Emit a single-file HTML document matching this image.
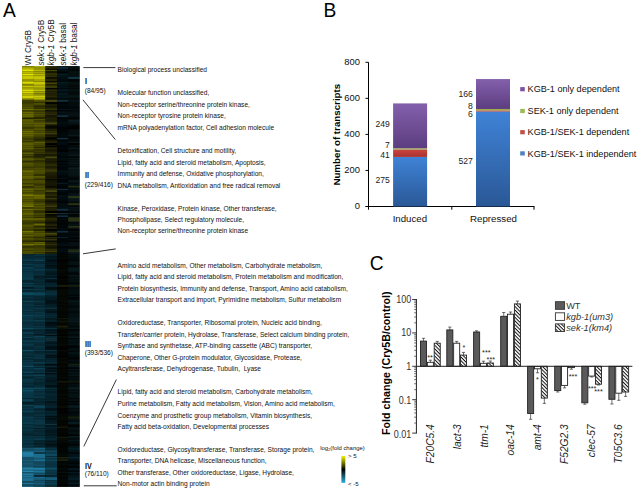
<!DOCTYPE html>
<html><head><meta charset="utf-8"><style>
html,body{margin:0;padding:0;background:#fff;width:639px;height:491px;overflow:hidden}
svg{display:block;font-family:"Liberation Sans", sans-serif}
</style></head><body>
<svg width="639" height="491" viewBox="0 0 639 491">
<defs>
<pattern id="hatch" patternUnits="userSpaceOnUse" width="2.55" height="2.55" patternTransform="rotate(45)">
<rect width="2.55" height="2.55" fill="#fff"/><rect x="0" y="0" width="2.55" height="1.0" fill="#111"/>
</pattern>
<linearGradient id="gPur" x1="0" y1="0" x2="0" y2="1"><stop offset="0" stop-color="#8460ac"/><stop offset="1" stop-color="#5c3d80"/></linearGradient>
<linearGradient id="gGrn" x1="0" y1="0" x2="0" y2="1"><stop offset="0" stop-color="#a8b850"/><stop offset="1" stop-color="#8a9a40"/></linearGradient>
<linearGradient id="gRed" x1="0" y1="0" x2="0" y2="1"><stop offset="0" stop-color="#cc4440"/><stop offset="1" stop-color="#a83330"/></linearGradient>
<linearGradient id="gBlu" x1="0" y1="0" x2="0" y2="1"><stop offset="0" stop-color="#3f82d6"/><stop offset="1" stop-color="#2a5896"/></linearGradient>
<linearGradient id="gBlu2" x1="0" y1="0" x2="0" y2="1"><stop offset="0" stop-color="#3f82d6"/><stop offset="1" stop-color="#2a5896"/></linearGradient>
<linearGradient id="cbar" x1="0" y1="0" x2="0" y2="1"><stop offset="0" stop-color="#f2f200"/><stop offset="0.5" stop-color="#000"/><stop offset="1" stop-color="#30b0e0"/></linearGradient>
</defs>

<text transform="translate(2.9,16.9) scale(0.95,1)" font-size="20.2" fill="#000">A</text>
<text transform="translate(323.4,16.9) scale(0.95,1)" font-size="20.2" fill="#000">B</text>
<text transform="translate(369.8,269.9) scale(0.95,1)" font-size="20.2" fill="#000">C</text>
<g>
<rect x="22.1" y="66.2" width="57.449999999999996" height="420.6" fill="#050a0a"/>
<rect x="22.10" y="66.20" width="11.80" height="1.15" fill="rgb(150, 150, 0)"/>
<rect x="33.85" y="66.20" width="11.50" height="1.15" fill="rgb(201, 201, 6)"/>
<rect x="45.30" y="66.20" width="11.75" height="1.15" fill="rgb(44, 44, 3)"/>
<rect x="57.00" y="66.20" width="11.20" height="1.15" fill="rgb(3, 21, 27)"/>
<rect x="68.15" y="66.20" width="11.45" height="1.15" fill="rgb(7, 19, 19)"/>
<rect x="22.10" y="67.30" width="11.80" height="1.55" fill="rgb(199, 199, 0)"/>
<rect x="33.85" y="67.30" width="11.50" height="1.55" fill="rgb(172, 172, 5)"/>
<rect x="45.30" y="67.30" width="11.75" height="1.55" fill="rgb(40, 40, 3)"/>
<rect x="57.00" y="67.30" width="11.20" height="1.55" fill="rgb(18, 50, 64)"/>
<rect x="68.15" y="67.30" width="11.45" height="1.55" fill="rgb(5, 16, 16)"/>
<rect x="22.10" y="68.80" width="11.80" height="1.15" fill="rgb(202, 202, 0)"/>
<rect x="33.85" y="68.80" width="11.50" height="1.15" fill="rgb(154, 154, 4)"/>
<rect x="45.30" y="68.80" width="11.75" height="1.15" fill="rgb(8, 8, 0)"/>
<rect x="57.00" y="68.80" width="11.20" height="1.15" fill="rgb(2, 13, 16)"/>
<rect x="68.15" y="68.80" width="11.45" height="1.15" fill="rgb(4, 11, 11)"/>
<rect x="22.10" y="69.90" width="11.80" height="1.55" fill="rgb(228, 228, 0)"/>
<rect x="33.85" y="69.90" width="11.50" height="1.55" fill="rgb(184, 184, 5)"/>
<rect x="45.30" y="69.90" width="11.75" height="1.55" fill="rgb(70, 70, 5)"/>
<rect x="57.00" y="69.90" width="11.20" height="1.55" fill="rgb(3, 21, 26)"/>
<rect x="68.15" y="69.90" width="11.45" height="1.55" fill="rgb(2, 8, 8)"/>
<rect x="22.10" y="71.40" width="11.80" height="1.55" fill="rgb(196, 196, 0)"/>
<rect x="33.85" y="71.40" width="11.50" height="1.55" fill="rgb(173, 173, 5)"/>
<rect x="45.30" y="71.40" width="11.75" height="1.55" fill="rgb(18, 18, 1)"/>
<rect x="57.00" y="71.40" width="11.20" height="1.55" fill="rgb(0, 5, 6)"/>
<rect x="68.15" y="71.40" width="11.45" height="1.55" fill="rgb(7, 20, 20)"/>
<rect x="22.10" y="72.90" width="11.80" height="0.75" fill="rgb(189, 189, 0)"/>
<rect x="33.85" y="72.90" width="11.50" height="0.75" fill="rgb(180, 180, 5)"/>
<rect x="45.30" y="72.90" width="11.75" height="0.75" fill="rgb(70, 70, 5)"/>
<rect x="57.00" y="72.90" width="11.20" height="0.75" fill="rgb(1, 6, 7)"/>
<rect x="68.15" y="72.90" width="11.45" height="0.75" fill="rgb(6, 17, 17)"/>
<rect x="22.10" y="73.60" width="11.80" height="1.85" fill="rgb(228, 228, 0)"/>
<rect x="33.85" y="73.60" width="11.50" height="1.85" fill="rgb(184, 184, 5)"/>
<rect x="45.30" y="73.60" width="11.75" height="1.85" fill="rgb(46, 46, 3)"/>
<rect x="57.00" y="73.60" width="11.20" height="1.85" fill="rgb(4, 28, 34)"/>
<rect x="68.15" y="73.60" width="11.45" height="1.85" fill="rgb(5, 16, 16)"/>
<rect x="22.10" y="75.40" width="11.80" height="1.55" fill="rgb(210, 210, 0)"/>
<rect x="33.85" y="75.40" width="11.50" height="1.55" fill="rgb(198, 198, 6)"/>
<rect x="45.30" y="75.40" width="11.75" height="1.55" fill="rgb(53, 53, 4)"/>
<rect x="57.00" y="75.40" width="11.20" height="1.55" fill="rgb(4, 24, 29)"/>
<rect x="68.15" y="75.40" width="11.45" height="1.55" fill="rgb(6, 17, 17)"/>
<rect x="22.10" y="76.90" width="11.80" height="2.15" fill="rgb(200, 200, 0)"/>
<rect x="33.85" y="76.90" width="11.50" height="2.15" fill="rgb(197, 197, 6)"/>
<rect x="45.30" y="76.90" width="11.75" height="2.15" fill="rgb(16, 16, 1)"/>
<rect x="57.00" y="76.90" width="11.20" height="2.15" fill="rgb(2, 14, 18)"/>
<rect x="68.15" y="76.90" width="11.45" height="2.15" fill="rgb(18, 50, 64)"/>
<rect x="22.10" y="79.00" width="11.80" height="2.15" fill="rgb(150, 150, 0)"/>
<rect x="33.85" y="79.00" width="11.50" height="2.15" fill="rgb(167, 167, 5)"/>
<rect x="45.30" y="79.00" width="11.75" height="2.15" fill="rgb(37, 37, 2)"/>
<rect x="57.00" y="79.00" width="11.20" height="2.15" fill="rgb(1, 11, 13)"/>
<rect x="68.15" y="79.00" width="11.45" height="2.15" fill="rgb(2, 5, 5)"/>
<rect x="22.10" y="81.10" width="11.80" height="0.75" fill="rgb(192, 192, 0)"/>
<rect x="33.85" y="81.10" width="11.50" height="0.75" fill="rgb(157, 157, 5)"/>
<rect x="45.30" y="81.10" width="11.75" height="0.75" fill="rgb(1, 1, 0)"/>
<rect x="57.00" y="81.10" width="11.20" height="0.75" fill="rgb(0, 1, 2)"/>
<rect x="68.15" y="81.10" width="11.45" height="0.75" fill="rgb(2, 7, 7)"/>
<rect x="22.10" y="81.80" width="11.80" height="1.35" fill="rgb(219, 219, 0)"/>
<rect x="33.85" y="81.80" width="11.50" height="1.35" fill="rgb(201, 201, 6)"/>
<rect x="45.30" y="81.80" width="11.75" height="1.35" fill="rgb(45, 45, 3)"/>
<rect x="57.00" y="81.80" width="11.20" height="1.35" fill="rgb(5, 31, 38)"/>
<rect x="68.15" y="81.80" width="11.45" height="1.35" fill="rgb(6, 17, 17)"/>
<rect x="22.10" y="83.10" width="11.80" height="1.15" fill="rgb(212, 212, 0)"/>
<rect x="33.85" y="83.10" width="11.50" height="1.15" fill="rgb(215, 215, 6)"/>
<rect x="45.30" y="83.10" width="11.75" height="1.15" fill="rgb(75, 75, 5)"/>
<rect x="57.00" y="83.10" width="11.20" height="1.15" fill="rgb(3, 21, 26)"/>
<rect x="68.15" y="83.10" width="11.45" height="1.15" fill="rgb(7, 21, 21)"/>
<rect x="22.10" y="84.20" width="11.80" height="1.35" fill="rgb(150, 150, 0)"/>
<rect x="33.85" y="84.20" width="11.50" height="1.35" fill="rgb(208, 208, 6)"/>
<rect x="45.30" y="84.20" width="11.75" height="1.35" fill="rgb(34, 34, 2)"/>
<rect x="57.00" y="84.20" width="11.20" height="1.35" fill="rgb(4, 25, 31)"/>
<rect x="68.15" y="84.20" width="11.45" height="1.35" fill="rgb(5, 16, 16)"/>
<rect x="22.10" y="85.50" width="11.80" height="1.85" fill="rgb(198, 198, 0)"/>
<rect x="33.85" y="85.50" width="11.50" height="1.85" fill="rgb(189, 189, 6)"/>
<rect x="45.30" y="85.50" width="11.75" height="1.85" fill="rgb(60, 60, 4)"/>
<rect x="57.00" y="85.50" width="11.20" height="1.85" fill="rgb(2, 14, 18)"/>
<rect x="68.15" y="85.50" width="11.45" height="1.85" fill="rgb(4, 11, 11)"/>
<rect x="22.10" y="87.30" width="11.80" height="0.95" fill="rgb(188, 188, 0)"/>
<rect x="33.85" y="87.30" width="11.50" height="0.95" fill="rgb(197, 197, 6)"/>
<rect x="45.30" y="87.30" width="11.75" height="0.95" fill="rgb(70, 70, 15)"/>
<rect x="57.00" y="87.30" width="11.20" height="0.95" fill="rgb(4, 24, 30)"/>
<rect x="68.15" y="87.30" width="11.45" height="0.95" fill="rgb(6, 17, 17)"/>
<rect x="22.10" y="88.20" width="11.80" height="1.15" fill="rgb(193, 193, 0)"/>
<rect x="33.85" y="88.20" width="11.50" height="1.15" fill="rgb(176, 176, 5)"/>
<rect x="45.30" y="88.20" width="11.75" height="1.15" fill="rgb(1, 1, 0)"/>
<rect x="57.00" y="88.20" width="11.20" height="1.15" fill="rgb(1, 8, 10)"/>
<rect x="68.15" y="88.20" width="11.45" height="1.15" fill="rgb(3, 8, 8)"/>
<rect x="22.10" y="89.30" width="11.80" height="2.15" fill="rgb(226, 226, 0)"/>
<rect x="33.85" y="89.30" width="11.50" height="2.15" fill="rgb(194, 194, 6)"/>
<rect x="45.30" y="89.30" width="11.75" height="2.15" fill="rgb(41, 41, 3)"/>
<rect x="57.00" y="89.30" width="11.20" height="2.15" fill="rgb(4, 26, 32)"/>
<rect x="68.15" y="89.30" width="11.45" height="2.15" fill="rgb(6, 19, 19)"/>
<rect x="22.10" y="91.40" width="11.80" height="1.85" fill="rgb(216, 216, 0)"/>
<rect x="33.85" y="91.40" width="11.50" height="1.85" fill="rgb(165, 165, 5)"/>
<rect x="45.30" y="91.40" width="11.75" height="1.85" fill="rgb(36, 36, 2)"/>
<rect x="57.00" y="91.40" width="11.20" height="1.85" fill="rgb(2, 14, 17)"/>
<rect x="68.15" y="91.40" width="11.45" height="1.85" fill="rgb(4, 12, 12)"/>
<rect x="22.10" y="93.20" width="11.80" height="2.15" fill="rgb(182, 182, 0)"/>
<rect x="33.85" y="93.20" width="11.50" height="2.15" fill="rgb(144, 144, 4)"/>
<rect x="45.30" y="93.20" width="11.75" height="2.15" fill="rgb(33, 33, 2)"/>
<rect x="57.00" y="93.20" width="11.20" height="2.15" fill="rgb(4, 24, 30)"/>
<rect x="68.15" y="93.20" width="11.45" height="2.15" fill="rgb(4, 12, 12)"/>
<rect x="22.10" y="95.30" width="11.80" height="1.85" fill="rgb(208, 208, 0)"/>
<rect x="33.85" y="95.30" width="11.50" height="1.85" fill="rgb(203, 203, 6)"/>
<rect x="45.30" y="95.30" width="11.75" height="1.85" fill="rgb(40, 40, 3)"/>
<rect x="57.00" y="95.30" width="11.20" height="1.85" fill="rgb(3, 21, 27)"/>
<rect x="68.15" y="95.30" width="11.45" height="1.85" fill="rgb(8, 24, 24)"/>
<rect x="22.10" y="97.10" width="11.80" height="0.95" fill="rgb(228, 228, 0)"/>
<rect x="33.85" y="97.10" width="11.50" height="0.95" fill="rgb(190, 190, 6)"/>
<rect x="45.30" y="97.10" width="11.75" height="0.95" fill="rgb(28, 28, 2)"/>
<rect x="57.00" y="97.10" width="11.20" height="0.95" fill="rgb(4, 26, 32)"/>
<rect x="68.15" y="97.10" width="11.45" height="0.95" fill="rgb(6, 17, 17)"/>
<rect x="22.10" y="98.00" width="11.80" height="1.85" fill="rgb(150, 150, 0)"/>
<rect x="33.85" y="98.00" width="11.50" height="1.85" fill="rgb(184, 184, 5)"/>
<rect x="45.30" y="98.00" width="11.75" height="1.85" fill="rgb(16, 16, 1)"/>
<rect x="57.00" y="98.00" width="11.20" height="1.85" fill="rgb(1, 9, 11)"/>
<rect x="68.15" y="98.00" width="11.45" height="1.85" fill="rgb(3, 10, 10)"/>
<rect x="22.10" y="99.80" width="11.80" height="2.15" fill="rgb(61, 61, 0)"/>
<rect x="33.85" y="99.80" width="11.50" height="2.15" fill="rgb(85, 85, 0)"/>
<rect x="45.30" y="99.80" width="11.75" height="2.15" fill="rgb(70, 70, 15)"/>
<rect x="57.00" y="99.80" width="11.20" height="2.15" fill="rgb(15, 45, 58)"/>
<rect x="68.15" y="99.80" width="11.45" height="2.15" fill="rgb(8, 20, 23)"/>
<rect x="22.10" y="101.90" width="11.80" height="0.75" fill="rgb(79, 79, 0)"/>
<rect x="33.85" y="101.90" width="11.50" height="0.75" fill="rgb(39, 39, 0)"/>
<rect x="45.30" y="101.90" width="11.75" height="0.75" fill="rgb(17, 17, 2)"/>
<rect x="57.00" y="101.90" width="11.20" height="0.75" fill="rgb(0, 1, 1)"/>
<rect x="68.15" y="101.90" width="11.45" height="0.75" fill="rgb(4, 11, 12)"/>
<rect x="22.10" y="102.60" width="11.80" height="1.85" fill="rgb(61, 61, 0)"/>
<rect x="33.85" y="102.60" width="11.50" height="1.85" fill="rgb(79, 79, 0)"/>
<rect x="45.30" y="102.60" width="11.75" height="1.85" fill="rgb(1, 1, 0)"/>
<rect x="57.00" y="102.60" width="11.20" height="1.85" fill="rgb(1, 4, 6)"/>
<rect x="68.15" y="102.60" width="11.45" height="1.85" fill="rgb(4, 12, 13)"/>
<rect x="22.10" y="104.40" width="11.80" height="1.15" fill="rgb(97, 97, 0)"/>
<rect x="33.85" y="104.40" width="11.50" height="1.15" fill="rgb(99, 99, 0)"/>
<rect x="45.30" y="104.40" width="11.75" height="1.15" fill="rgb(43, 43, 7)"/>
<rect x="57.00" y="104.40" width="11.20" height="1.15" fill="rgb(2, 12, 16)"/>
<rect x="68.15" y="104.40" width="11.45" height="1.15" fill="rgb(6, 15, 18)"/>
<rect x="22.10" y="105.50" width="11.80" height="0.95" fill="rgb(93, 93, 0)"/>
<rect x="33.85" y="105.50" width="11.50" height="0.95" fill="rgb(47, 47, 0)"/>
<rect x="45.30" y="105.50" width="11.75" height="0.95" fill="rgb(33, 33, 5)"/>
<rect x="57.00" y="105.50" width="11.20" height="0.95" fill="rgb(2, 10, 14)"/>
<rect x="68.15" y="105.50" width="11.45" height="0.95" fill="rgb(5, 12, 14)"/>
<rect x="22.10" y="106.40" width="11.80" height="1.85" fill="rgb(81, 81, 0)"/>
<rect x="33.85" y="106.40" width="11.50" height="1.85" fill="rgb(54, 54, 0)"/>
<rect x="45.30" y="106.40" width="11.75" height="1.85" fill="rgb(26, 26, 4)"/>
<rect x="57.00" y="106.40" width="11.20" height="1.85" fill="rgb(1, 5, 7)"/>
<rect x="68.15" y="106.40" width="11.45" height="1.85" fill="rgb(3, 8, 10)"/>
<rect x="22.10" y="108.20" width="11.80" height="0.75" fill="rgb(87, 87, 0)"/>
<rect x="33.85" y="108.20" width="11.50" height="0.75" fill="rgb(51, 51, 0)"/>
<rect x="45.30" y="108.20" width="11.75" height="0.75" fill="rgb(51, 51, 8)"/>
<rect x="57.00" y="108.20" width="11.20" height="0.75" fill="rgb(1, 8, 11)"/>
<rect x="68.15" y="108.20" width="11.45" height="0.75" fill="rgb(3, 8, 9)"/>
<rect x="22.10" y="108.90" width="11.80" height="1.15" fill="rgb(109, 109, 0)"/>
<rect x="33.85" y="108.90" width="11.50" height="1.15" fill="rgb(89, 89, 0)"/>
<rect x="45.30" y="108.90" width="11.75" height="1.15" fill="rgb(51, 51, 8)"/>
<rect x="57.00" y="108.90" width="11.20" height="1.15" fill="rgb(4, 19, 25)"/>
<rect x="68.15" y="108.90" width="11.45" height="1.15" fill="rgb(6, 16, 18)"/>
<rect x="22.10" y="110.00" width="11.80" height="1.55" fill="rgb(62, 62, 0)"/>
<rect x="33.85" y="110.00" width="11.50" height="1.55" fill="rgb(60, 60, 0)"/>
<rect x="45.30" y="110.00" width="11.75" height="1.55" fill="rgb(19, 19, 3)"/>
<rect x="57.00" y="110.00" width="11.20" height="1.55" fill="rgb(0, 3, 5)"/>
<rect x="68.15" y="110.00" width="11.45" height="1.55" fill="rgb(3, 9, 11)"/>
<rect x="22.10" y="111.50" width="11.80" height="2.15" fill="rgb(103, 103, 0)"/>
<rect x="33.85" y="111.50" width="11.50" height="2.15" fill="rgb(73, 73, 0)"/>
<rect x="45.30" y="111.50" width="11.75" height="2.15" fill="rgb(38, 38, 6)"/>
<rect x="57.00" y="111.50" width="11.20" height="2.15" fill="rgb(4, 20, 27)"/>
<rect x="68.15" y="111.50" width="11.45" height="2.15" fill="rgb(6, 15, 18)"/>
<rect x="22.10" y="113.60" width="11.80" height="1.55" fill="rgb(106, 106, 0)"/>
<rect x="33.85" y="113.60" width="11.50" height="1.55" fill="rgb(81, 81, 0)"/>
<rect x="45.30" y="113.60" width="11.75" height="1.55" fill="rgb(43, 43, 7)"/>
<rect x="57.00" y="113.60" width="11.20" height="1.55" fill="rgb(3, 13, 18)"/>
<rect x="68.15" y="113.60" width="11.45" height="1.55" fill="rgb(8, 20, 22)"/>
<rect x="22.10" y="115.10" width="11.80" height="2.15" fill="rgb(103, 103, 0)"/>
<rect x="33.85" y="115.10" width="11.50" height="2.15" fill="rgb(69, 69, 0)"/>
<rect x="45.30" y="115.10" width="11.75" height="2.15" fill="rgb(24, 24, 4)"/>
<rect x="57.00" y="115.10" width="11.20" height="2.15" fill="rgb(15, 45, 58)"/>
<rect x="68.15" y="115.10" width="11.45" height="2.15" fill="rgb(6, 16, 18)"/>
<rect x="22.10" y="117.20" width="11.80" height="0.95" fill="rgb(77, 77, 0)"/>
<rect x="33.85" y="117.20" width="11.50" height="0.95" fill="rgb(42, 42, 0)"/>
<rect x="45.30" y="117.20" width="11.75" height="0.95" fill="rgb(29, 29, 4)"/>
<rect x="57.00" y="117.20" width="11.20" height="0.95" fill="rgb(0, 4, 5)"/>
<rect x="68.15" y="117.20" width="11.45" height="0.95" fill="rgb(2, 5, 6)"/>
<rect x="22.10" y="118.10" width="11.80" height="1.15" fill="rgb(38, 38, 0)"/>
<rect x="33.85" y="118.10" width="11.50" height="1.15" fill="rgb(44, 44, 0)"/>
<rect x="45.30" y="118.10" width="11.75" height="1.15" fill="rgb(39, 39, 6)"/>
<rect x="57.00" y="118.10" width="11.20" height="1.15" fill="rgb(0, 3, 4)"/>
<rect x="68.15" y="118.10" width="11.45" height="1.15" fill="rgb(2, 5, 6)"/>
<rect x="22.10" y="119.20" width="11.80" height="0.95" fill="rgb(102, 102, 0)"/>
<rect x="33.85" y="119.20" width="11.50" height="0.95" fill="rgb(99, 99, 0)"/>
<rect x="45.30" y="119.20" width="11.75" height="0.95" fill="rgb(33, 33, 5)"/>
<rect x="57.00" y="119.20" width="11.20" height="0.95" fill="rgb(2, 10, 14)"/>
<rect x="68.15" y="119.20" width="11.45" height="0.95" fill="rgb(6, 16, 18)"/>
<rect x="22.10" y="120.10" width="11.80" height="1.55" fill="rgb(97, 97, 0)"/>
<rect x="33.85" y="120.10" width="11.50" height="1.55" fill="rgb(63, 63, 0)"/>
<rect x="45.30" y="120.10" width="11.75" height="1.55" fill="rgb(32, 32, 5)"/>
<rect x="57.00" y="120.10" width="11.20" height="1.55" fill="rgb(1, 8, 11)"/>
<rect x="68.15" y="120.10" width="11.45" height="1.55" fill="rgb(12, 30, 34)"/>
<rect x="22.10" y="121.60" width="11.80" height="0.95" fill="rgb(112, 112, 0)"/>
<rect x="33.85" y="121.60" width="11.50" height="0.95" fill="rgb(96, 96, 0)"/>
<rect x="45.30" y="121.60" width="11.75" height="0.95" fill="rgb(55, 55, 9)"/>
<rect x="57.00" y="121.60" width="11.20" height="0.95" fill="rgb(3, 16, 22)"/>
<rect x="68.15" y="121.60" width="11.45" height="0.95" fill="rgb(10, 26, 30)"/>
<rect x="22.10" y="122.50" width="11.80" height="2.15" fill="rgb(94, 94, 0)"/>
<rect x="33.85" y="122.50" width="11.50" height="2.15" fill="rgb(93, 93, 0)"/>
<rect x="45.30" y="122.50" width="11.75" height="2.15" fill="rgb(70, 70, 15)"/>
<rect x="57.00" y="122.50" width="11.20" height="2.15" fill="rgb(3, 14, 18)"/>
<rect x="68.15" y="122.50" width="11.45" height="2.15" fill="rgb(7, 19, 21)"/>
<rect x="22.10" y="124.60" width="11.80" height="1.55" fill="rgb(83, 83, 0)"/>
<rect x="33.85" y="124.60" width="11.50" height="1.55" fill="rgb(96, 96, 0)"/>
<rect x="45.30" y="124.60" width="11.75" height="1.55" fill="rgb(20, 20, 3)"/>
<rect x="57.00" y="124.60" width="11.20" height="1.55" fill="rgb(2, 10, 13)"/>
<rect x="68.15" y="124.60" width="11.45" height="1.55" fill="rgb(2, 7, 7)"/>
<rect x="22.10" y="126.10" width="11.80" height="1.55" fill="rgb(80, 80, 0)"/>
<rect x="33.85" y="126.10" width="11.50" height="1.55" fill="rgb(86, 86, 0)"/>
<rect x="45.30" y="126.10" width="11.75" height="1.55" fill="rgb(6, 6, 1)"/>
<rect x="57.00" y="126.10" width="11.20" height="1.55" fill="rgb(1, 7, 10)"/>
<rect x="68.15" y="126.10" width="11.45" height="1.55" fill="rgb(1, 3, 3)"/>
<rect x="22.10" y="127.60" width="11.80" height="1.55" fill="rgb(58, 58, 0)"/>
<rect x="33.85" y="127.60" width="11.50" height="1.55" fill="rgb(76, 76, 0)"/>
<rect x="45.30" y="127.60" width="11.75" height="1.55" fill="rgb(16, 16, 2)"/>
<rect x="57.00" y="127.60" width="11.20" height="1.55" fill="rgb(0, 2, 3)"/>
<rect x="68.15" y="127.60" width="11.45" height="1.55" fill="rgb(0, 0, 0)"/>
<rect x="22.10" y="129.10" width="11.80" height="0.75" fill="rgb(102, 102, 0)"/>
<rect x="33.85" y="129.10" width="11.50" height="0.75" fill="rgb(101, 101, 0)"/>
<rect x="45.30" y="129.10" width="11.75" height="0.75" fill="rgb(49, 49, 8)"/>
<rect x="57.00" y="129.10" width="11.20" height="0.75" fill="rgb(1, 7, 9)"/>
<rect x="68.15" y="129.10" width="11.45" height="0.75" fill="rgb(4, 11, 13)"/>
<rect x="22.10" y="129.80" width="11.80" height="0.75" fill="rgb(83, 83, 0)"/>
<rect x="33.85" y="129.80" width="11.50" height="0.75" fill="rgb(97, 97, 0)"/>
<rect x="45.30" y="129.80" width="11.75" height="0.75" fill="rgb(16, 16, 2)"/>
<rect x="57.00" y="129.80" width="11.20" height="0.75" fill="rgb(0, 2, 2)"/>
<rect x="68.15" y="129.80" width="11.45" height="0.75" fill="rgb(4, 11, 13)"/>
<rect x="22.10" y="130.50" width="11.80" height="2.15" fill="rgb(106, 106, 0)"/>
<rect x="33.85" y="130.50" width="11.50" height="2.15" fill="rgb(77, 77, 0)"/>
<rect x="45.30" y="130.50" width="11.75" height="2.15" fill="rgb(47, 47, 7)"/>
<rect x="57.00" y="130.50" width="11.20" height="2.15" fill="rgb(1, 5, 6)"/>
<rect x="68.15" y="130.50" width="11.45" height="2.15" fill="rgb(5, 14, 16)"/>
<rect x="22.10" y="132.60" width="11.80" height="2.15" fill="rgb(105, 105, 0)"/>
<rect x="33.85" y="132.60" width="11.50" height="2.15" fill="rgb(93, 93, 0)"/>
<rect x="45.30" y="132.60" width="11.75" height="2.15" fill="rgb(57, 57, 9)"/>
<rect x="57.00" y="132.60" width="11.20" height="2.15" fill="rgb(2, 9, 12)"/>
<rect x="68.15" y="132.60" width="11.45" height="2.15" fill="rgb(5, 13, 15)"/>
<rect x="22.10" y="134.70" width="11.80" height="1.35" fill="rgb(97, 97, 0)"/>
<rect x="33.85" y="134.70" width="11.50" height="1.35" fill="rgb(69, 69, 0)"/>
<rect x="45.30" y="134.70" width="11.75" height="1.35" fill="rgb(20, 20, 3)"/>
<rect x="57.00" y="134.70" width="11.20" height="1.35" fill="rgb(2, 9, 13)"/>
<rect x="68.15" y="134.70" width="11.45" height="1.35" fill="rgb(10, 25, 28)"/>
<rect x="22.10" y="136.00" width="11.80" height="0.75" fill="rgb(98, 98, 0)"/>
<rect x="33.85" y="136.00" width="11.50" height="0.75" fill="rgb(83, 83, 0)"/>
<rect x="45.30" y="136.00" width="11.75" height="0.75" fill="rgb(46, 46, 7)"/>
<rect x="57.00" y="136.00" width="11.20" height="0.75" fill="rgb(2, 12, 16)"/>
<rect x="68.15" y="136.00" width="11.45" height="0.75" fill="rgb(9, 22, 26)"/>
<rect x="22.10" y="136.70" width="11.80" height="1.15" fill="rgb(88, 88, 0)"/>
<rect x="33.85" y="136.70" width="11.50" height="1.15" fill="rgb(58, 58, 0)"/>
<rect x="45.30" y="136.70" width="11.75" height="1.15" fill="rgb(12, 12, 2)"/>
<rect x="57.00" y="136.70" width="11.20" height="1.15" fill="rgb(0, 4, 5)"/>
<rect x="68.15" y="136.70" width="11.45" height="1.15" fill="rgb(1, 2, 3)"/>
<rect x="22.10" y="137.80" width="11.80" height="1.85" fill="rgb(62, 62, 0)"/>
<rect x="33.85" y="137.80" width="11.50" height="1.85" fill="rgb(45, 45, 0)"/>
<rect x="45.30" y="137.80" width="11.75" height="1.85" fill="rgb(2, 2, 0)"/>
<rect x="57.00" y="137.80" width="11.20" height="1.85" fill="rgb(15, 45, 58)"/>
<rect x="68.15" y="137.80" width="11.45" height="1.85" fill="rgb(2, 5, 6)"/>
<rect x="22.10" y="139.60" width="11.80" height="1.35" fill="rgb(84, 84, 0)"/>
<rect x="33.85" y="139.60" width="11.50" height="1.35" fill="rgb(44, 44, 0)"/>
<rect x="45.30" y="139.60" width="11.75" height="1.35" fill="rgb(23, 23, 3)"/>
<rect x="57.00" y="139.60" width="11.20" height="1.35" fill="rgb(0, 3, 5)"/>
<rect x="68.15" y="139.60" width="11.45" height="1.35" fill="rgb(5, 13, 15)"/>
<rect x="22.10" y="140.90" width="11.80" height="0.95" fill="rgb(52, 52, 0)"/>
<rect x="33.85" y="140.90" width="11.50" height="0.95" fill="rgb(62, 62, 0)"/>
<rect x="45.30" y="140.90" width="11.75" height="0.95" fill="rgb(36, 36, 6)"/>
<rect x="57.00" y="140.90" width="11.20" height="0.95" fill="rgb(2, 12, 16)"/>
<rect x="68.15" y="140.90" width="11.45" height="0.95" fill="rgb(5, 12, 14)"/>
<rect x="22.10" y="141.80" width="11.80" height="1.15" fill="rgb(82, 82, 0)"/>
<rect x="33.85" y="141.80" width="11.50" height="1.15" fill="rgb(98, 98, 0)"/>
<rect x="45.30" y="141.80" width="11.75" height="1.15" fill="rgb(40, 40, 6)"/>
<rect x="57.00" y="141.80" width="11.20" height="1.15" fill="rgb(3, 16, 21)"/>
<rect x="68.15" y="141.80" width="11.45" height="1.15" fill="rgb(12, 30, 34)"/>
<rect x="22.10" y="142.90" width="11.80" height="2.15" fill="rgb(92, 92, 0)"/>
<rect x="33.85" y="142.90" width="11.50" height="2.15" fill="rgb(72, 72, 0)"/>
<rect x="45.30" y="142.90" width="11.75" height="2.15" fill="rgb(1, 1, 0)"/>
<rect x="57.00" y="142.90" width="11.20" height="2.15" fill="rgb(2, 11, 15)"/>
<rect x="68.15" y="142.90" width="11.45" height="2.15" fill="rgb(0, 0, 0)"/>
<rect x="22.10" y="145.00" width="11.80" height="0.75" fill="rgb(89, 89, 0)"/>
<rect x="33.85" y="145.00" width="11.50" height="0.75" fill="rgb(76, 76, 0)"/>
<rect x="45.30" y="145.00" width="11.75" height="0.75" fill="rgb(34, 34, 5)"/>
<rect x="57.00" y="145.00" width="11.20" height="0.75" fill="rgb(0, 3, 4)"/>
<rect x="68.15" y="145.00" width="11.45" height="0.75" fill="rgb(8, 20, 23)"/>
<rect x="22.10" y="145.70" width="11.80" height="1.35" fill="rgb(90, 90, 0)"/>
<rect x="33.85" y="145.70" width="11.50" height="1.35" fill="rgb(63, 63, 0)"/>
<rect x="45.30" y="145.70" width="11.75" height="1.35" fill="rgb(1, 1, 0)"/>
<rect x="57.00" y="145.70" width="11.20" height="1.35" fill="rgb(1, 6, 8)"/>
<rect x="68.15" y="145.70" width="11.45" height="1.35" fill="rgb(3, 8, 9)"/>
<rect x="22.10" y="147.00" width="11.80" height="0.95" fill="rgb(79, 79, 0)"/>
<rect x="33.85" y="147.00" width="11.50" height="0.95" fill="rgb(41, 41, 0)"/>
<rect x="45.30" y="147.00" width="11.75" height="0.95" fill="rgb(27, 27, 4)"/>
<rect x="57.00" y="147.00" width="11.20" height="0.95" fill="rgb(1, 5, 6)"/>
<rect x="68.15" y="147.00" width="11.45" height="0.95" fill="rgb(6, 15, 17)"/>
<rect x="22.10" y="147.90" width="11.80" height="1.55" fill="rgb(93, 93, 0)"/>
<rect x="33.85" y="147.90" width="11.50" height="1.55" fill="rgb(70, 70, 0)"/>
<rect x="45.30" y="147.90" width="11.75" height="1.55" fill="rgb(35, 35, 5)"/>
<rect x="57.00" y="147.90" width="11.20" height="1.55" fill="rgb(2, 9, 12)"/>
<rect x="68.15" y="147.90" width="11.45" height="1.55" fill="rgb(9, 23, 26)"/>
<rect x="22.10" y="149.40" width="11.80" height="1.35" fill="rgb(88, 88, 0)"/>
<rect x="33.85" y="149.40" width="11.50" height="1.35" fill="rgb(61, 61, 0)"/>
<rect x="45.30" y="149.40" width="11.75" height="1.35" fill="rgb(28, 28, 4)"/>
<rect x="57.00" y="149.40" width="11.20" height="1.35" fill="rgb(0, 0, 1)"/>
<rect x="68.15" y="149.40" width="11.45" height="1.35" fill="rgb(3, 9, 10)"/>
<rect x="22.10" y="150.70" width="11.80" height="1.55" fill="rgb(51, 51, 0)"/>
<rect x="33.85" y="150.70" width="11.50" height="1.55" fill="rgb(59, 59, 0)"/>
<rect x="45.30" y="150.70" width="11.75" height="1.55" fill="rgb(27, 27, 4)"/>
<rect x="57.00" y="150.70" width="11.20" height="1.55" fill="rgb(0, 2, 2)"/>
<rect x="68.15" y="150.70" width="11.45" height="1.55" fill="rgb(5, 12, 14)"/>
<rect x="22.10" y="152.20" width="11.80" height="2.15" fill="rgb(89, 89, 0)"/>
<rect x="33.85" y="152.20" width="11.50" height="2.15" fill="rgb(55, 55, 0)"/>
<rect x="45.30" y="152.20" width="11.75" height="2.15" fill="rgb(43, 43, 7)"/>
<rect x="57.00" y="152.20" width="11.20" height="2.15" fill="rgb(3, 14, 19)"/>
<rect x="68.15" y="152.20" width="11.45" height="2.15" fill="rgb(6, 15, 18)"/>
<rect x="22.10" y="154.30" width="11.80" height="2.15" fill="rgb(71, 71, 0)"/>
<rect x="33.85" y="154.30" width="11.50" height="2.15" fill="rgb(34, 34, 0)"/>
<rect x="45.30" y="154.30" width="11.75" height="2.15" fill="rgb(26, 26, 4)"/>
<rect x="57.00" y="154.30" width="11.20" height="2.15" fill="rgb(2, 11, 15)"/>
<rect x="68.15" y="154.30" width="11.45" height="2.15" fill="rgb(9, 23, 26)"/>
<rect x="22.10" y="156.40" width="11.80" height="1.85" fill="rgb(56, 56, 0)"/>
<rect x="33.85" y="156.40" width="11.50" height="1.85" fill="rgb(42, 42, 0)"/>
<rect x="45.30" y="156.40" width="11.75" height="1.85" fill="rgb(70, 70, 15)"/>
<rect x="57.00" y="156.40" width="11.20" height="1.85" fill="rgb(1, 6, 9)"/>
<rect x="68.15" y="156.40" width="11.45" height="1.85" fill="rgb(2, 6, 6)"/>
<rect x="22.10" y="158.20" width="11.80" height="1.15" fill="rgb(95, 95, 0)"/>
<rect x="33.85" y="158.20" width="11.50" height="1.15" fill="rgb(71, 71, 0)"/>
<rect x="45.30" y="158.20" width="11.75" height="1.15" fill="rgb(40, 40, 6)"/>
<rect x="57.00" y="158.20" width="11.20" height="1.15" fill="rgb(3, 15, 20)"/>
<rect x="68.15" y="158.20" width="11.45" height="1.15" fill="rgb(9, 24, 27)"/>
<rect x="22.10" y="159.30" width="11.80" height="1.15" fill="rgb(106, 106, 0)"/>
<rect x="33.85" y="159.30" width="11.50" height="1.15" fill="rgb(87, 87, 0)"/>
<rect x="45.30" y="159.30" width="11.75" height="1.15" fill="rgb(32, 32, 5)"/>
<rect x="57.00" y="159.30" width="11.20" height="1.15" fill="rgb(3, 14, 19)"/>
<rect x="68.15" y="159.30" width="11.45" height="1.15" fill="rgb(5, 13, 15)"/>
<rect x="22.10" y="160.40" width="11.80" height="0.95" fill="rgb(82, 82, 0)"/>
<rect x="33.85" y="160.40" width="11.50" height="0.95" fill="rgb(50, 50, 0)"/>
<rect x="45.30" y="160.40" width="11.75" height="0.95" fill="rgb(37, 37, 6)"/>
<rect x="57.00" y="160.40" width="11.20" height="0.95" fill="rgb(2, 10, 14)"/>
<rect x="68.15" y="160.40" width="11.45" height="0.95" fill="rgb(10, 25, 29)"/>
<rect x="22.10" y="161.30" width="11.80" height="0.95" fill="rgb(47, 47, 0)"/>
<rect x="33.85" y="161.30" width="11.50" height="0.95" fill="rgb(59, 59, 0)"/>
<rect x="45.30" y="161.30" width="11.75" height="0.95" fill="rgb(22, 22, 3)"/>
<rect x="57.00" y="161.30" width="11.20" height="0.95" fill="rgb(0, 1, 1)"/>
<rect x="68.15" y="161.30" width="11.45" height="0.95" fill="rgb(5, 14, 16)"/>
<rect x="22.10" y="162.20" width="11.80" height="1.85" fill="rgb(83, 83, 0)"/>
<rect x="33.85" y="162.20" width="11.50" height="1.85" fill="rgb(64, 64, 0)"/>
<rect x="45.30" y="162.20" width="11.75" height="1.85" fill="rgb(32, 32, 5)"/>
<rect x="57.00" y="162.20" width="11.20" height="1.85" fill="rgb(2, 10, 14)"/>
<rect x="68.15" y="162.20" width="11.45" height="1.85" fill="rgb(8, 22, 25)"/>
<rect x="22.10" y="164.00" width="11.80" height="0.75" fill="rgb(92, 92, 0)"/>
<rect x="33.85" y="164.00" width="11.50" height="0.75" fill="rgb(88, 88, 0)"/>
<rect x="45.30" y="164.00" width="11.75" height="0.75" fill="rgb(47, 47, 7)"/>
<rect x="57.00" y="164.00" width="11.20" height="0.75" fill="rgb(1, 7, 10)"/>
<rect x="68.15" y="164.00" width="11.45" height="0.75" fill="rgb(2, 7, 8)"/>
<rect x="22.10" y="164.70" width="11.80" height="0.95" fill="rgb(102, 102, 0)"/>
<rect x="33.85" y="164.70" width="11.50" height="0.95" fill="rgb(66, 66, 0)"/>
<rect x="45.30" y="164.70" width="11.75" height="0.95" fill="rgb(51, 51, 8)"/>
<rect x="57.00" y="164.70" width="11.20" height="0.95" fill="rgb(1, 7, 9)"/>
<rect x="68.15" y="164.70" width="11.45" height="0.95" fill="rgb(9, 23, 27)"/>
<rect x="22.10" y="165.60" width="11.80" height="0.75" fill="rgb(89, 89, 0)"/>
<rect x="33.85" y="165.60" width="11.50" height="0.75" fill="rgb(94, 94, 0)"/>
<rect x="45.30" y="165.60" width="11.75" height="0.75" fill="rgb(63, 63, 10)"/>
<rect x="57.00" y="165.60" width="11.20" height="0.75" fill="rgb(3, 16, 21)"/>
<rect x="68.15" y="165.60" width="11.45" height="0.75" fill="rgb(8, 20, 23)"/>
<rect x="22.10" y="166.30" width="11.80" height="1.15" fill="rgb(83, 83, 0)"/>
<rect x="33.85" y="166.30" width="11.50" height="1.15" fill="rgb(72, 72, 0)"/>
<rect x="45.30" y="166.30" width="11.75" height="1.15" fill="rgb(28, 28, 4)"/>
<rect x="57.00" y="166.30" width="11.20" height="1.15" fill="rgb(2, 11, 15)"/>
<rect x="68.15" y="166.30" width="11.45" height="1.15" fill="rgb(3, 7, 8)"/>
<rect x="22.10" y="167.40" width="11.80" height="2.15" fill="rgb(71, 71, 0)"/>
<rect x="33.85" y="167.40" width="11.50" height="2.15" fill="rgb(76, 76, 0)"/>
<rect x="45.30" y="167.40" width="11.75" height="2.15" fill="rgb(38, 38, 6)"/>
<rect x="57.00" y="167.40" width="11.20" height="2.15" fill="rgb(1, 5, 7)"/>
<rect x="68.15" y="167.40" width="11.45" height="2.15" fill="rgb(11, 28, 32)"/>
<rect x="22.10" y="169.50" width="11.80" height="1.35" fill="rgb(99, 99, 0)"/>
<rect x="33.85" y="169.50" width="11.50" height="1.35" fill="rgb(93, 93, 0)"/>
<rect x="45.30" y="169.50" width="11.75" height="1.35" fill="rgb(70, 70, 15)"/>
<rect x="57.00" y="169.50" width="11.20" height="1.35" fill="rgb(2, 12, 17)"/>
<rect x="68.15" y="169.50" width="11.45" height="1.35" fill="rgb(8, 20, 22)"/>
<rect x="22.10" y="170.80" width="11.80" height="1.85" fill="rgb(106, 106, 0)"/>
<rect x="33.85" y="170.80" width="11.50" height="1.85" fill="rgb(77, 77, 0)"/>
<rect x="45.30" y="170.80" width="11.75" height="1.85" fill="rgb(49, 49, 8)"/>
<rect x="57.00" y="170.80" width="11.20" height="1.85" fill="rgb(4, 18, 24)"/>
<rect x="68.15" y="170.80" width="11.45" height="1.85" fill="rgb(9, 23, 26)"/>
<rect x="22.10" y="172.60" width="11.80" height="1.15" fill="rgb(103, 103, 0)"/>
<rect x="33.85" y="172.60" width="11.50" height="1.15" fill="rgb(109, 109, 0)"/>
<rect x="45.30" y="172.60" width="11.75" height="1.15" fill="rgb(36, 36, 6)"/>
<rect x="57.00" y="172.60" width="11.20" height="1.15" fill="rgb(3, 16, 21)"/>
<rect x="68.15" y="172.60" width="11.45" height="1.15" fill="rgb(9, 23, 26)"/>
<rect x="22.10" y="173.70" width="11.80" height="2.15" fill="rgb(86, 86, 0)"/>
<rect x="33.85" y="173.70" width="11.50" height="2.15" fill="rgb(49, 49, 0)"/>
<rect x="45.30" y="173.70" width="11.75" height="2.15" fill="rgb(30, 30, 5)"/>
<rect x="57.00" y="173.70" width="11.20" height="2.15" fill="rgb(2, 10, 13)"/>
<rect x="68.15" y="173.70" width="11.45" height="2.15" fill="rgb(8, 22, 25)"/>
<rect x="22.10" y="175.80" width="11.80" height="2.15" fill="rgb(98, 98, 0)"/>
<rect x="33.85" y="175.80" width="11.50" height="2.15" fill="rgb(87, 87, 0)"/>
<rect x="45.30" y="175.80" width="11.75" height="2.15" fill="rgb(23, 23, 3)"/>
<rect x="57.00" y="175.80" width="11.20" height="2.15" fill="rgb(1, 6, 8)"/>
<rect x="68.15" y="175.80" width="11.45" height="2.15" fill="rgb(5, 12, 14)"/>
<rect x="22.10" y="177.90" width="11.80" height="1.35" fill="rgb(89, 89, 0)"/>
<rect x="33.85" y="177.90" width="11.50" height="1.35" fill="rgb(62, 62, 0)"/>
<rect x="45.30" y="177.90" width="11.75" height="1.35" fill="rgb(28, 28, 4)"/>
<rect x="57.00" y="177.90" width="11.20" height="1.35" fill="rgb(3, 17, 23)"/>
<rect x="68.15" y="177.90" width="11.45" height="1.35" fill="rgb(1, 4, 4)"/>
<rect x="22.10" y="179.20" width="11.80" height="0.75" fill="rgb(78, 78, 0)"/>
<rect x="33.85" y="179.20" width="11.50" height="0.75" fill="rgb(51, 51, 0)"/>
<rect x="45.30" y="179.20" width="11.75" height="0.75" fill="rgb(5, 5, 0)"/>
<rect x="57.00" y="179.20" width="11.20" height="0.75" fill="rgb(0, 0, 0)"/>
<rect x="68.15" y="179.20" width="11.45" height="0.75" fill="rgb(2, 6, 7)"/>
<rect x="22.10" y="179.90" width="11.80" height="2.15" fill="rgb(77, 77, 0)"/>
<rect x="33.85" y="179.90" width="11.50" height="2.15" fill="rgb(75, 75, 0)"/>
<rect x="45.30" y="179.90" width="11.75" height="2.15" fill="rgb(19, 19, 3)"/>
<rect x="57.00" y="179.90" width="11.20" height="2.15" fill="rgb(0, 4, 5)"/>
<rect x="68.15" y="179.90" width="11.45" height="2.15" fill="rgb(8, 20, 23)"/>
<rect x="22.10" y="182.00" width="11.80" height="0.95" fill="rgb(97, 97, 0)"/>
<rect x="33.85" y="182.00" width="11.50" height="0.95" fill="rgb(80, 80, 0)"/>
<rect x="45.30" y="182.00" width="11.75" height="0.95" fill="rgb(26, 26, 4)"/>
<rect x="57.00" y="182.00" width="11.20" height="0.95" fill="rgb(2, 9, 12)"/>
<rect x="68.15" y="182.00" width="11.45" height="0.95" fill="rgb(7, 19, 22)"/>
<rect x="22.10" y="182.90" width="11.80" height="0.75" fill="rgb(33, 33, 0)"/>
<rect x="33.85" y="182.90" width="11.50" height="0.75" fill="rgb(65, 65, 0)"/>
<rect x="45.30" y="182.90" width="11.75" height="0.75" fill="rgb(22, 22, 3)"/>
<rect x="57.00" y="182.90" width="11.20" height="0.75" fill="rgb(15, 45, 58)"/>
<rect x="68.15" y="182.90" width="11.45" height="0.75" fill="rgb(0, 0, 0)"/>
<rect x="22.10" y="183.60" width="11.80" height="0.75" fill="rgb(105, 105, 0)"/>
<rect x="33.85" y="183.60" width="11.50" height="0.75" fill="rgb(91, 91, 0)"/>
<rect x="45.30" y="183.60" width="11.75" height="0.75" fill="rgb(34, 34, 5)"/>
<rect x="57.00" y="183.60" width="11.20" height="0.75" fill="rgb(2, 10, 13)"/>
<rect x="68.15" y="183.60" width="11.45" height="0.75" fill="rgb(8, 20, 23)"/>
<rect x="22.10" y="184.30" width="11.80" height="1.85" fill="rgb(88, 88, 0)"/>
<rect x="33.85" y="184.30" width="11.50" height="1.85" fill="rgb(59, 59, 0)"/>
<rect x="45.30" y="184.30" width="11.75" height="1.85" fill="rgb(24, 24, 4)"/>
<rect x="57.00" y="184.30" width="11.20" height="1.85" fill="rgb(1, 8, 11)"/>
<rect x="68.15" y="184.30" width="11.45" height="1.85" fill="rgb(7, 19, 22)"/>
<rect x="22.10" y="186.10" width="11.80" height="1.55" fill="rgb(53, 53, 0)"/>
<rect x="33.85" y="186.10" width="11.50" height="1.55" fill="rgb(80, 80, 0)"/>
<rect x="45.30" y="186.10" width="11.75" height="1.55" fill="rgb(7, 7, 1)"/>
<rect x="57.00" y="186.10" width="11.20" height="1.55" fill="rgb(1, 4, 6)"/>
<rect x="68.15" y="186.10" width="11.45" height="1.55" fill="rgb(40, 50, 20)"/>
<rect x="22.10" y="187.60" width="11.80" height="1.35" fill="rgb(80, 80, 0)"/>
<rect x="33.85" y="187.60" width="11.50" height="1.35" fill="rgb(80, 80, 0)"/>
<rect x="45.30" y="187.60" width="11.75" height="1.35" fill="rgb(34, 34, 5)"/>
<rect x="57.00" y="187.60" width="11.20" height="1.35" fill="rgb(1, 7, 9)"/>
<rect x="68.15" y="187.60" width="11.45" height="1.35" fill="rgb(4, 11, 12)"/>
<rect x="22.10" y="188.90" width="11.80" height="1.35" fill="rgb(99, 99, 0)"/>
<rect x="33.85" y="188.90" width="11.50" height="1.35" fill="rgb(84, 84, 0)"/>
<rect x="45.30" y="188.90" width="11.75" height="1.35" fill="rgb(45, 45, 7)"/>
<rect x="57.00" y="188.90" width="11.20" height="1.35" fill="rgb(15, 45, 58)"/>
<rect x="68.15" y="188.90" width="11.45" height="1.35" fill="rgb(7, 17, 19)"/>
<rect x="22.10" y="190.20" width="11.80" height="2.15" fill="rgb(88, 88, 0)"/>
<rect x="33.85" y="190.20" width="11.50" height="2.15" fill="rgb(65, 65, 0)"/>
<rect x="45.30" y="190.20" width="11.75" height="2.15" fill="rgb(70, 70, 15)"/>
<rect x="57.00" y="190.20" width="11.20" height="2.15" fill="rgb(2, 10, 14)"/>
<rect x="68.15" y="190.20" width="11.45" height="2.15" fill="rgb(3, 9, 10)"/>
<rect x="22.10" y="192.30" width="11.80" height="1.15" fill="rgb(82, 82, 0)"/>
<rect x="33.85" y="192.30" width="11.50" height="1.15" fill="rgb(84, 84, 0)"/>
<rect x="45.30" y="192.30" width="11.75" height="1.15" fill="rgb(26, 26, 4)"/>
<rect x="57.00" y="192.30" width="11.20" height="1.15" fill="rgb(1, 8, 11)"/>
<rect x="68.15" y="192.30" width="11.45" height="1.15" fill="rgb(4, 11, 12)"/>
<rect x="22.10" y="193.40" width="11.80" height="1.55" fill="rgb(101, 101, 0)"/>
<rect x="33.85" y="193.40" width="11.50" height="1.55" fill="rgb(81, 81, 0)"/>
<rect x="45.30" y="193.40" width="11.75" height="1.55" fill="rgb(40, 40, 6)"/>
<rect x="57.00" y="193.40" width="11.20" height="1.55" fill="rgb(1, 5, 7)"/>
<rect x="68.15" y="193.40" width="11.45" height="1.55" fill="rgb(9, 23, 26)"/>
<rect x="22.10" y="194.90" width="11.80" height="1.15" fill="rgb(126, 126, 0)"/>
<rect x="33.85" y="194.90" width="11.50" height="1.15" fill="rgb(107, 107, 0)"/>
<rect x="45.30" y="194.90" width="11.75" height="1.15" fill="rgb(42, 42, 7)"/>
<rect x="57.00" y="194.90" width="11.20" height="1.15" fill="rgb(3, 16, 22)"/>
<rect x="68.15" y="194.90" width="11.45" height="1.15" fill="rgb(7, 19, 22)"/>
<rect x="22.10" y="196.00" width="11.80" height="2.15" fill="rgb(85, 85, 0)"/>
<rect x="33.85" y="196.00" width="11.50" height="2.15" fill="rgb(97, 97, 0)"/>
<rect x="45.30" y="196.00" width="11.75" height="2.15" fill="rgb(26, 26, 4)"/>
<rect x="57.00" y="196.00" width="11.20" height="2.15" fill="rgb(2, 13, 17)"/>
<rect x="68.15" y="196.00" width="11.45" height="2.15" fill="rgb(40, 50, 20)"/>
<rect x="22.10" y="198.10" width="11.80" height="1.55" fill="rgb(102, 102, 0)"/>
<rect x="33.85" y="198.10" width="11.50" height="1.55" fill="rgb(101, 101, 0)"/>
<rect x="45.30" y="198.10" width="11.75" height="1.55" fill="rgb(60, 60, 10)"/>
<rect x="57.00" y="198.10" width="11.20" height="1.55" fill="rgb(2, 13, 17)"/>
<rect x="68.15" y="198.10" width="11.45" height="1.55" fill="rgb(11, 29, 32)"/>
<rect x="22.10" y="199.60" width="11.80" height="1.85" fill="rgb(82, 82, 0)"/>
<rect x="33.85" y="199.60" width="11.50" height="1.85" fill="rgb(59, 59, 0)"/>
<rect x="45.30" y="199.60" width="11.75" height="1.85" fill="rgb(23, 23, 3)"/>
<rect x="57.00" y="199.60" width="11.20" height="1.85" fill="rgb(1, 8, 11)"/>
<rect x="68.15" y="199.60" width="11.45" height="1.85" fill="rgb(8, 22, 25)"/>
<rect x="22.10" y="201.40" width="11.80" height="1.85" fill="rgb(89, 89, 0)"/>
<rect x="33.85" y="201.40" width="11.50" height="1.85" fill="rgb(63, 63, 0)"/>
<rect x="45.30" y="201.40" width="11.75" height="1.85" fill="rgb(23, 23, 3)"/>
<rect x="57.00" y="201.40" width="11.20" height="1.85" fill="rgb(0, 3, 4)"/>
<rect x="68.15" y="201.40" width="11.45" height="1.85" fill="rgb(5, 12, 14)"/>
<rect x="22.10" y="203.20" width="11.80" height="2.15" fill="rgb(105, 105, 0)"/>
<rect x="33.85" y="203.20" width="11.50" height="2.15" fill="rgb(83, 83, 0)"/>
<rect x="45.30" y="203.20" width="11.75" height="2.15" fill="rgb(38, 38, 6)"/>
<rect x="57.00" y="203.20" width="11.20" height="2.15" fill="rgb(3, 13, 18)"/>
<rect x="68.15" y="203.20" width="11.45" height="2.15" fill="rgb(40, 50, 20)"/>
<rect x="22.10" y="205.30" width="11.80" height="1.85" fill="rgb(124, 124, 0)"/>
<rect x="33.85" y="205.30" width="11.50" height="1.85" fill="rgb(80, 80, 0)"/>
<rect x="45.30" y="205.30" width="11.75" height="1.85" fill="rgb(61, 61, 10)"/>
<rect x="57.00" y="205.30" width="11.20" height="1.85" fill="rgb(2, 13, 17)"/>
<rect x="68.15" y="205.30" width="11.45" height="1.85" fill="rgb(3, 9, 10)"/>
<rect x="22.10" y="207.10" width="11.80" height="0.75" fill="rgb(71, 71, 0)"/>
<rect x="33.85" y="207.10" width="11.50" height="0.75" fill="rgb(92, 92, 0)"/>
<rect x="45.30" y="207.10" width="11.75" height="0.75" fill="rgb(26, 26, 4)"/>
<rect x="57.00" y="207.10" width="11.20" height="0.75" fill="rgb(4, 18, 25)"/>
<rect x="68.15" y="207.10" width="11.45" height="0.75" fill="rgb(9, 23, 26)"/>
<rect x="22.10" y="207.80" width="11.80" height="0.95" fill="rgb(59, 59, 0)"/>
<rect x="33.85" y="207.80" width="11.50" height="0.95" fill="rgb(70, 70, 0)"/>
<rect x="45.30" y="207.80" width="11.75" height="0.95" fill="rgb(46, 46, 7)"/>
<rect x="57.00" y="207.80" width="11.20" height="0.95" fill="rgb(1, 7, 9)"/>
<rect x="68.15" y="207.80" width="11.45" height="0.95" fill="rgb(6, 17, 19)"/>
<rect x="22.10" y="208.70" width="11.80" height="1.35" fill="rgb(106, 106, 0)"/>
<rect x="33.85" y="208.70" width="11.50" height="1.35" fill="rgb(89, 89, 0)"/>
<rect x="45.30" y="208.70" width="11.75" height="1.35" fill="rgb(32, 32, 5)"/>
<rect x="57.00" y="208.70" width="11.20" height="1.35" fill="rgb(15, 45, 58)"/>
<rect x="68.15" y="208.70" width="11.45" height="1.35" fill="rgb(7, 18, 20)"/>
<rect x="22.10" y="210.00" width="11.80" height="0.95" fill="rgb(72, 72, 0)"/>
<rect x="33.85" y="210.00" width="11.50" height="0.95" fill="rgb(59, 59, 0)"/>
<rect x="45.30" y="210.00" width="11.75" height="0.95" fill="rgb(35, 35, 5)"/>
<rect x="57.00" y="210.00" width="11.20" height="0.95" fill="rgb(15, 45, 58)"/>
<rect x="68.15" y="210.00" width="11.45" height="0.95" fill="rgb(9, 22, 25)"/>
<rect x="22.10" y="210.90" width="11.80" height="2.15" fill="rgb(78, 78, 0)"/>
<rect x="33.85" y="210.90" width="11.50" height="2.15" fill="rgb(46, 46, 0)"/>
<rect x="45.30" y="210.90" width="11.75" height="2.15" fill="rgb(1, 1, 0)"/>
<rect x="57.00" y="210.90" width="11.20" height="2.15" fill="rgb(0, 0, 0)"/>
<rect x="68.15" y="210.90" width="11.45" height="2.15" fill="rgb(2, 7, 8)"/>
<rect x="22.10" y="213.00" width="11.80" height="1.35" fill="rgb(98, 98, 0)"/>
<rect x="33.85" y="213.00" width="11.50" height="1.35" fill="rgb(70, 70, 0)"/>
<rect x="45.30" y="213.00" width="11.75" height="1.35" fill="rgb(57, 57, 9)"/>
<rect x="57.00" y="213.00" width="11.20" height="1.35" fill="rgb(15, 45, 58)"/>
<rect x="68.15" y="213.00" width="11.45" height="1.35" fill="rgb(11, 29, 33)"/>
<rect x="22.10" y="214.30" width="11.80" height="1.15" fill="rgb(109, 109, 0)"/>
<rect x="33.85" y="214.30" width="11.50" height="1.15" fill="rgb(84, 84, 0)"/>
<rect x="45.30" y="214.30" width="11.75" height="1.15" fill="rgb(1, 1, 0)"/>
<rect x="57.00" y="214.30" width="11.20" height="1.15" fill="rgb(1, 5, 7)"/>
<rect x="68.15" y="214.30" width="11.45" height="1.15" fill="rgb(0, 0, 0)"/>
<rect x="22.10" y="215.40" width="11.80" height="1.85" fill="rgb(81, 81, 0)"/>
<rect x="33.85" y="215.40" width="11.50" height="1.85" fill="rgb(66, 66, 0)"/>
<rect x="45.30" y="215.40" width="11.75" height="1.85" fill="rgb(16, 16, 2)"/>
<rect x="57.00" y="215.40" width="11.20" height="1.85" fill="rgb(15, 45, 58)"/>
<rect x="68.15" y="215.40" width="11.45" height="1.85" fill="rgb(3, 9, 10)"/>
<rect x="22.10" y="217.20" width="11.80" height="0.75" fill="rgb(70, 70, 0)"/>
<rect x="33.85" y="217.20" width="11.50" height="0.75" fill="rgb(47, 47, 0)"/>
<rect x="45.30" y="217.20" width="11.75" height="0.75" fill="rgb(24, 24, 4)"/>
<rect x="57.00" y="217.20" width="11.20" height="0.75" fill="rgb(0, 1, 1)"/>
<rect x="68.15" y="217.20" width="11.45" height="0.75" fill="rgb(40, 50, 20)"/>
<rect x="22.10" y="217.90" width="11.80" height="2.15" fill="rgb(94, 94, 0)"/>
<rect x="33.85" y="217.90" width="11.50" height="2.15" fill="rgb(89, 89, 0)"/>
<rect x="45.30" y="217.90" width="11.75" height="2.15" fill="rgb(39, 39, 6)"/>
<rect x="57.00" y="217.90" width="11.20" height="2.15" fill="rgb(2, 9, 13)"/>
<rect x="68.15" y="217.90" width="11.45" height="2.15" fill="rgb(40, 50, 20)"/>
<rect x="22.10" y="220.00" width="11.80" height="1.85" fill="rgb(69, 69, 0)"/>
<rect x="33.85" y="220.00" width="11.50" height="1.85" fill="rgb(65, 65, 0)"/>
<rect x="45.30" y="220.00" width="11.75" height="1.85" fill="rgb(29, 29, 4)"/>
<rect x="57.00" y="220.00" width="11.20" height="1.85" fill="rgb(1, 7, 9)"/>
<rect x="68.15" y="220.00" width="11.45" height="1.85" fill="rgb(40, 50, 20)"/>
<rect x="22.10" y="221.80" width="11.80" height="0.75" fill="rgb(72, 72, 0)"/>
<rect x="33.85" y="221.80" width="11.50" height="0.75" fill="rgb(61, 61, 0)"/>
<rect x="45.30" y="221.80" width="11.75" height="0.75" fill="rgb(25, 25, 4)"/>
<rect x="57.00" y="221.80" width="11.20" height="0.75" fill="rgb(2, 10, 14)"/>
<rect x="68.15" y="221.80" width="11.45" height="0.75" fill="rgb(4, 11, 12)"/>
<rect x="22.10" y="222.50" width="11.80" height="0.95" fill="rgb(69, 69, 0)"/>
<rect x="33.85" y="222.50" width="11.50" height="0.95" fill="rgb(46, 46, 0)"/>
<rect x="45.30" y="222.50" width="11.75" height="0.95" fill="rgb(7, 7, 1)"/>
<rect x="57.00" y="222.50" width="11.20" height="0.95" fill="rgb(0, 3, 5)"/>
<rect x="68.15" y="222.50" width="11.45" height="0.95" fill="rgb(3, 8, 9)"/>
<rect x="22.10" y="223.40" width="11.80" height="1.85" fill="rgb(68, 68, 0)"/>
<rect x="33.85" y="223.40" width="11.50" height="1.85" fill="rgb(104, 104, 0)"/>
<rect x="45.30" y="223.40" width="11.75" height="1.85" fill="rgb(33, 33, 5)"/>
<rect x="57.00" y="223.40" width="11.20" height="1.85" fill="rgb(0, 4, 5)"/>
<rect x="68.15" y="223.40" width="11.45" height="1.85" fill="rgb(7, 18, 21)"/>
<rect x="22.10" y="225.20" width="11.80" height="0.75" fill="rgb(104, 104, 0)"/>
<rect x="33.85" y="225.20" width="11.50" height="0.75" fill="rgb(93, 93, 0)"/>
<rect x="45.30" y="225.20" width="11.75" height="0.75" fill="rgb(46, 46, 7)"/>
<rect x="57.00" y="225.20" width="11.20" height="0.75" fill="rgb(2, 11, 15)"/>
<rect x="68.15" y="225.20" width="11.45" height="0.75" fill="rgb(5, 12, 14)"/>
<rect x="22.10" y="225.90" width="11.80" height="1.85" fill="rgb(78, 78, 0)"/>
<rect x="33.85" y="225.90" width="11.50" height="1.85" fill="rgb(42, 42, 0)"/>
<rect x="45.30" y="225.90" width="11.75" height="1.85" fill="rgb(14, 14, 2)"/>
<rect x="57.00" y="225.90" width="11.20" height="1.85" fill="rgb(1, 7, 9)"/>
<rect x="68.15" y="225.90" width="11.45" height="1.85" fill="rgb(40, 50, 20)"/>
<rect x="22.10" y="227.70" width="11.80" height="1.15" fill="rgb(87, 87, 0)"/>
<rect x="33.85" y="227.70" width="11.50" height="1.15" fill="rgb(92, 92, 0)"/>
<rect x="45.30" y="227.70" width="11.75" height="1.15" fill="rgb(51, 51, 8)"/>
<rect x="57.00" y="227.70" width="11.20" height="1.15" fill="rgb(3, 14, 19)"/>
<rect x="68.15" y="227.70" width="11.45" height="1.15" fill="rgb(11, 27, 31)"/>
<rect x="22.10" y="228.80" width="11.80" height="2.15" fill="rgb(59, 59, 0)"/>
<rect x="33.85" y="228.80" width="11.50" height="2.15" fill="rgb(39, 39, 0)"/>
<rect x="45.30" y="228.80" width="11.75" height="2.15" fill="rgb(1, 1, 0)"/>
<rect x="57.00" y="228.80" width="11.20" height="2.15" fill="rgb(2, 9, 12)"/>
<rect x="68.15" y="228.80" width="11.45" height="2.15" fill="rgb(0, 2, 2)"/>
<rect x="22.10" y="230.90" width="11.80" height="1.85" fill="rgb(116, 116, 0)"/>
<rect x="33.85" y="230.90" width="11.50" height="1.85" fill="rgb(78, 78, 0)"/>
<rect x="45.30" y="230.90" width="11.75" height="1.85" fill="rgb(20, 20, 3)"/>
<rect x="57.00" y="230.90" width="11.20" height="1.85" fill="rgb(15, 45, 58)"/>
<rect x="68.15" y="230.90" width="11.45" height="1.85" fill="rgb(5, 14, 16)"/>
<rect x="22.10" y="232.70" width="11.80" height="1.55" fill="rgb(89, 89, 0)"/>
<rect x="33.85" y="232.70" width="11.50" height="1.55" fill="rgb(83, 83, 0)"/>
<rect x="45.30" y="232.70" width="11.75" height="1.55" fill="rgb(70, 70, 15)"/>
<rect x="57.00" y="232.70" width="11.20" height="1.55" fill="rgb(2, 9, 12)"/>
<rect x="68.15" y="232.70" width="11.45" height="1.55" fill="rgb(4, 10, 12)"/>
<rect x="22.10" y="234.20" width="11.80" height="0.75" fill="rgb(78, 78, 0)"/>
<rect x="33.85" y="234.20" width="11.50" height="0.75" fill="rgb(95, 95, 0)"/>
<rect x="45.30" y="234.20" width="11.75" height="0.75" fill="rgb(67, 67, 11)"/>
<rect x="57.00" y="234.20" width="11.20" height="0.75" fill="rgb(1, 8, 10)"/>
<rect x="68.15" y="234.20" width="11.45" height="0.75" fill="rgb(3, 9, 10)"/>
<rect x="22.10" y="234.90" width="11.80" height="1.35" fill="rgb(97, 97, 0)"/>
<rect x="33.85" y="234.90" width="11.50" height="1.35" fill="rgb(80, 80, 0)"/>
<rect x="45.30" y="234.90" width="11.75" height="1.35" fill="rgb(36, 36, 6)"/>
<rect x="57.00" y="234.90" width="11.20" height="1.35" fill="rgb(2, 12, 16)"/>
<rect x="68.15" y="234.90" width="11.45" height="1.35" fill="rgb(3, 9, 10)"/>
<rect x="22.10" y="236.20" width="11.80" height="1.15" fill="rgb(81, 81, 0)"/>
<rect x="33.85" y="236.20" width="11.50" height="1.15" fill="rgb(71, 71, 0)"/>
<rect x="45.30" y="236.20" width="11.75" height="1.15" fill="rgb(8, 8, 1)"/>
<rect x="57.00" y="236.20" width="11.20" height="1.15" fill="rgb(1, 6, 8)"/>
<rect x="68.15" y="236.20" width="11.45" height="1.15" fill="rgb(6, 16, 18)"/>
<rect x="22.10" y="237.30" width="11.80" height="0.75" fill="rgb(71, 71, 0)"/>
<rect x="33.85" y="237.30" width="11.50" height="0.75" fill="rgb(53, 53, 0)"/>
<rect x="45.30" y="237.30" width="11.75" height="0.75" fill="rgb(56, 56, 9)"/>
<rect x="57.00" y="237.30" width="11.20" height="0.75" fill="rgb(15, 45, 58)"/>
<rect x="68.15" y="237.30" width="11.45" height="0.75" fill="rgb(2, 7, 8)"/>
<rect x="22.10" y="238.00" width="11.80" height="1.35" fill="rgb(80, 80, 0)"/>
<rect x="33.85" y="238.00" width="11.50" height="1.35" fill="rgb(62, 62, 0)"/>
<rect x="45.30" y="238.00" width="11.75" height="1.35" fill="rgb(26, 26, 4)"/>
<rect x="57.00" y="238.00" width="11.20" height="1.35" fill="rgb(1, 6, 8)"/>
<rect x="68.15" y="238.00" width="11.45" height="1.35" fill="rgb(0, 1, 2)"/>
<rect x="22.10" y="239.30" width="11.80" height="1.35" fill="rgb(93, 93, 0)"/>
<rect x="33.85" y="239.30" width="11.50" height="1.35" fill="rgb(82, 82, 0)"/>
<rect x="45.30" y="239.30" width="11.75" height="1.35" fill="rgb(70, 70, 15)"/>
<rect x="57.00" y="239.30" width="11.20" height="1.35" fill="rgb(1, 6, 8)"/>
<rect x="68.15" y="239.30" width="11.45" height="1.35" fill="rgb(7, 18, 20)"/>
<rect x="22.10" y="240.60" width="11.80" height="1.35" fill="rgb(45, 45, 0)"/>
<rect x="33.85" y="240.60" width="11.50" height="1.35" fill="rgb(28, 28, 0)"/>
<rect x="45.30" y="240.60" width="11.75" height="1.35" fill="rgb(9, 9, 1)"/>
<rect x="57.00" y="240.60" width="11.20" height="1.35" fill="rgb(1, 6, 8)"/>
<rect x="68.15" y="240.60" width="11.45" height="1.35" fill="rgb(0, 0, 0)"/>
<rect x="22.10" y="241.90" width="11.80" height="1.85" fill="rgb(71, 71, 0)"/>
<rect x="33.85" y="241.90" width="11.50" height="1.85" fill="rgb(92, 92, 0)"/>
<rect x="45.30" y="241.90" width="11.75" height="1.85" fill="rgb(30, 30, 5)"/>
<rect x="57.00" y="241.90" width="11.20" height="1.85" fill="rgb(1, 8, 11)"/>
<rect x="68.15" y="241.90" width="11.45" height="1.85" fill="rgb(7, 17, 20)"/>
<rect x="22.10" y="243.70" width="11.80" height="1.85" fill="rgb(119, 119, 0)"/>
<rect x="33.85" y="243.70" width="11.50" height="1.85" fill="rgb(102, 102, 0)"/>
<rect x="45.30" y="243.70" width="11.75" height="1.85" fill="rgb(47, 47, 7)"/>
<rect x="57.00" y="243.70" width="11.20" height="1.85" fill="rgb(3, 17, 23)"/>
<rect x="68.15" y="243.70" width="11.45" height="1.85" fill="rgb(7, 18, 21)"/>
<rect x="22.10" y="245.50" width="11.80" height="0.95" fill="rgb(88, 88, 0)"/>
<rect x="33.85" y="245.50" width="11.50" height="0.95" fill="rgb(58, 58, 0)"/>
<rect x="45.30" y="245.50" width="11.75" height="0.95" fill="rgb(24, 24, 4)"/>
<rect x="57.00" y="245.50" width="11.20" height="0.95" fill="rgb(3, 14, 19)"/>
<rect x="68.15" y="245.50" width="11.45" height="0.95" fill="rgb(7, 18, 21)"/>
<rect x="22.10" y="246.40" width="11.80" height="1.35" fill="rgb(57, 57, 0)"/>
<rect x="33.85" y="246.40" width="11.50" height="1.35" fill="rgb(70, 70, 0)"/>
<rect x="45.30" y="246.40" width="11.75" height="1.35" fill="rgb(33, 33, 5)"/>
<rect x="57.00" y="246.40" width="11.20" height="1.35" fill="rgb(1, 5, 6)"/>
<rect x="68.15" y="246.40" width="11.45" height="1.35" fill="rgb(3, 9, 10)"/>
<rect x="22.10" y="247.70" width="11.80" height="0.95" fill="rgb(77, 77, 0)"/>
<rect x="33.85" y="247.70" width="11.50" height="0.95" fill="rgb(63, 63, 0)"/>
<rect x="45.30" y="247.70" width="11.75" height="0.95" fill="rgb(1, 1, 0)"/>
<rect x="57.00" y="247.70" width="11.20" height="0.95" fill="rgb(1, 5, 6)"/>
<rect x="68.15" y="247.70" width="11.45" height="0.95" fill="rgb(0, 0, 0)"/>
<rect x="22.10" y="248.60" width="11.80" height="1.15" fill="rgb(101, 101, 0)"/>
<rect x="33.85" y="248.60" width="11.50" height="1.15" fill="rgb(92, 92, 0)"/>
<rect x="45.30" y="248.60" width="11.75" height="1.15" fill="rgb(64, 64, 10)"/>
<rect x="57.00" y="248.60" width="11.20" height="1.15" fill="rgb(3, 17, 23)"/>
<rect x="68.15" y="248.60" width="11.45" height="1.15" fill="rgb(10, 26, 29)"/>
<rect x="22.10" y="249.70" width="11.80" height="0.95" fill="rgb(69, 69, 0)"/>
<rect x="33.85" y="249.70" width="11.50" height="0.95" fill="rgb(68, 68, 0)"/>
<rect x="45.30" y="249.70" width="11.75" height="0.95" fill="rgb(37, 37, 6)"/>
<rect x="57.00" y="249.70" width="11.20" height="0.95" fill="rgb(2, 12, 16)"/>
<rect x="68.15" y="249.70" width="11.45" height="0.95" fill="rgb(40, 50, 20)"/>
<rect x="22.10" y="250.60" width="11.80" height="1.35" fill="rgb(81, 81, 0)"/>
<rect x="33.85" y="250.60" width="11.50" height="1.35" fill="rgb(86, 86, 0)"/>
<rect x="45.30" y="250.60" width="11.75" height="1.35" fill="rgb(69, 69, 11)"/>
<rect x="57.00" y="250.60" width="11.20" height="1.35" fill="rgb(3, 13, 18)"/>
<rect x="68.15" y="250.60" width="11.45" height="1.35" fill="rgb(40, 50, 20)"/>
<rect x="22.10" y="251.90" width="11.80" height="0.95" fill="rgb(87, 87, 0)"/>
<rect x="33.85" y="251.90" width="11.50" height="0.95" fill="rgb(59, 59, 0)"/>
<rect x="45.30" y="251.90" width="11.75" height="0.95" fill="rgb(29, 29, 4)"/>
<rect x="57.00" y="251.90" width="11.20" height="0.95" fill="rgb(2, 12, 16)"/>
<rect x="68.15" y="251.90" width="11.45" height="0.95" fill="rgb(11, 28, 32)"/>
<rect x="22.10" y="252.80" width="11.80" height="1.45" fill="rgb(74, 74, 0)"/>
<rect x="33.85" y="252.80" width="11.50" height="1.45" fill="rgb(68, 68, 0)"/>
<rect x="45.30" y="252.80" width="11.75" height="1.45" fill="rgb(30, 30, 5)"/>
<rect x="57.00" y="252.80" width="11.20" height="1.45" fill="rgb(1, 6, 9)"/>
<rect x="68.15" y="252.80" width="11.45" height="1.45" fill="rgb(8, 21, 24)"/>
<rect x="22.10" y="254.20" width="11.80" height="1.35" fill="rgb(7, 42, 55)"/>
<rect x="33.85" y="254.20" width="11.50" height="1.35" fill="rgb(9, 49, 62)"/>
<rect x="45.30" y="254.20" width="11.75" height="1.35" fill="rgb(6, 38, 49)"/>
<rect x="57.00" y="254.20" width="11.20" height="1.35" fill="rgb(3, 4, 1)"/>
<rect x="68.15" y="254.20" width="11.45" height="1.35" fill="rgb(3, 9, 11)"/>
<rect x="22.10" y="255.50" width="11.80" height="0.95" fill="rgb(9, 55, 71)"/>
<rect x="33.85" y="255.50" width="11.50" height="0.95" fill="rgb(13, 70, 90)"/>
<rect x="45.30" y="255.50" width="11.75" height="0.95" fill="rgb(5, 36, 47)"/>
<rect x="57.00" y="255.50" width="11.20" height="0.95" fill="rgb(7, 10, 4)"/>
<rect x="68.15" y="255.50" width="11.45" height="0.95" fill="rgb(6, 22, 25)"/>
<rect x="22.10" y="256.40" width="11.80" height="0.95" fill="rgb(9, 52, 67)"/>
<rect x="33.85" y="256.40" width="11.50" height="0.95" fill="rgb(7, 39, 49)"/>
<rect x="45.30" y="256.40" width="11.75" height="0.95" fill="rgb(3, 23, 29)"/>
<rect x="57.00" y="256.40" width="11.20" height="0.95" fill="rgb(1, 2, 0)"/>
<rect x="68.15" y="256.40" width="11.45" height="0.95" fill="rgb(4, 13, 14)"/>
<rect x="22.10" y="257.30" width="11.80" height="1.35" fill="rgb(8, 46, 60)"/>
<rect x="33.85" y="257.30" width="11.50" height="1.35" fill="rgb(10, 55, 71)"/>
<rect x="45.30" y="257.30" width="11.75" height="1.35" fill="rgb(4, 30, 39)"/>
<rect x="57.00" y="257.30" width="11.20" height="1.35" fill="rgb(7, 11, 4)"/>
<rect x="68.15" y="257.30" width="11.45" height="1.35" fill="rgb(3, 11, 12)"/>
<rect x="22.10" y="258.60" width="11.80" height="1.15" fill="rgb(11, 63, 81)"/>
<rect x="33.85" y="258.60" width="11.50" height="1.15" fill="rgb(11, 58, 74)"/>
<rect x="45.30" y="258.60" width="11.75" height="1.15" fill="rgb(4, 30, 39)"/>
<rect x="57.00" y="258.60" width="11.20" height="1.15" fill="rgb(4, 5, 2)"/>
<rect x="68.15" y="258.60" width="11.45" height="1.15" fill="rgb(3, 9, 10)"/>
<rect x="22.10" y="259.70" width="11.80" height="1.85" fill="rgb(9, 55, 71)"/>
<rect x="33.85" y="259.70" width="11.50" height="1.85" fill="rgb(12, 64, 82)"/>
<rect x="45.30" y="259.70" width="11.75" height="1.85" fill="rgb(2, 12, 16)"/>
<rect x="57.00" y="259.70" width="11.20" height="1.85" fill="rgb(0, 1, 0)"/>
<rect x="68.15" y="259.70" width="11.45" height="1.85" fill="rgb(2, 7, 8)"/>
<rect x="22.10" y="261.50" width="11.80" height="2.15" fill="rgb(7, 44, 57)"/>
<rect x="33.85" y="261.50" width="11.50" height="2.15" fill="rgb(8, 41, 52)"/>
<rect x="45.30" y="261.50" width="11.75" height="2.15" fill="rgb(3, 23, 30)"/>
<rect x="57.00" y="261.50" width="11.20" height="2.15" fill="rgb(2, 3, 1)"/>
<rect x="68.15" y="261.50" width="11.45" height="2.15" fill="rgb(6, 19, 22)"/>
<rect x="22.10" y="263.60" width="11.80" height="1.35" fill="rgb(11, 65, 84)"/>
<rect x="33.85" y="263.60" width="11.50" height="1.35" fill="rgb(10, 52, 67)"/>
<rect x="45.30" y="263.60" width="11.75" height="1.35" fill="rgb(4, 29, 38)"/>
<rect x="57.00" y="263.60" width="11.20" height="1.35" fill="rgb(7, 10, 4)"/>
<rect x="68.15" y="263.60" width="11.45" height="1.35" fill="rgb(6, 19, 22)"/>
<rect x="22.10" y="264.90" width="11.80" height="1.35" fill="rgb(7, 44, 57)"/>
<rect x="33.85" y="264.90" width="11.50" height="1.35" fill="rgb(10, 52, 67)"/>
<rect x="45.30" y="264.90" width="11.75" height="1.35" fill="rgb(2, 13, 16)"/>
<rect x="57.00" y="264.90" width="11.20" height="1.35" fill="rgb(3, 4, 1)"/>
<rect x="68.15" y="264.90" width="11.45" height="1.35" fill="rgb(2, 8, 10)"/>
<rect x="22.10" y="266.20" width="11.80" height="0.75" fill="rgb(8, 46, 59)"/>
<rect x="33.85" y="266.20" width="11.50" height="0.75" fill="rgb(12, 62, 79)"/>
<rect x="45.30" y="266.20" width="11.75" height="0.75" fill="rgb(3, 20, 26)"/>
<rect x="57.00" y="266.20" width="11.20" height="0.75" fill="rgb(6, 8, 3)"/>
<rect x="68.15" y="266.20" width="11.45" height="0.75" fill="rgb(0, 1, 1)"/>
<rect x="22.10" y="266.90" width="11.80" height="2.15" fill="rgb(10, 60, 77)"/>
<rect x="33.85" y="266.90" width="11.50" height="2.15" fill="rgb(8, 43, 55)"/>
<rect x="45.30" y="266.90" width="11.75" height="2.15" fill="rgb(3, 21, 27)"/>
<rect x="57.00" y="266.90" width="11.20" height="2.15" fill="rgb(3, 4, 1)"/>
<rect x="68.15" y="266.90" width="11.45" height="2.15" fill="rgb(6, 20, 23)"/>
<rect x="22.10" y="269.00" width="11.80" height="0.95" fill="rgb(8, 49, 63)"/>
<rect x="33.85" y="269.00" width="11.50" height="0.95" fill="rgb(12, 62, 79)"/>
<rect x="45.30" y="269.00" width="11.75" height="0.95" fill="rgb(7, 47, 61)"/>
<rect x="57.00" y="269.00" width="11.20" height="0.95" fill="rgb(7, 10, 4)"/>
<rect x="68.15" y="269.00" width="11.45" height="0.95" fill="rgb(8, 28, 32)"/>
<rect x="22.10" y="269.90" width="11.80" height="1.85" fill="rgb(10, 56, 72)"/>
<rect x="33.85" y="269.90" width="11.50" height="1.85" fill="rgb(10, 52, 67)"/>
<rect x="45.30" y="269.90" width="11.75" height="1.85" fill="rgb(5, 32, 41)"/>
<rect x="57.00" y="269.90" width="11.20" height="1.85" fill="rgb(6, 9, 4)"/>
<rect x="68.15" y="269.90" width="11.45" height="1.85" fill="rgb(7, 23, 26)"/>
<rect x="22.10" y="271.70" width="11.80" height="0.75" fill="rgb(8, 49, 63)"/>
<rect x="33.85" y="271.70" width="11.50" height="0.75" fill="rgb(9, 46, 59)"/>
<rect x="45.30" y="271.70" width="11.75" height="0.75" fill="rgb(4, 30, 39)"/>
<rect x="57.00" y="271.70" width="11.20" height="0.75" fill="rgb(5, 8, 3)"/>
<rect x="68.15" y="271.70" width="11.45" height="0.75" fill="rgb(4, 15, 16)"/>
<rect x="22.10" y="272.40" width="11.80" height="1.35" fill="rgb(12, 69, 89)"/>
<rect x="33.85" y="272.40" width="11.50" height="1.35" fill="rgb(10, 54, 69)"/>
<rect x="45.30" y="272.40" width="11.75" height="1.35" fill="rgb(4, 30, 39)"/>
<rect x="57.00" y="272.40" width="11.20" height="1.35" fill="rgb(5, 7, 3)"/>
<rect x="68.15" y="272.40" width="11.45" height="1.35" fill="rgb(3, 12, 13)"/>
<rect x="22.10" y="273.70" width="11.80" height="1.35" fill="rgb(9, 52, 67)"/>
<rect x="33.85" y="273.70" width="11.50" height="1.35" fill="rgb(9, 47, 60)"/>
<rect x="45.30" y="273.70" width="11.75" height="1.35" fill="rgb(3, 22, 28)"/>
<rect x="57.00" y="273.70" width="11.20" height="1.35" fill="rgb(4, 6, 2)"/>
<rect x="68.15" y="273.70" width="11.45" height="1.35" fill="rgb(2, 6, 7)"/>
<rect x="22.10" y="275.00" width="11.80" height="1.15" fill="rgb(9, 53, 68)"/>
<rect x="33.85" y="275.00" width="11.50" height="1.15" fill="rgb(7, 38, 48)"/>
<rect x="45.30" y="275.00" width="11.75" height="1.15" fill="rgb(5, 33, 43)"/>
<rect x="57.00" y="275.00" width="11.20" height="1.15" fill="rgb(5, 7, 3)"/>
<rect x="68.15" y="275.00" width="11.45" height="1.15" fill="rgb(7, 23, 26)"/>
<rect x="22.10" y="276.10" width="11.80" height="1.85" fill="rgb(10, 58, 74)"/>
<rect x="33.85" y="276.10" width="11.50" height="1.85" fill="rgb(6, 32, 41)"/>
<rect x="45.30" y="276.10" width="11.75" height="1.85" fill="rgb(3, 23, 30)"/>
<rect x="57.00" y="276.10" width="11.20" height="1.85" fill="rgb(1, 2, 1)"/>
<rect x="68.15" y="276.10" width="11.45" height="1.85" fill="rgb(4, 15, 16)"/>
<rect x="22.10" y="277.90" width="11.80" height="1.15" fill="rgb(10, 59, 75)"/>
<rect x="33.85" y="277.90" width="11.50" height="1.15" fill="rgb(6, 34, 44)"/>
<rect x="45.30" y="277.90" width="11.75" height="1.15" fill="rgb(7, 47, 61)"/>
<rect x="57.00" y="277.90" width="11.20" height="1.15" fill="rgb(3, 4, 1)"/>
<rect x="68.15" y="277.90" width="11.45" height="1.15" fill="rgb(5, 16, 18)"/>
<rect x="22.10" y="279.00" width="11.80" height="0.95" fill="rgb(10, 60, 77)"/>
<rect x="33.85" y="279.00" width="11.50" height="0.95" fill="rgb(7, 38, 49)"/>
<rect x="45.30" y="279.00" width="11.75" height="0.95" fill="rgb(3, 22, 28)"/>
<rect x="57.00" y="279.00" width="11.20" height="0.95" fill="rgb(7, 10, 4)"/>
<rect x="68.15" y="279.00" width="11.45" height="0.95" fill="rgb(5, 16, 19)"/>
<rect x="22.10" y="279.90" width="11.80" height="0.75" fill="rgb(9, 55, 71)"/>
<rect x="33.85" y="279.90" width="11.50" height="0.75" fill="rgb(12, 63, 80)"/>
<rect x="45.30" y="279.90" width="11.75" height="0.75" fill="rgb(5, 33, 42)"/>
<rect x="57.00" y="279.90" width="11.20" height="0.75" fill="rgb(4, 6, 2)"/>
<rect x="68.15" y="279.90" width="11.45" height="0.75" fill="rgb(3, 11, 13)"/>
<rect x="22.10" y="280.60" width="11.80" height="1.35" fill="rgb(7, 42, 54)"/>
<rect x="33.85" y="280.60" width="11.50" height="1.35" fill="rgb(8, 40, 52)"/>
<rect x="45.30" y="280.60" width="11.75" height="1.35" fill="rgb(2, 13, 16)"/>
<rect x="57.00" y="280.60" width="11.20" height="1.35" fill="rgb(4, 5, 2)"/>
<rect x="68.15" y="280.60" width="11.45" height="1.35" fill="rgb(6, 20, 22)"/>
<rect x="22.10" y="281.90" width="11.80" height="0.75" fill="rgb(6, 35, 45)"/>
<rect x="33.85" y="281.90" width="11.50" height="0.75" fill="rgb(8, 41, 52)"/>
<rect x="45.30" y="281.90" width="11.75" height="0.75" fill="rgb(4, 26, 33)"/>
<rect x="57.00" y="281.90" width="11.20" height="0.75" fill="rgb(7, 10, 4)"/>
<rect x="68.15" y="281.90" width="11.45" height="0.75" fill="rgb(3, 12, 13)"/>
<rect x="22.10" y="282.60" width="11.80" height="1.85" fill="rgb(11, 62, 80)"/>
<rect x="33.85" y="282.60" width="11.50" height="1.85" fill="rgb(8, 44, 56)"/>
<rect x="45.30" y="282.60" width="11.75" height="1.85" fill="rgb(5, 34, 44)"/>
<rect x="57.00" y="282.60" width="11.20" height="1.85" fill="rgb(2, 2, 1)"/>
<rect x="68.15" y="282.60" width="11.45" height="1.85" fill="rgb(1, 4, 4)"/>
<rect x="22.10" y="284.40" width="11.80" height="0.75" fill="rgb(8, 48, 62)"/>
<rect x="33.85" y="284.40" width="11.50" height="0.75" fill="rgb(8, 44, 56)"/>
<rect x="45.30" y="284.40" width="11.75" height="0.75" fill="rgb(6, 42, 54)"/>
<rect x="57.00" y="284.40" width="11.20" height="0.75" fill="rgb(8, 12, 5)"/>
<rect x="68.15" y="284.40" width="11.45" height="0.75" fill="rgb(7, 23, 26)"/>
<rect x="22.10" y="285.10" width="11.80" height="1.85" fill="rgb(11, 61, 79)"/>
<rect x="33.85" y="285.10" width="11.50" height="1.85" fill="rgb(10, 54, 69)"/>
<rect x="45.30" y="285.10" width="11.75" height="1.85" fill="rgb(6, 40, 52)"/>
<rect x="57.00" y="285.10" width="11.20" height="1.85" fill="rgb(28, 28, 8)"/>
<rect x="68.15" y="285.10" width="11.45" height="1.85" fill="rgb(22, 30, 12)"/>
<rect x="22.10" y="286.90" width="11.80" height="1.85" fill="rgb(4, 26, 34)"/>
<rect x="33.85" y="286.90" width="11.50" height="1.85" fill="rgb(8, 45, 58)"/>
<rect x="45.30" y="286.90" width="11.75" height="1.85" fill="rgb(2, 16, 21)"/>
<rect x="57.00" y="286.90" width="11.20" height="1.85" fill="rgb(1, 1, 0)"/>
<rect x="68.15" y="286.90" width="11.45" height="1.85" fill="rgb(3, 10, 11)"/>
<rect x="22.10" y="288.70" width="11.80" height="1.85" fill="rgb(10, 59, 76)"/>
<rect x="33.85" y="288.70" width="11.50" height="1.85" fill="rgb(10, 53, 68)"/>
<rect x="45.30" y="288.70" width="11.75" height="1.85" fill="rgb(2, 18, 23)"/>
<rect x="57.00" y="288.70" width="11.20" height="1.85" fill="rgb(5, 7, 3)"/>
<rect x="68.15" y="288.70" width="11.45" height="1.85" fill="rgb(4, 13, 15)"/>
<rect x="22.10" y="290.50" width="11.80" height="1.35" fill="rgb(6, 35, 45)"/>
<rect x="33.85" y="290.50" width="11.50" height="1.35" fill="rgb(9, 47, 59)"/>
<rect x="45.30" y="290.50" width="11.75" height="1.35" fill="rgb(20, 50, 60)"/>
<rect x="57.00" y="290.50" width="11.20" height="1.35" fill="rgb(7, 10, 4)"/>
<rect x="68.15" y="290.50" width="11.45" height="1.35" fill="rgb(5, 16, 18)"/>
<rect x="22.10" y="291.80" width="11.80" height="1.35" fill="rgb(11, 64, 82)"/>
<rect x="33.85" y="291.80" width="11.50" height="1.35" fill="rgb(10, 55, 70)"/>
<rect x="45.30" y="291.80" width="11.75" height="1.35" fill="rgb(6, 41, 54)"/>
<rect x="57.00" y="291.80" width="11.20" height="1.35" fill="rgb(5, 8, 3)"/>
<rect x="68.15" y="291.80" width="11.45" height="1.35" fill="rgb(4, 15, 17)"/>
<rect x="22.10" y="293.10" width="11.80" height="1.85" fill="rgb(14, 82, 105)"/>
<rect x="33.85" y="293.10" width="11.50" height="1.85" fill="rgb(14, 74, 94)"/>
<rect x="45.30" y="293.10" width="11.75" height="1.85" fill="rgb(8, 53, 69)"/>
<rect x="57.00" y="293.10" width="11.20" height="1.85" fill="rgb(7, 10, 4)"/>
<rect x="68.15" y="293.10" width="11.45" height="1.85" fill="rgb(4, 15, 17)"/>
<rect x="22.10" y="294.90" width="11.80" height="1.15" fill="rgb(8, 47, 61)"/>
<rect x="33.85" y="294.90" width="11.50" height="1.15" fill="rgb(10, 51, 66)"/>
<rect x="45.30" y="294.90" width="11.75" height="1.15" fill="rgb(5, 35, 46)"/>
<rect x="57.00" y="294.90" width="11.20" height="1.15" fill="rgb(4, 6, 2)"/>
<rect x="68.15" y="294.90" width="11.45" height="1.15" fill="rgb(1, 5, 6)"/>
<rect x="22.10" y="296.00" width="11.80" height="0.75" fill="rgb(9, 50, 64)"/>
<rect x="33.85" y="296.00" width="11.50" height="0.75" fill="rgb(10, 51, 66)"/>
<rect x="45.30" y="296.00" width="11.75" height="0.75" fill="rgb(7, 43, 56)"/>
<rect x="57.00" y="296.00" width="11.20" height="0.75" fill="rgb(3, 5, 2)"/>
<rect x="68.15" y="296.00" width="11.45" height="0.75" fill="rgb(8, 25, 29)"/>
<rect x="22.10" y="296.70" width="11.80" height="2.15" fill="rgb(9, 50, 65)"/>
<rect x="33.85" y="296.70" width="11.50" height="2.15" fill="rgb(7, 39, 50)"/>
<rect x="45.30" y="296.70" width="11.75" height="2.15" fill="rgb(4, 27, 35)"/>
<rect x="57.00" y="296.70" width="11.20" height="2.15" fill="rgb(5, 8, 3)"/>
<rect x="68.15" y="296.70" width="11.45" height="2.15" fill="rgb(1, 3, 4)"/>
<rect x="22.10" y="298.80" width="11.80" height="0.95" fill="rgb(8, 45, 58)"/>
<rect x="33.85" y="298.80" width="11.50" height="0.95" fill="rgb(9, 49, 63)"/>
<rect x="45.30" y="298.80" width="11.75" height="0.95" fill="rgb(5, 32, 42)"/>
<rect x="57.00" y="298.80" width="11.20" height="0.95" fill="rgb(7, 10, 4)"/>
<rect x="68.15" y="298.80" width="11.45" height="0.95" fill="rgb(3, 10, 11)"/>
<rect x="22.10" y="299.70" width="11.80" height="0.75" fill="rgb(8, 46, 60)"/>
<rect x="33.85" y="299.70" width="11.50" height="0.75" fill="rgb(6, 33, 42)"/>
<rect x="45.30" y="299.70" width="11.75" height="0.75" fill="rgb(5, 34, 43)"/>
<rect x="57.00" y="299.70" width="11.20" height="0.75" fill="rgb(5, 7, 3)"/>
<rect x="68.15" y="299.70" width="11.45" height="0.75" fill="rgb(3, 10, 11)"/>
<rect x="22.10" y="300.40" width="11.80" height="1.85" fill="rgb(11, 63, 81)"/>
<rect x="33.85" y="300.40" width="11.50" height="1.85" fill="rgb(10, 52, 66)"/>
<rect x="45.30" y="300.40" width="11.75" height="1.85" fill="rgb(2, 16, 21)"/>
<rect x="57.00" y="300.40" width="11.20" height="1.85" fill="rgb(8, 11, 5)"/>
<rect x="68.15" y="300.40" width="11.45" height="1.85" fill="rgb(7, 23, 25)"/>
<rect x="22.10" y="302.20" width="11.80" height="1.55" fill="rgb(9, 50, 64)"/>
<rect x="33.85" y="302.20" width="11.50" height="1.55" fill="rgb(9, 49, 63)"/>
<rect x="45.30" y="302.20" width="11.75" height="1.55" fill="rgb(3, 19, 25)"/>
<rect x="57.00" y="302.20" width="11.20" height="1.55" fill="rgb(4, 5, 2)"/>
<rect x="68.15" y="302.20" width="11.45" height="1.55" fill="rgb(5, 16, 18)"/>
<rect x="22.10" y="303.70" width="11.80" height="1.15" fill="rgb(10, 58, 75)"/>
<rect x="33.85" y="303.70" width="11.50" height="1.15" fill="rgb(7, 37, 48)"/>
<rect x="45.30" y="303.70" width="11.75" height="1.15" fill="rgb(5, 31, 40)"/>
<rect x="57.00" y="303.70" width="11.20" height="1.15" fill="rgb(10, 14, 6)"/>
<rect x="68.15" y="303.70" width="11.45" height="1.15" fill="rgb(5, 18, 20)"/>
<rect x="22.10" y="304.80" width="11.80" height="1.85" fill="rgb(9, 54, 69)"/>
<rect x="33.85" y="304.80" width="11.50" height="1.85" fill="rgb(9, 47, 60)"/>
<rect x="45.30" y="304.80" width="11.75" height="1.85" fill="rgb(4, 30, 39)"/>
<rect x="57.00" y="304.80" width="11.20" height="1.85" fill="rgb(3, 5, 2)"/>
<rect x="68.15" y="304.80" width="11.45" height="1.85" fill="rgb(3, 12, 13)"/>
<rect x="22.10" y="306.60" width="11.80" height="1.55" fill="rgb(8, 49, 63)"/>
<rect x="33.85" y="306.60" width="11.50" height="1.55" fill="rgb(8, 42, 53)"/>
<rect x="45.30" y="306.60" width="11.75" height="1.55" fill="rgb(6, 37, 48)"/>
<rect x="57.00" y="306.60" width="11.20" height="1.55" fill="rgb(6, 8, 3)"/>
<rect x="68.15" y="306.60" width="11.45" height="1.55" fill="rgb(1, 6, 6)"/>
<rect x="22.10" y="308.10" width="11.80" height="1.15" fill="rgb(9, 52, 68)"/>
<rect x="33.85" y="308.10" width="11.50" height="1.15" fill="rgb(12, 62, 79)"/>
<rect x="45.30" y="308.10" width="11.75" height="1.15" fill="rgb(20, 50, 60)"/>
<rect x="57.00" y="308.10" width="11.20" height="1.15" fill="rgb(7, 10, 4)"/>
<rect x="68.15" y="308.10" width="11.45" height="1.15" fill="rgb(6, 19, 22)"/>
<rect x="22.10" y="309.20" width="11.80" height="2.15" fill="rgb(10, 56, 72)"/>
<rect x="33.85" y="309.20" width="11.50" height="2.15" fill="rgb(9, 46, 58)"/>
<rect x="45.30" y="309.20" width="11.75" height="2.15" fill="rgb(4, 27, 36)"/>
<rect x="57.00" y="309.20" width="11.20" height="2.15" fill="rgb(6, 9, 4)"/>
<rect x="68.15" y="309.20" width="11.45" height="2.15" fill="rgb(5, 16, 18)"/>
<rect x="22.10" y="311.30" width="11.80" height="1.85" fill="rgb(9, 51, 66)"/>
<rect x="33.85" y="311.30" width="11.50" height="1.85" fill="rgb(10, 51, 65)"/>
<rect x="45.30" y="311.30" width="11.75" height="1.85" fill="rgb(3, 20, 25)"/>
<rect x="57.00" y="311.30" width="11.20" height="1.85" fill="rgb(3, 5, 2)"/>
<rect x="68.15" y="311.30" width="11.45" height="1.85" fill="rgb(2, 9, 10)"/>
<rect x="22.10" y="313.10" width="11.80" height="0.75" fill="rgb(10, 56, 72)"/>
<rect x="33.85" y="313.10" width="11.50" height="0.75" fill="rgb(12, 63, 80)"/>
<rect x="45.30" y="313.10" width="11.75" height="0.75" fill="rgb(6, 40, 51)"/>
<rect x="57.00" y="313.10" width="11.20" height="0.75" fill="rgb(6, 9, 4)"/>
<rect x="68.15" y="313.10" width="11.45" height="0.75" fill="rgb(4, 15, 17)"/>
<rect x="22.10" y="313.80" width="11.80" height="0.95" fill="rgb(10, 56, 72)"/>
<rect x="33.85" y="313.80" width="11.50" height="0.95" fill="rgb(10, 55, 70)"/>
<rect x="45.30" y="313.80" width="11.75" height="0.95" fill="rgb(7, 44, 57)"/>
<rect x="57.00" y="313.80" width="11.20" height="0.95" fill="rgb(2, 3, 1)"/>
<rect x="68.15" y="313.80" width="11.45" height="0.95" fill="rgb(5, 19, 21)"/>
<rect x="22.10" y="314.70" width="11.80" height="1.35" fill="rgb(12, 67, 86)"/>
<rect x="33.85" y="314.70" width="11.50" height="1.35" fill="rgb(11, 58, 75)"/>
<rect x="45.30" y="314.70" width="11.75" height="1.35" fill="rgb(6, 41, 54)"/>
<rect x="57.00" y="314.70" width="11.20" height="1.35" fill="rgb(6, 8, 3)"/>
<rect x="68.15" y="314.70" width="11.45" height="1.35" fill="rgb(5, 18, 21)"/>
<rect x="22.10" y="316.00" width="11.80" height="0.75" fill="rgb(13, 75, 96)"/>
<rect x="33.85" y="316.00" width="11.50" height="0.75" fill="rgb(13, 67, 85)"/>
<rect x="45.30" y="316.00" width="11.75" height="0.75" fill="rgb(7, 43, 56)"/>
<rect x="57.00" y="316.00" width="11.20" height="0.75" fill="rgb(6, 9, 3)"/>
<rect x="68.15" y="316.00" width="11.45" height="0.75" fill="rgb(3, 9, 11)"/>
<rect x="22.10" y="316.70" width="11.80" height="1.35" fill="rgb(9, 51, 65)"/>
<rect x="33.85" y="316.70" width="11.50" height="1.35" fill="rgb(9, 48, 61)"/>
<rect x="45.30" y="316.70" width="11.75" height="1.35" fill="rgb(6, 38, 49)"/>
<rect x="57.00" y="316.70" width="11.20" height="1.35" fill="rgb(3, 4, 2)"/>
<rect x="68.15" y="316.70" width="11.45" height="1.35" fill="rgb(6, 20, 23)"/>
<rect x="22.10" y="318.00" width="11.80" height="0.75" fill="rgb(11, 66, 85)"/>
<rect x="33.85" y="318.00" width="11.50" height="0.75" fill="rgb(11, 60, 77)"/>
<rect x="45.30" y="318.00" width="11.75" height="0.75" fill="rgb(4, 28, 36)"/>
<rect x="57.00" y="318.00" width="11.20" height="0.75" fill="rgb(28, 28, 8)"/>
<rect x="68.15" y="318.00" width="11.45" height="0.75" fill="rgb(6, 20, 23)"/>
<rect x="22.10" y="318.70" width="11.80" height="1.15" fill="rgb(10, 58, 75)"/>
<rect x="33.85" y="318.70" width="11.50" height="1.15" fill="rgb(8, 41, 53)"/>
<rect x="45.30" y="318.70" width="11.75" height="1.15" fill="rgb(4, 29, 37)"/>
<rect x="57.00" y="318.70" width="11.20" height="1.15" fill="rgb(8, 12, 5)"/>
<rect x="68.15" y="318.70" width="11.45" height="1.15" fill="rgb(8, 26, 29)"/>
<rect x="22.10" y="319.80" width="11.80" height="1.85" fill="rgb(10, 58, 74)"/>
<rect x="33.85" y="319.80" width="11.50" height="1.85" fill="rgb(11, 60, 76)"/>
<rect x="45.30" y="319.80" width="11.75" height="1.85" fill="rgb(5, 34, 44)"/>
<rect x="57.00" y="319.80" width="11.20" height="1.85" fill="rgb(8, 12, 5)"/>
<rect x="68.15" y="319.80" width="11.45" height="1.85" fill="rgb(6, 20, 22)"/>
<rect x="22.10" y="321.60" width="11.80" height="0.95" fill="rgb(11, 63, 82)"/>
<rect x="33.85" y="321.60" width="11.50" height="0.95" fill="rgb(11, 57, 73)"/>
<rect x="45.30" y="321.60" width="11.75" height="0.95" fill="rgb(5, 33, 43)"/>
<rect x="57.00" y="321.60" width="11.20" height="0.95" fill="rgb(28, 28, 8)"/>
<rect x="68.15" y="321.60" width="11.45" height="0.95" fill="rgb(11, 36, 40)"/>
<rect x="22.10" y="322.50" width="11.80" height="1.15" fill="rgb(8, 48, 62)"/>
<rect x="33.85" y="322.50" width="11.50" height="1.15" fill="rgb(9, 49, 62)"/>
<rect x="45.30" y="322.50" width="11.75" height="1.15" fill="rgb(0, 3, 4)"/>
<rect x="57.00" y="322.50" width="11.20" height="1.15" fill="rgb(3, 4, 1)"/>
<rect x="68.15" y="322.50" width="11.45" height="1.15" fill="rgb(3, 12, 13)"/>
<rect x="22.10" y="323.60" width="11.80" height="0.95" fill="rgb(11, 62, 80)"/>
<rect x="33.85" y="323.60" width="11.50" height="0.95" fill="rgb(10, 55, 70)"/>
<rect x="45.30" y="323.60" width="11.75" height="0.95" fill="rgb(3, 20, 25)"/>
<rect x="57.00" y="323.60" width="11.20" height="0.95" fill="rgb(6, 8, 3)"/>
<rect x="68.15" y="323.60" width="11.45" height="0.95" fill="rgb(6, 19, 21)"/>
<rect x="22.10" y="324.50" width="11.80" height="1.15" fill="rgb(10, 61, 78)"/>
<rect x="33.85" y="324.50" width="11.50" height="1.15" fill="rgb(9, 46, 59)"/>
<rect x="45.30" y="324.50" width="11.75" height="1.15" fill="rgb(3, 21, 28)"/>
<rect x="57.00" y="324.50" width="11.20" height="1.15" fill="rgb(5, 7, 3)"/>
<rect x="68.15" y="324.50" width="11.45" height="1.15" fill="rgb(5, 18, 20)"/>
<rect x="22.10" y="325.60" width="11.80" height="2.15" fill="rgb(9, 52, 68)"/>
<rect x="33.85" y="325.60" width="11.50" height="2.15" fill="rgb(10, 53, 68)"/>
<rect x="45.30" y="325.60" width="11.75" height="2.15" fill="rgb(3, 23, 30)"/>
<rect x="57.00" y="325.60" width="11.20" height="2.15" fill="rgb(28, 28, 8)"/>
<rect x="68.15" y="325.60" width="11.45" height="2.15" fill="rgb(3, 10, 11)"/>
<rect x="22.10" y="327.70" width="11.80" height="1.35" fill="rgb(12, 70, 91)"/>
<rect x="33.85" y="327.70" width="11.50" height="1.35" fill="rgb(11, 57, 72)"/>
<rect x="45.30" y="327.70" width="11.75" height="1.35" fill="rgb(7, 48, 62)"/>
<rect x="57.00" y="327.70" width="11.20" height="1.35" fill="rgb(9, 13, 5)"/>
<rect x="68.15" y="327.70" width="11.45" height="1.35" fill="rgb(7, 23, 25)"/>
<rect x="22.10" y="329.00" width="11.80" height="1.15" fill="rgb(8, 48, 62)"/>
<rect x="33.85" y="329.00" width="11.50" height="1.15" fill="rgb(7, 40, 51)"/>
<rect x="45.30" y="329.00" width="11.75" height="1.15" fill="rgb(3, 23, 30)"/>
<rect x="57.00" y="329.00" width="11.20" height="1.15" fill="rgb(5, 7, 3)"/>
<rect x="68.15" y="329.00" width="11.45" height="1.15" fill="rgb(0, 0, 0)"/>
<rect x="22.10" y="330.10" width="11.80" height="1.35" fill="rgb(6, 36, 47)"/>
<rect x="33.85" y="330.10" width="11.50" height="1.35" fill="rgb(7, 38, 48)"/>
<rect x="45.30" y="330.10" width="11.75" height="1.35" fill="rgb(3, 22, 29)"/>
<rect x="57.00" y="330.10" width="11.20" height="1.35" fill="rgb(1, 2, 1)"/>
<rect x="68.15" y="330.10" width="11.45" height="1.35" fill="rgb(2, 7, 8)"/>
<rect x="22.10" y="331.40" width="11.80" height="0.95" fill="rgb(10, 59, 75)"/>
<rect x="33.85" y="331.40" width="11.50" height="0.95" fill="rgb(11, 56, 72)"/>
<rect x="45.30" y="331.40" width="11.75" height="0.95" fill="rgb(6, 39, 50)"/>
<rect x="57.00" y="331.40" width="11.20" height="0.95" fill="rgb(6, 8, 3)"/>
<rect x="68.15" y="331.40" width="11.45" height="0.95" fill="rgb(5, 17, 20)"/>
<rect x="22.10" y="332.30" width="11.80" height="0.95" fill="rgb(12, 70, 90)"/>
<rect x="33.85" y="332.30" width="11.50" height="0.95" fill="rgb(8, 44, 56)"/>
<rect x="45.30" y="332.30" width="11.75" height="0.95" fill="rgb(3, 22, 29)"/>
<rect x="57.00" y="332.30" width="11.20" height="0.95" fill="rgb(3, 4, 1)"/>
<rect x="68.15" y="332.30" width="11.45" height="0.95" fill="rgb(5, 17, 19)"/>
<rect x="22.10" y="333.20" width="11.80" height="1.15" fill="rgb(12, 67, 86)"/>
<rect x="33.85" y="333.20" width="11.50" height="1.15" fill="rgb(9, 49, 63)"/>
<rect x="45.30" y="333.20" width="11.75" height="1.15" fill="rgb(5, 36, 46)"/>
<rect x="57.00" y="333.20" width="11.20" height="1.15" fill="rgb(5, 7, 3)"/>
<rect x="68.15" y="333.20" width="11.45" height="1.15" fill="rgb(6, 21, 24)"/>
<rect x="22.10" y="334.30" width="11.80" height="0.95" fill="rgb(8, 44, 57)"/>
<rect x="33.85" y="334.30" width="11.50" height="0.95" fill="rgb(6, 31, 40)"/>
<rect x="45.30" y="334.30" width="11.75" height="0.95" fill="rgb(20, 50, 60)"/>
<rect x="57.00" y="334.30" width="11.20" height="0.95" fill="rgb(2, 3, 1)"/>
<rect x="68.15" y="334.30" width="11.45" height="0.95" fill="rgb(1, 6, 6)"/>
<rect x="22.10" y="335.20" width="11.80" height="0.75" fill="rgb(10, 56, 72)"/>
<rect x="33.85" y="335.20" width="11.50" height="0.75" fill="rgb(7, 40, 51)"/>
<rect x="45.30" y="335.20" width="11.75" height="0.75" fill="rgb(1, 10, 14)"/>
<rect x="57.00" y="335.20" width="11.20" height="0.75" fill="rgb(1, 1, 0)"/>
<rect x="68.15" y="335.20" width="11.45" height="0.75" fill="rgb(4, 12, 14)"/>
<rect x="22.10" y="335.90" width="11.80" height="1.15" fill="rgb(8, 46, 59)"/>
<rect x="33.85" y="335.90" width="11.50" height="1.15" fill="rgb(12, 65, 82)"/>
<rect x="45.30" y="335.90" width="11.75" height="1.15" fill="rgb(6, 39, 50)"/>
<rect x="57.00" y="335.90" width="11.20" height="1.15" fill="rgb(7, 10, 4)"/>
<rect x="68.15" y="335.90" width="11.45" height="1.15" fill="rgb(5, 17, 19)"/>
<rect x="22.10" y="337.00" width="11.80" height="1.15" fill="rgb(11, 62, 80)"/>
<rect x="33.85" y="337.00" width="11.50" height="1.15" fill="rgb(10, 51, 65)"/>
<rect x="45.30" y="337.00" width="11.75" height="1.15" fill="rgb(6, 39, 50)"/>
<rect x="57.00" y="337.00" width="11.20" height="1.15" fill="rgb(6, 8, 3)"/>
<rect x="68.15" y="337.00" width="11.45" height="1.15" fill="rgb(7, 25, 28)"/>
<rect x="22.10" y="338.10" width="11.80" height="1.35" fill="rgb(6, 37, 48)"/>
<rect x="33.85" y="338.10" width="11.50" height="1.35" fill="rgb(11, 56, 71)"/>
<rect x="45.30" y="338.10" width="11.75" height="1.35" fill="rgb(20, 50, 60)"/>
<rect x="57.00" y="338.10" width="11.20" height="1.35" fill="rgb(2, 3, 1)"/>
<rect x="68.15" y="338.10" width="11.45" height="1.35" fill="rgb(1, 6, 7)"/>
<rect x="22.10" y="339.40" width="11.80" height="1.55" fill="rgb(9, 54, 70)"/>
<rect x="33.85" y="339.40" width="11.50" height="1.55" fill="rgb(10, 54, 70)"/>
<rect x="45.30" y="339.40" width="11.75" height="1.55" fill="rgb(20, 50, 60)"/>
<rect x="57.00" y="339.40" width="11.20" height="1.55" fill="rgb(5, 7, 3)"/>
<rect x="68.15" y="339.40" width="11.45" height="1.55" fill="rgb(5, 18, 20)"/>
<rect x="22.10" y="340.90" width="11.80" height="0.95" fill="rgb(12, 69, 89)"/>
<rect x="33.85" y="340.90" width="11.50" height="0.95" fill="rgb(13, 66, 84)"/>
<rect x="45.30" y="340.90" width="11.75" height="0.95" fill="rgb(5, 34, 44)"/>
<rect x="57.00" y="340.90" width="11.20" height="0.95" fill="rgb(4, 5, 2)"/>
<rect x="68.15" y="340.90" width="11.45" height="0.95" fill="rgb(6, 22, 25)"/>
<rect x="22.10" y="341.80" width="11.80" height="0.95" fill="rgb(9, 54, 69)"/>
<rect x="33.85" y="341.80" width="11.50" height="0.95" fill="rgb(10, 55, 70)"/>
<rect x="45.30" y="341.80" width="11.75" height="0.95" fill="rgb(6, 38, 49)"/>
<rect x="57.00" y="341.80" width="11.20" height="0.95" fill="rgb(7, 10, 4)"/>
<rect x="68.15" y="341.80" width="11.45" height="0.95" fill="rgb(5, 18, 21)"/>
<rect x="22.10" y="342.70" width="11.80" height="0.95" fill="rgb(8, 49, 63)"/>
<rect x="33.85" y="342.70" width="11.50" height="0.95" fill="rgb(9, 46, 59)"/>
<rect x="45.30" y="342.70" width="11.75" height="0.95" fill="rgb(3, 19, 24)"/>
<rect x="57.00" y="342.70" width="11.20" height="0.95" fill="rgb(2, 3, 1)"/>
<rect x="68.15" y="342.70" width="11.45" height="0.95" fill="rgb(2, 9, 10)"/>
<rect x="22.10" y="343.60" width="11.80" height="0.95" fill="rgb(12, 68, 87)"/>
<rect x="33.85" y="343.60" width="11.50" height="0.95" fill="rgb(12, 61, 78)"/>
<rect x="45.30" y="343.60" width="11.75" height="0.95" fill="rgb(5, 32, 41)"/>
<rect x="57.00" y="343.60" width="11.20" height="0.95" fill="rgb(8, 11, 4)"/>
<rect x="68.15" y="343.60" width="11.45" height="0.95" fill="rgb(9, 31, 35)"/>
<rect x="22.10" y="344.50" width="11.80" height="1.15" fill="rgb(13, 75, 96)"/>
<rect x="33.85" y="344.50" width="11.50" height="1.15" fill="rgb(8, 43, 54)"/>
<rect x="45.30" y="344.50" width="11.75" height="1.15" fill="rgb(6, 41, 53)"/>
<rect x="57.00" y="344.50" width="11.20" height="1.15" fill="rgb(7, 10, 4)"/>
<rect x="68.15" y="344.50" width="11.45" height="1.15" fill="rgb(5, 18, 20)"/>
<rect x="22.10" y="345.60" width="11.80" height="1.35" fill="rgb(9, 52, 67)"/>
<rect x="33.85" y="345.60" width="11.50" height="1.35" fill="rgb(10, 54, 69)"/>
<rect x="45.30" y="345.60" width="11.75" height="1.35" fill="rgb(3, 23, 30)"/>
<rect x="57.00" y="345.60" width="11.20" height="1.35" fill="rgb(3, 5, 2)"/>
<rect x="68.15" y="345.60" width="11.45" height="1.35" fill="rgb(1, 4, 5)"/>
<rect x="22.10" y="346.90" width="11.80" height="0.95" fill="rgb(7, 42, 54)"/>
<rect x="33.85" y="346.90" width="11.50" height="0.95" fill="rgb(10, 56, 71)"/>
<rect x="45.30" y="346.90" width="11.75" height="0.95" fill="rgb(2, 13, 17)"/>
<rect x="57.00" y="346.90" width="11.20" height="0.95" fill="rgb(3, 5, 2)"/>
<rect x="68.15" y="346.90" width="11.45" height="0.95" fill="rgb(0, 2, 2)"/>
<rect x="22.10" y="347.80" width="11.80" height="2.15" fill="rgb(7, 41, 53)"/>
<rect x="33.85" y="347.80" width="11.50" height="2.15" fill="rgb(8, 42, 54)"/>
<rect x="45.30" y="347.80" width="11.75" height="2.15" fill="rgb(2, 16, 20)"/>
<rect x="57.00" y="347.80" width="11.20" height="2.15" fill="rgb(1, 1, 0)"/>
<rect x="68.15" y="347.80" width="11.45" height="2.15" fill="rgb(4, 15, 17)"/>
<rect x="22.10" y="349.90" width="11.80" height="1.55" fill="rgb(13, 75, 97)"/>
<rect x="33.85" y="349.90" width="11.50" height="1.55" fill="rgb(10, 55, 71)"/>
<rect x="45.30" y="349.90" width="11.75" height="1.55" fill="rgb(8, 50, 64)"/>
<rect x="57.00" y="349.90" width="11.20" height="1.55" fill="rgb(8, 11, 5)"/>
<rect x="68.15" y="349.90" width="11.45" height="1.55" fill="rgb(4, 13, 15)"/>
<rect x="22.10" y="351.40" width="11.80" height="1.15" fill="rgb(10, 56, 72)"/>
<rect x="33.85" y="351.40" width="11.50" height="1.15" fill="rgb(7, 39, 50)"/>
<rect x="45.30" y="351.40" width="11.75" height="1.15" fill="rgb(4, 29, 38)"/>
<rect x="57.00" y="351.40" width="11.20" height="1.15" fill="rgb(4, 6, 2)"/>
<rect x="68.15" y="351.40" width="11.45" height="1.15" fill="rgb(1, 5, 5)"/>
<rect x="22.10" y="352.50" width="11.80" height="1.15" fill="rgb(8, 49, 64)"/>
<rect x="33.85" y="352.50" width="11.50" height="1.15" fill="rgb(9, 48, 62)"/>
<rect x="45.30" y="352.50" width="11.75" height="1.15" fill="rgb(6, 37, 48)"/>
<rect x="57.00" y="352.50" width="11.20" height="1.15" fill="rgb(2, 4, 1)"/>
<rect x="68.15" y="352.50" width="11.45" height="1.15" fill="rgb(10, 32, 36)"/>
<rect x="22.10" y="353.60" width="11.80" height="1.15" fill="rgb(11, 65, 84)"/>
<rect x="33.85" y="353.60" width="11.50" height="1.15" fill="rgb(10, 53, 68)"/>
<rect x="45.30" y="353.60" width="11.75" height="1.15" fill="rgb(20, 50, 60)"/>
<rect x="57.00" y="353.60" width="11.20" height="1.15" fill="rgb(3, 4, 1)"/>
<rect x="68.15" y="353.60" width="11.45" height="1.15" fill="rgb(4, 14, 16)"/>
<rect x="22.10" y="354.70" width="11.80" height="1.55" fill="rgb(8, 45, 58)"/>
<rect x="33.85" y="354.70" width="11.50" height="1.55" fill="rgb(10, 52, 66)"/>
<rect x="45.30" y="354.70" width="11.75" height="1.55" fill="rgb(2, 13, 17)"/>
<rect x="57.00" y="354.70" width="11.20" height="1.55" fill="rgb(3, 4, 1)"/>
<rect x="68.15" y="354.70" width="11.45" height="1.55" fill="rgb(3, 12, 14)"/>
<rect x="22.10" y="356.20" width="11.80" height="0.75" fill="rgb(7, 43, 56)"/>
<rect x="33.85" y="356.20" width="11.50" height="0.75" fill="rgb(10, 54, 68)"/>
<rect x="45.30" y="356.20" width="11.75" height="0.75" fill="rgb(5, 32, 41)"/>
<rect x="57.00" y="356.20" width="11.20" height="0.75" fill="rgb(1, 2, 1)"/>
<rect x="68.15" y="356.20" width="11.45" height="0.75" fill="rgb(3, 10, 11)"/>
<rect x="22.10" y="356.90" width="11.80" height="1.35" fill="rgb(9, 55, 71)"/>
<rect x="33.85" y="356.90" width="11.50" height="1.35" fill="rgb(10, 51, 65)"/>
<rect x="45.30" y="356.90" width="11.75" height="1.35" fill="rgb(2, 15, 19)"/>
<rect x="57.00" y="356.90" width="11.20" height="1.35" fill="rgb(2, 4, 1)"/>
<rect x="68.15" y="356.90" width="11.45" height="1.35" fill="rgb(2, 6, 7)"/>
<rect x="22.10" y="358.20" width="11.80" height="0.75" fill="rgb(9, 50, 65)"/>
<rect x="33.85" y="358.20" width="11.50" height="0.75" fill="rgb(13, 67, 86)"/>
<rect x="45.30" y="358.20" width="11.75" height="0.75" fill="rgb(7, 46, 59)"/>
<rect x="57.00" y="358.20" width="11.20" height="0.75" fill="rgb(8, 11, 5)"/>
<rect x="68.15" y="358.20" width="11.45" height="0.75" fill="rgb(0, 1, 1)"/>
<rect x="22.10" y="358.90" width="11.80" height="0.95" fill="rgb(7, 42, 54)"/>
<rect x="33.85" y="358.90" width="11.50" height="0.95" fill="rgb(8, 44, 56)"/>
<rect x="45.30" y="358.90" width="11.75" height="0.95" fill="rgb(5, 36, 47)"/>
<rect x="57.00" y="358.90" width="11.20" height="0.95" fill="rgb(4, 6, 2)"/>
<rect x="68.15" y="358.90" width="11.45" height="0.95" fill="rgb(3, 10, 11)"/>
<rect x="22.10" y="359.80" width="11.80" height="1.85" fill="rgb(9, 53, 68)"/>
<rect x="33.85" y="359.80" width="11.50" height="1.85" fill="rgb(7, 37, 47)"/>
<rect x="45.30" y="359.80" width="11.75" height="1.85" fill="rgb(6, 37, 48)"/>
<rect x="57.00" y="359.80" width="11.20" height="1.85" fill="rgb(4, 6, 2)"/>
<rect x="68.15" y="359.80" width="11.45" height="1.85" fill="rgb(4, 14, 16)"/>
<rect x="22.10" y="361.60" width="11.80" height="1.55" fill="rgb(10, 57, 74)"/>
<rect x="33.85" y="361.60" width="11.50" height="1.55" fill="rgb(11, 58, 74)"/>
<rect x="45.30" y="361.60" width="11.75" height="1.55" fill="rgb(7, 45, 59)"/>
<rect x="57.00" y="361.60" width="11.20" height="1.55" fill="rgb(8, 11, 4)"/>
<rect x="68.15" y="361.60" width="11.45" height="1.55" fill="rgb(2, 7, 8)"/>
<rect x="22.10" y="363.10" width="11.80" height="0.95" fill="rgb(9, 55, 71)"/>
<rect x="33.85" y="363.10" width="11.50" height="0.95" fill="rgb(10, 55, 71)"/>
<rect x="45.30" y="363.10" width="11.75" height="0.95" fill="rgb(6, 40, 52)"/>
<rect x="57.00" y="363.10" width="11.20" height="0.95" fill="rgb(5, 7, 3)"/>
<rect x="68.15" y="363.10" width="11.45" height="0.95" fill="rgb(5, 16, 18)"/>
<rect x="22.10" y="364.00" width="11.80" height="1.55" fill="rgb(9, 52, 67)"/>
<rect x="33.85" y="364.00" width="11.50" height="1.55" fill="rgb(6, 33, 43)"/>
<rect x="45.30" y="364.00" width="11.75" height="1.55" fill="rgb(1, 9, 12)"/>
<rect x="57.00" y="364.00" width="11.20" height="1.55" fill="rgb(3, 4, 2)"/>
<rect x="68.15" y="364.00" width="11.45" height="1.55" fill="rgb(22, 30, 12)"/>
<rect x="22.10" y="365.50" width="11.80" height="1.85" fill="rgb(13, 76, 98)"/>
<rect x="33.85" y="365.50" width="11.50" height="1.85" fill="rgb(10, 55, 70)"/>
<rect x="45.30" y="365.50" width="11.75" height="1.85" fill="rgb(6, 38, 49)"/>
<rect x="57.00" y="365.50" width="11.20" height="1.85" fill="rgb(7, 9, 4)"/>
<rect x="68.15" y="365.50" width="11.45" height="1.85" fill="rgb(8, 25, 29)"/>
<rect x="22.10" y="367.30" width="11.80" height="0.75" fill="rgb(9, 52, 67)"/>
<rect x="33.85" y="367.30" width="11.50" height="0.75" fill="rgb(8, 43, 54)"/>
<rect x="45.30" y="367.30" width="11.75" height="0.75" fill="rgb(4, 25, 32)"/>
<rect x="57.00" y="367.30" width="11.20" height="0.75" fill="rgb(4, 5, 2)"/>
<rect x="68.15" y="367.30" width="11.45" height="0.75" fill="rgb(1, 5, 6)"/>
<rect x="22.10" y="368.00" width="11.80" height="1.15" fill="rgb(9, 54, 70)"/>
<rect x="33.85" y="368.00" width="11.50" height="1.15" fill="rgb(12, 64, 81)"/>
<rect x="45.30" y="368.00" width="11.75" height="1.15" fill="rgb(1, 10, 14)"/>
<rect x="57.00" y="368.00" width="11.20" height="1.15" fill="rgb(2, 3, 1)"/>
<rect x="68.15" y="368.00" width="11.45" height="1.15" fill="rgb(1, 4, 4)"/>
<rect x="22.10" y="369.10" width="11.80" height="1.35" fill="rgb(9, 54, 69)"/>
<rect x="33.85" y="369.10" width="11.50" height="1.35" fill="rgb(11, 57, 73)"/>
<rect x="45.30" y="369.10" width="11.75" height="1.35" fill="rgb(4, 30, 38)"/>
<rect x="57.00" y="369.10" width="11.20" height="1.35" fill="rgb(5, 7, 3)"/>
<rect x="68.15" y="369.10" width="11.45" height="1.35" fill="rgb(7, 23, 25)"/>
<rect x="22.10" y="370.40" width="11.80" height="1.55" fill="rgb(10, 57, 74)"/>
<rect x="33.85" y="370.40" width="11.50" height="1.55" fill="rgb(10, 52, 66)"/>
<rect x="45.30" y="370.40" width="11.75" height="1.55" fill="rgb(3, 21, 27)"/>
<rect x="57.00" y="370.40" width="11.20" height="1.55" fill="rgb(6, 8, 3)"/>
<rect x="68.15" y="370.40" width="11.45" height="1.55" fill="rgb(3, 11, 13)"/>
<rect x="22.10" y="371.90" width="11.80" height="1.35" fill="rgb(11, 63, 82)"/>
<rect x="33.85" y="371.90" width="11.50" height="1.35" fill="rgb(10, 52, 67)"/>
<rect x="45.30" y="371.90" width="11.75" height="1.35" fill="rgb(5, 35, 45)"/>
<rect x="57.00" y="371.90" width="11.20" height="1.35" fill="rgb(4, 6, 2)"/>
<rect x="68.15" y="371.90" width="11.45" height="1.35" fill="rgb(6, 20, 23)"/>
<rect x="22.10" y="373.20" width="11.80" height="1.15" fill="rgb(7, 41, 53)"/>
<rect x="33.85" y="373.20" width="11.50" height="1.15" fill="rgb(6, 32, 40)"/>
<rect x="45.30" y="373.20" width="11.75" height="1.15" fill="rgb(2, 16, 21)"/>
<rect x="57.00" y="373.20" width="11.20" height="1.15" fill="rgb(2, 3, 1)"/>
<rect x="68.15" y="373.20" width="11.45" height="1.15" fill="rgb(4, 14, 15)"/>
<rect x="22.10" y="374.30" width="11.80" height="1.85" fill="rgb(10, 58, 75)"/>
<rect x="33.85" y="374.30" width="11.50" height="1.85" fill="rgb(12, 64, 81)"/>
<rect x="45.30" y="374.30" width="11.75" height="1.85" fill="rgb(5, 32, 41)"/>
<rect x="57.00" y="374.30" width="11.20" height="1.85" fill="rgb(4, 6, 2)"/>
<rect x="68.15" y="374.30" width="11.45" height="1.85" fill="rgb(6, 20, 22)"/>
<rect x="22.10" y="376.10" width="11.80" height="1.35" fill="rgb(8, 47, 60)"/>
<rect x="33.85" y="376.10" width="11.50" height="1.35" fill="rgb(9, 46, 58)"/>
<rect x="45.30" y="376.10" width="11.75" height="1.35" fill="rgb(6, 37, 48)"/>
<rect x="57.00" y="376.10" width="11.20" height="1.35" fill="rgb(4, 6, 2)"/>
<rect x="68.15" y="376.10" width="11.45" height="1.35" fill="rgb(3, 9, 10)"/>
<rect x="22.10" y="377.40" width="11.80" height="1.15" fill="rgb(7, 41, 53)"/>
<rect x="33.85" y="377.40" width="11.50" height="1.15" fill="rgb(12, 62, 80)"/>
<rect x="45.30" y="377.40" width="11.75" height="1.15" fill="rgb(5, 32, 41)"/>
<rect x="57.00" y="377.40" width="11.20" height="1.15" fill="rgb(7, 11, 4)"/>
<rect x="68.15" y="377.40" width="11.45" height="1.15" fill="rgb(5, 16, 18)"/>
<rect x="22.10" y="378.50" width="11.80" height="0.95" fill="rgb(11, 62, 80)"/>
<rect x="33.85" y="378.50" width="11.50" height="0.95" fill="rgb(10, 55, 70)"/>
<rect x="45.30" y="378.50" width="11.75" height="0.95" fill="rgb(5, 33, 43)"/>
<rect x="57.00" y="378.50" width="11.20" height="0.95" fill="rgb(2, 3, 1)"/>
<rect x="68.15" y="378.50" width="11.45" height="0.95" fill="rgb(4, 12, 14)"/>
<rect x="22.10" y="379.40" width="11.80" height="0.95" fill="rgb(12, 67, 87)"/>
<rect x="33.85" y="379.40" width="11.50" height="0.95" fill="rgb(8, 42, 53)"/>
<rect x="45.30" y="379.40" width="11.75" height="0.95" fill="rgb(5, 32, 42)"/>
<rect x="57.00" y="379.40" width="11.20" height="0.95" fill="rgb(1, 2, 0)"/>
<rect x="68.15" y="379.40" width="11.45" height="0.95" fill="rgb(4, 15, 17)"/>
<rect x="22.10" y="380.30" width="11.80" height="1.15" fill="rgb(11, 65, 84)"/>
<rect x="33.85" y="380.30" width="11.50" height="1.15" fill="rgb(11, 57, 73)"/>
<rect x="45.30" y="380.30" width="11.75" height="1.15" fill="rgb(3, 21, 27)"/>
<rect x="57.00" y="380.30" width="11.20" height="1.15" fill="rgb(8, 12, 5)"/>
<rect x="68.15" y="380.30" width="11.45" height="1.15" fill="rgb(6, 19, 22)"/>
<rect x="22.10" y="381.40" width="11.80" height="1.35" fill="rgb(10, 59, 77)"/>
<rect x="33.85" y="381.40" width="11.50" height="1.35" fill="rgb(9, 47, 60)"/>
<rect x="45.30" y="381.40" width="11.75" height="1.35" fill="rgb(4, 29, 37)"/>
<rect x="57.00" y="381.40" width="11.20" height="1.35" fill="rgb(28, 28, 8)"/>
<rect x="68.15" y="381.40" width="11.45" height="1.35" fill="rgb(22, 30, 12)"/>
<rect x="22.10" y="382.70" width="11.80" height="0.95" fill="rgb(9, 52, 67)"/>
<rect x="33.85" y="382.70" width="11.50" height="0.95" fill="rgb(9, 49, 62)"/>
<rect x="45.30" y="382.70" width="11.75" height="0.95" fill="rgb(5, 32, 42)"/>
<rect x="57.00" y="382.70" width="11.20" height="0.95" fill="rgb(0, 0, 0)"/>
<rect x="68.15" y="382.70" width="11.45" height="0.95" fill="rgb(0, 0, 0)"/>
<rect x="22.10" y="383.60" width="11.80" height="1.35" fill="rgb(8, 48, 62)"/>
<rect x="33.85" y="383.60" width="11.50" height="1.35" fill="rgb(7, 38, 49)"/>
<rect x="45.30" y="383.60" width="11.75" height="1.35" fill="rgb(5, 35, 45)"/>
<rect x="57.00" y="383.60" width="11.20" height="1.35" fill="rgb(8, 11, 5)"/>
<rect x="68.15" y="383.60" width="11.45" height="1.35" fill="rgb(4, 15, 17)"/>
<rect x="22.10" y="384.90" width="11.80" height="0.75" fill="rgb(9, 54, 69)"/>
<rect x="33.85" y="384.90" width="11.50" height="0.75" fill="rgb(9, 49, 62)"/>
<rect x="45.30" y="384.90" width="11.75" height="0.75" fill="rgb(2, 14, 19)"/>
<rect x="57.00" y="384.90" width="11.20" height="0.75" fill="rgb(8, 11, 4)"/>
<rect x="68.15" y="384.90" width="11.45" height="0.75" fill="rgb(6, 21, 24)"/>
<rect x="22.10" y="385.60" width="11.80" height="0.75" fill="rgb(9, 53, 69)"/>
<rect x="33.85" y="385.60" width="11.50" height="0.75" fill="rgb(10, 53, 68)"/>
<rect x="45.30" y="385.60" width="11.75" height="0.75" fill="rgb(3, 21, 27)"/>
<rect x="57.00" y="385.60" width="11.20" height="0.75" fill="rgb(1, 1, 0)"/>
<rect x="68.15" y="385.60" width="11.45" height="0.75" fill="rgb(2, 8, 9)"/>
<rect x="22.10" y="386.30" width="11.80" height="1.15" fill="rgb(7, 40, 51)"/>
<rect x="33.85" y="386.30" width="11.50" height="1.15" fill="rgb(10, 52, 67)"/>
<rect x="45.30" y="386.30" width="11.75" height="1.15" fill="rgb(2, 16, 21)"/>
<rect x="57.00" y="386.30" width="11.20" height="1.15" fill="rgb(7, 9, 4)"/>
<rect x="68.15" y="386.30" width="11.45" height="1.15" fill="rgb(5, 16, 18)"/>
<rect x="22.10" y="387.40" width="11.80" height="2.15" fill="rgb(13, 72, 93)"/>
<rect x="33.85" y="387.40" width="11.50" height="2.15" fill="rgb(13, 70, 89)"/>
<rect x="45.30" y="387.40" width="11.75" height="2.15" fill="rgb(6, 42, 54)"/>
<rect x="57.00" y="387.40" width="11.20" height="2.15" fill="rgb(6, 9, 3)"/>
<rect x="68.15" y="387.40" width="11.45" height="2.15" fill="rgb(9, 29, 33)"/>
<rect x="22.10" y="389.50" width="11.80" height="1.55" fill="rgb(13, 75, 97)"/>
<rect x="33.85" y="389.50" width="11.50" height="1.55" fill="rgb(10, 53, 68)"/>
<rect x="45.30" y="389.50" width="11.75" height="1.55" fill="rgb(5, 36, 47)"/>
<rect x="57.00" y="389.50" width="11.20" height="1.55" fill="rgb(4, 5, 2)"/>
<rect x="68.15" y="389.50" width="11.45" height="1.55" fill="rgb(3, 12, 14)"/>
<rect x="22.10" y="391.00" width="11.80" height="1.35" fill="rgb(11, 62, 80)"/>
<rect x="33.85" y="391.00" width="11.50" height="1.35" fill="rgb(8, 42, 54)"/>
<rect x="45.30" y="391.00" width="11.75" height="1.35" fill="rgb(4, 30, 39)"/>
<rect x="57.00" y="391.00" width="11.20" height="1.35" fill="rgb(4, 5, 2)"/>
<rect x="68.15" y="391.00" width="11.45" height="1.35" fill="rgb(6, 20, 23)"/>
<rect x="22.10" y="392.30" width="11.80" height="1.55" fill="rgb(12, 67, 87)"/>
<rect x="33.85" y="392.30" width="11.50" height="1.55" fill="rgb(11, 57, 73)"/>
<rect x="45.30" y="392.30" width="11.75" height="1.55" fill="rgb(6, 37, 48)"/>
<rect x="57.00" y="392.30" width="11.20" height="1.55" fill="rgb(4, 6, 2)"/>
<rect x="68.15" y="392.30" width="11.45" height="1.55" fill="rgb(4, 13, 14)"/>
<rect x="22.10" y="393.80" width="11.80" height="1.35" fill="rgb(9, 53, 69)"/>
<rect x="33.85" y="393.80" width="11.50" height="1.35" fill="rgb(9, 50, 64)"/>
<rect x="45.30" y="393.80" width="11.75" height="1.35" fill="rgb(6, 40, 52)"/>
<rect x="57.00" y="393.80" width="11.20" height="1.35" fill="rgb(6, 9, 4)"/>
<rect x="68.15" y="393.80" width="11.45" height="1.35" fill="rgb(5, 19, 21)"/>
<rect x="22.10" y="395.10" width="11.80" height="1.35" fill="rgb(10, 58, 75)"/>
<rect x="33.85" y="395.10" width="11.50" height="1.35" fill="rgb(8, 44, 56)"/>
<rect x="45.30" y="395.10" width="11.75" height="1.35" fill="rgb(6, 38, 49)"/>
<rect x="57.00" y="395.10" width="11.20" height="1.35" fill="rgb(5, 7, 3)"/>
<rect x="68.15" y="395.10" width="11.45" height="1.35" fill="rgb(5, 18, 20)"/>
<rect x="22.10" y="396.40" width="11.80" height="1.35" fill="rgb(12, 70, 90)"/>
<rect x="33.85" y="396.40" width="11.50" height="1.35" fill="rgb(13, 69, 89)"/>
<rect x="45.30" y="396.40" width="11.75" height="1.35" fill="rgb(6, 38, 49)"/>
<rect x="57.00" y="396.40" width="11.20" height="1.35" fill="rgb(4, 6, 2)"/>
<rect x="68.15" y="396.40" width="11.45" height="1.35" fill="rgb(7, 23, 25)"/>
<rect x="22.10" y="397.70" width="11.80" height="0.75" fill="rgb(10, 57, 73)"/>
<rect x="33.85" y="397.70" width="11.50" height="0.75" fill="rgb(9, 46, 59)"/>
<rect x="45.30" y="397.70" width="11.75" height="0.75" fill="rgb(6, 40, 52)"/>
<rect x="57.00" y="397.70" width="11.20" height="0.75" fill="rgb(3, 5, 2)"/>
<rect x="68.15" y="397.70" width="11.45" height="0.75" fill="rgb(1, 5, 6)"/>
<rect x="22.10" y="398.40" width="11.80" height="0.75" fill="rgb(7, 42, 54)"/>
<rect x="33.85" y="398.40" width="11.50" height="0.75" fill="rgb(10, 51, 65)"/>
<rect x="45.30" y="398.40" width="11.75" height="0.75" fill="rgb(6, 38, 49)"/>
<rect x="57.00" y="398.40" width="11.20" height="0.75" fill="rgb(8, 11, 4)"/>
<rect x="68.15" y="398.40" width="11.45" height="0.75" fill="rgb(1, 5, 6)"/>
<rect x="22.10" y="399.10" width="11.80" height="2.15" fill="rgb(11, 63, 81)"/>
<rect x="33.85" y="399.10" width="11.50" height="2.15" fill="rgb(7, 39, 50)"/>
<rect x="45.30" y="399.10" width="11.75" height="2.15" fill="rgb(5, 36, 46)"/>
<rect x="57.00" y="399.10" width="11.20" height="2.15" fill="rgb(4, 6, 2)"/>
<rect x="68.15" y="399.10" width="11.45" height="2.15" fill="rgb(5, 16, 19)"/>
<rect x="22.10" y="401.20" width="11.80" height="1.15" fill="rgb(10, 58, 75)"/>
<rect x="33.85" y="401.20" width="11.50" height="1.15" fill="rgb(7, 40, 51)"/>
<rect x="45.30" y="401.20" width="11.75" height="1.15" fill="rgb(4, 26, 33)"/>
<rect x="57.00" y="401.20" width="11.20" height="1.15" fill="rgb(3, 5, 2)"/>
<rect x="68.15" y="401.20" width="11.45" height="1.15" fill="rgb(0, 2, 3)"/>
<rect x="22.10" y="402.30" width="11.80" height="1.35" fill="rgb(4, 27, 34)"/>
<rect x="33.85" y="402.30" width="11.50" height="1.35" fill="rgb(7, 39, 50)"/>
<rect x="45.30" y="402.30" width="11.75" height="1.35" fill="rgb(3, 21, 27)"/>
<rect x="57.00" y="402.30" width="11.20" height="1.35" fill="rgb(4, 6, 2)"/>
<rect x="68.15" y="402.30" width="11.45" height="1.35" fill="rgb(5, 17, 19)"/>
<rect x="22.10" y="403.60" width="11.80" height="0.75" fill="rgb(9, 52, 67)"/>
<rect x="33.85" y="403.60" width="11.50" height="0.75" fill="rgb(11, 56, 72)"/>
<rect x="45.30" y="403.60" width="11.75" height="0.75" fill="rgb(20, 50, 60)"/>
<rect x="57.00" y="403.60" width="11.20" height="0.75" fill="rgb(3, 4, 1)"/>
<rect x="68.15" y="403.60" width="11.45" height="0.75" fill="rgb(3, 11, 12)"/>
<rect x="22.10" y="404.30" width="11.80" height="0.75" fill="rgb(7, 43, 56)"/>
<rect x="33.85" y="404.30" width="11.50" height="0.75" fill="rgb(7, 40, 51)"/>
<rect x="45.30" y="404.30" width="11.75" height="0.75" fill="rgb(4, 30, 39)"/>
<rect x="57.00" y="404.30" width="11.20" height="0.75" fill="rgb(2, 3, 1)"/>
<rect x="68.15" y="404.30" width="11.45" height="0.75" fill="rgb(0, 2, 2)"/>
<rect x="22.10" y="405.00" width="11.80" height="1.15" fill="rgb(12, 67, 86)"/>
<rect x="33.85" y="405.00" width="11.50" height="1.15" fill="rgb(11, 57, 72)"/>
<rect x="45.30" y="405.00" width="11.75" height="1.15" fill="rgb(5, 32, 42)"/>
<rect x="57.00" y="405.00" width="11.20" height="1.15" fill="rgb(5, 7, 3)"/>
<rect x="68.15" y="405.00" width="11.45" height="1.15" fill="rgb(7, 22, 25)"/>
<rect x="22.10" y="406.10" width="11.80" height="1.85" fill="rgb(9, 50, 64)"/>
<rect x="33.85" y="406.10" width="11.50" height="1.85" fill="rgb(14, 73, 93)"/>
<rect x="45.30" y="406.10" width="11.75" height="1.85" fill="rgb(6, 39, 51)"/>
<rect x="57.00" y="406.10" width="11.20" height="1.85" fill="rgb(10, 14, 6)"/>
<rect x="68.15" y="406.10" width="11.45" height="1.85" fill="rgb(8, 28, 31)"/>
<rect x="22.10" y="407.90" width="11.80" height="1.55" fill="rgb(9, 54, 70)"/>
<rect x="33.85" y="407.90" width="11.50" height="1.55" fill="rgb(8, 43, 55)"/>
<rect x="45.30" y="407.90" width="11.75" height="1.55" fill="rgb(3, 21, 27)"/>
<rect x="57.00" y="407.90" width="11.20" height="1.55" fill="rgb(0, 1, 0)"/>
<rect x="68.15" y="407.90" width="11.45" height="1.55" fill="rgb(3, 10, 11)"/>
<rect x="22.10" y="409.40" width="11.80" height="1.85" fill="rgb(9, 54, 70)"/>
<rect x="33.85" y="409.40" width="11.50" height="1.85" fill="rgb(8, 44, 56)"/>
<rect x="45.30" y="409.40" width="11.75" height="1.85" fill="rgb(3, 21, 27)"/>
<rect x="57.00" y="409.40" width="11.20" height="1.85" fill="rgb(2, 3, 1)"/>
<rect x="68.15" y="409.40" width="11.45" height="1.85" fill="rgb(5, 18, 20)"/>
<rect x="22.10" y="411.20" width="11.80" height="0.75" fill="rgb(14, 79, 101)"/>
<rect x="33.85" y="411.20" width="11.50" height="0.75" fill="rgb(11, 57, 72)"/>
<rect x="45.30" y="411.20" width="11.75" height="0.75" fill="rgb(7, 47, 60)"/>
<rect x="57.00" y="411.20" width="11.20" height="0.75" fill="rgb(7, 9, 4)"/>
<rect x="68.15" y="411.20" width="11.45" height="0.75" fill="rgb(3, 9, 11)"/>
<rect x="22.10" y="411.90" width="11.80" height="1.85" fill="rgb(8, 49, 63)"/>
<rect x="33.85" y="411.90" width="11.50" height="1.85" fill="rgb(8, 44, 57)"/>
<rect x="45.30" y="411.90" width="11.75" height="1.85" fill="rgb(5, 33, 43)"/>
<rect x="57.00" y="411.90" width="11.20" height="1.85" fill="rgb(0, 0, 0)"/>
<rect x="68.15" y="411.90" width="11.45" height="1.85" fill="rgb(2, 9, 10)"/>
<rect x="22.10" y="413.70" width="11.80" height="0.75" fill="rgb(9, 52, 68)"/>
<rect x="33.85" y="413.70" width="11.50" height="0.75" fill="rgb(8, 42, 53)"/>
<rect x="45.30" y="413.70" width="11.75" height="0.75" fill="rgb(5, 31, 41)"/>
<rect x="57.00" y="413.70" width="11.20" height="0.75" fill="rgb(7, 11, 4)"/>
<rect x="68.15" y="413.70" width="11.45" height="0.75" fill="rgb(4, 13, 15)"/>
<rect x="22.10" y="414.40" width="11.80" height="1.35" fill="rgb(9, 51, 66)"/>
<rect x="33.85" y="414.40" width="11.50" height="1.35" fill="rgb(12, 63, 81)"/>
<rect x="45.30" y="414.40" width="11.75" height="1.35" fill="rgb(8, 53, 69)"/>
<rect x="57.00" y="414.40" width="11.20" height="1.35" fill="rgb(5, 8, 3)"/>
<rect x="68.15" y="414.40" width="11.45" height="1.35" fill="rgb(4, 14, 16)"/>
<rect x="22.10" y="415.70" width="11.80" height="0.95" fill="rgb(10, 58, 75)"/>
<rect x="33.85" y="415.70" width="11.50" height="0.95" fill="rgb(9, 46, 59)"/>
<rect x="45.30" y="415.70" width="11.75" height="0.95" fill="rgb(1, 12, 15)"/>
<rect x="57.00" y="415.70" width="11.20" height="0.95" fill="rgb(6, 8, 3)"/>
<rect x="68.15" y="415.70" width="11.45" height="0.95" fill="rgb(6, 19, 22)"/>
<rect x="22.10" y="416.60" width="11.80" height="2.15" fill="rgb(10, 60, 78)"/>
<rect x="33.85" y="416.60" width="11.50" height="2.15" fill="rgb(9, 50, 64)"/>
<rect x="45.30" y="416.60" width="11.75" height="2.15" fill="rgb(3, 23, 30)"/>
<rect x="57.00" y="416.60" width="11.20" height="2.15" fill="rgb(7, 10, 4)"/>
<rect x="68.15" y="416.60" width="11.45" height="2.15" fill="rgb(22, 30, 12)"/>
<rect x="22.10" y="418.70" width="11.80" height="1.15" fill="rgb(11, 65, 84)"/>
<rect x="33.85" y="418.70" width="11.50" height="1.15" fill="rgb(10, 53, 68)"/>
<rect x="45.30" y="418.70" width="11.75" height="1.15" fill="rgb(2, 14, 18)"/>
<rect x="57.00" y="418.70" width="11.20" height="1.15" fill="rgb(8, 12, 5)"/>
<rect x="68.15" y="418.70" width="11.45" height="1.15" fill="rgb(6, 21, 24)"/>
<rect x="22.10" y="419.80" width="11.80" height="2.15" fill="rgb(9, 53, 68)"/>
<rect x="33.85" y="419.80" width="11.50" height="2.15" fill="rgb(10, 54, 69)"/>
<rect x="45.30" y="419.80" width="11.75" height="2.15" fill="rgb(4, 26, 33)"/>
<rect x="57.00" y="419.80" width="11.20" height="2.15" fill="rgb(4, 6, 2)"/>
<rect x="68.15" y="419.80" width="11.45" height="2.15" fill="rgb(4, 13, 15)"/>
<rect x="22.10" y="421.90" width="11.80" height="2.15" fill="rgb(10, 59, 76)"/>
<rect x="33.85" y="421.90" width="11.50" height="2.15" fill="rgb(10, 55, 70)"/>
<rect x="45.30" y="421.90" width="11.75" height="2.15" fill="rgb(4, 28, 37)"/>
<rect x="57.00" y="421.90" width="11.20" height="2.15" fill="rgb(4, 6, 2)"/>
<rect x="68.15" y="421.90" width="11.45" height="2.15" fill="rgb(8, 27, 31)"/>
<rect x="22.10" y="424.00" width="11.80" height="1.15" fill="rgb(7, 44, 56)"/>
<rect x="33.85" y="424.00" width="11.50" height="1.15" fill="rgb(9, 49, 62)"/>
<rect x="45.30" y="424.00" width="11.75" height="1.15" fill="rgb(20, 50, 60)"/>
<rect x="57.00" y="424.00" width="11.20" height="1.15" fill="rgb(2, 3, 1)"/>
<rect x="68.15" y="424.00" width="11.45" height="1.15" fill="rgb(3, 11, 13)"/>
<rect x="22.10" y="425.10" width="11.80" height="2.15" fill="rgb(9, 54, 70)"/>
<rect x="33.85" y="425.10" width="11.50" height="2.15" fill="rgb(8, 43, 55)"/>
<rect x="45.30" y="425.10" width="11.75" height="2.15" fill="rgb(3, 23, 30)"/>
<rect x="57.00" y="425.10" width="11.20" height="2.15" fill="rgb(8, 11, 4)"/>
<rect x="68.15" y="425.10" width="11.45" height="2.15" fill="rgb(0, 3, 3)"/>
<rect x="22.10" y="427.20" width="11.80" height="0.95" fill="rgb(9, 53, 69)"/>
<rect x="33.85" y="427.20" width="11.50" height="0.95" fill="rgb(12, 63, 80)"/>
<rect x="45.30" y="427.20" width="11.75" height="0.95" fill="rgb(6, 40, 52)"/>
<rect x="57.00" y="427.20" width="11.20" height="0.95" fill="rgb(28, 28, 8)"/>
<rect x="68.15" y="427.20" width="11.45" height="0.95" fill="rgb(4, 15, 17)"/>
<rect x="22.10" y="428.10" width="11.80" height="1.15" fill="rgb(8, 48, 61)"/>
<rect x="33.85" y="428.10" width="11.50" height="1.15" fill="rgb(6, 31, 39)"/>
<rect x="45.30" y="428.10" width="11.75" height="1.15" fill="rgb(5, 34, 44)"/>
<rect x="57.00" y="428.10" width="11.20" height="1.15" fill="rgb(3, 5, 2)"/>
<rect x="68.15" y="428.10" width="11.45" height="1.15" fill="rgb(6, 21, 24)"/>
<rect x="22.10" y="429.20" width="11.80" height="1.55" fill="rgb(10, 60, 77)"/>
<rect x="33.85" y="429.20" width="11.50" height="1.55" fill="rgb(10, 51, 65)"/>
<rect x="45.30" y="429.20" width="11.75" height="1.55" fill="rgb(4, 28, 36)"/>
<rect x="57.00" y="429.20" width="11.20" height="1.55" fill="rgb(4, 5, 2)"/>
<rect x="68.15" y="429.20" width="11.45" height="1.55" fill="rgb(5, 18, 20)"/>
<rect x="22.10" y="430.70" width="11.80" height="0.95" fill="rgb(10, 57, 73)"/>
<rect x="33.85" y="430.70" width="11.50" height="0.95" fill="rgb(7, 39, 50)"/>
<rect x="45.30" y="430.70" width="11.75" height="0.95" fill="rgb(4, 27, 35)"/>
<rect x="57.00" y="430.70" width="11.20" height="0.95" fill="rgb(5, 8, 3)"/>
<rect x="68.15" y="430.70" width="11.45" height="0.95" fill="rgb(2, 8, 9)"/>
<rect x="22.10" y="431.60" width="11.80" height="1.15" fill="rgb(9, 51, 66)"/>
<rect x="33.85" y="431.60" width="11.50" height="1.15" fill="rgb(10, 53, 68)"/>
<rect x="45.30" y="431.60" width="11.75" height="1.15" fill="rgb(4, 27, 35)"/>
<rect x="57.00" y="431.60" width="11.20" height="1.15" fill="rgb(7, 9, 4)"/>
<rect x="68.15" y="431.60" width="11.45" height="1.15" fill="rgb(4, 15, 17)"/>
<rect x="22.10" y="432.70" width="11.80" height="0.95" fill="rgb(10, 59, 76)"/>
<rect x="33.85" y="432.70" width="11.50" height="0.95" fill="rgb(8, 44, 56)"/>
<rect x="45.30" y="432.70" width="11.75" height="0.95" fill="rgb(4, 27, 35)"/>
<rect x="57.00" y="432.70" width="11.20" height="0.95" fill="rgb(1, 1, 0)"/>
<rect x="68.15" y="432.70" width="11.45" height="0.95" fill="rgb(9, 29, 33)"/>
<rect x="22.10" y="433.60" width="11.80" height="0.95" fill="rgb(6, 38, 48)"/>
<rect x="33.85" y="433.60" width="11.50" height="0.95" fill="rgb(12, 61, 78)"/>
<rect x="45.30" y="433.60" width="11.75" height="0.95" fill="rgb(7, 43, 56)"/>
<rect x="57.00" y="433.60" width="11.20" height="0.95" fill="rgb(5, 8, 3)"/>
<rect x="68.15" y="433.60" width="11.45" height="0.95" fill="rgb(5, 16, 18)"/>
<rect x="22.10" y="434.50" width="11.80" height="0.95" fill="rgb(9, 50, 65)"/>
<rect x="33.85" y="434.50" width="11.50" height="0.95" fill="rgb(9, 46, 59)"/>
<rect x="45.30" y="434.50" width="11.75" height="0.95" fill="rgb(3, 21, 27)"/>
<rect x="57.00" y="434.50" width="11.20" height="0.95" fill="rgb(1, 2, 0)"/>
<rect x="68.15" y="434.50" width="11.45" height="0.95" fill="rgb(0, 0, 0)"/>
<rect x="22.10" y="435.40" width="11.80" height="0.75" fill="rgb(8, 48, 61)"/>
<rect x="33.85" y="435.40" width="11.50" height="0.75" fill="rgb(8, 40, 52)"/>
<rect x="45.30" y="435.40" width="11.75" height="0.75" fill="rgb(5, 33, 43)"/>
<rect x="57.00" y="435.40" width="11.20" height="0.75" fill="rgb(2, 3, 1)"/>
<rect x="68.15" y="435.40" width="11.45" height="0.75" fill="rgb(0, 2, 3)"/>
<rect x="22.10" y="436.10" width="11.80" height="1.15" fill="rgb(10, 56, 72)"/>
<rect x="33.85" y="436.10" width="11.50" height="1.15" fill="rgb(10, 54, 69)"/>
<rect x="45.30" y="436.10" width="11.75" height="1.15" fill="rgb(5, 37, 47)"/>
<rect x="57.00" y="436.10" width="11.20" height="1.15" fill="rgb(5, 7, 3)"/>
<rect x="68.15" y="436.10" width="11.45" height="1.15" fill="rgb(9, 29, 32)"/>
<rect x="22.10" y="437.20" width="11.80" height="0.95" fill="rgb(9, 55, 71)"/>
<rect x="33.85" y="437.20" width="11.50" height="0.95" fill="rgb(10, 51, 65)"/>
<rect x="45.30" y="437.20" width="11.75" height="0.95" fill="rgb(5, 35, 45)"/>
<rect x="57.00" y="437.20" width="11.20" height="0.95" fill="rgb(28, 28, 8)"/>
<rect x="68.15" y="437.20" width="11.45" height="0.95" fill="rgb(6, 20, 22)"/>
<rect x="22.10" y="438.10" width="11.80" height="2.15" fill="rgb(9, 54, 70)"/>
<rect x="33.85" y="438.10" width="11.50" height="2.15" fill="rgb(11, 58, 74)"/>
<rect x="45.30" y="438.10" width="11.75" height="2.15" fill="rgb(6, 39, 50)"/>
<rect x="57.00" y="438.10" width="11.20" height="2.15" fill="rgb(7, 11, 4)"/>
<rect x="68.15" y="438.10" width="11.45" height="2.15" fill="rgb(3, 12, 14)"/>
<rect x="22.10" y="440.20" width="11.80" height="1.15" fill="rgb(9, 55, 71)"/>
<rect x="33.85" y="440.20" width="11.50" height="1.15" fill="rgb(8, 40, 52)"/>
<rect x="45.30" y="440.20" width="11.75" height="1.15" fill="rgb(5, 33, 42)"/>
<rect x="57.00" y="440.20" width="11.20" height="1.15" fill="rgb(7, 9, 4)"/>
<rect x="68.15" y="440.20" width="11.45" height="1.15" fill="rgb(8, 28, 31)"/>
<rect x="22.10" y="441.30" width="11.80" height="1.55" fill="rgb(10, 60, 77)"/>
<rect x="33.85" y="441.30" width="11.50" height="1.55" fill="rgb(8, 42, 53)"/>
<rect x="45.30" y="441.30" width="11.75" height="1.55" fill="rgb(3, 23, 30)"/>
<rect x="57.00" y="441.30" width="11.20" height="1.55" fill="rgb(8, 12, 5)"/>
<rect x="68.15" y="441.30" width="11.45" height="1.55" fill="rgb(4, 14, 16)"/>
<rect x="22.10" y="442.80" width="11.80" height="0.75" fill="rgb(9, 54, 69)"/>
<rect x="33.85" y="442.80" width="11.50" height="0.75" fill="rgb(8, 45, 57)"/>
<rect x="45.30" y="442.80" width="11.75" height="0.75" fill="rgb(20, 50, 60)"/>
<rect x="57.00" y="442.80" width="11.20" height="0.75" fill="rgb(3, 4, 2)"/>
<rect x="68.15" y="442.80" width="11.45" height="0.75" fill="rgb(5, 17, 19)"/>
<rect x="22.10" y="443.50" width="11.80" height="1.15" fill="rgb(9, 53, 69)"/>
<rect x="33.85" y="443.50" width="11.50" height="1.15" fill="rgb(6, 35, 45)"/>
<rect x="45.30" y="443.50" width="11.75" height="1.15" fill="rgb(2, 17, 23)"/>
<rect x="57.00" y="443.50" width="11.20" height="1.15" fill="rgb(1, 2, 1)"/>
<rect x="68.15" y="443.50" width="11.45" height="1.15" fill="rgb(2, 7, 8)"/>
<rect x="22.10" y="444.60" width="11.80" height="1.85" fill="rgb(9, 54, 70)"/>
<rect x="33.85" y="444.60" width="11.50" height="1.85" fill="rgb(8, 42, 53)"/>
<rect x="45.30" y="444.60" width="11.75" height="1.85" fill="rgb(3, 19, 24)"/>
<rect x="57.00" y="444.60" width="11.20" height="1.85" fill="rgb(3, 5, 2)"/>
<rect x="68.15" y="444.60" width="11.45" height="1.85" fill="rgb(2, 6, 7)"/>
<rect x="22.10" y="446.40" width="11.80" height="1.15" fill="rgb(10, 57, 73)"/>
<rect x="33.85" y="446.40" width="11.50" height="1.15" fill="rgb(7, 39, 50)"/>
<rect x="45.30" y="446.40" width="11.75" height="1.15" fill="rgb(5, 33, 43)"/>
<rect x="57.00" y="446.40" width="11.20" height="1.15" fill="rgb(1, 1, 0)"/>
<rect x="68.15" y="446.40" width="11.45" height="1.15" fill="rgb(9, 31, 35)"/>
<rect x="22.10" y="447.50" width="11.80" height="0.35" fill="rgb(10, 59, 76)"/>
<rect x="33.85" y="447.50" width="11.50" height="0.35" fill="rgb(12, 66, 84)"/>
<rect x="45.30" y="447.50" width="11.75" height="0.35" fill="rgb(7, 46, 60)"/>
<rect x="57.00" y="447.50" width="11.20" height="0.35" fill="rgb(7, 10, 4)"/>
<rect x="68.15" y="447.50" width="11.45" height="0.35" fill="rgb(5, 17, 19)"/>
<rect x="22.10" y="447.80" width="11.80" height="0.95" fill="rgb(28, 104, 134)"/>
<rect x="33.85" y="447.80" width="11.50" height="0.95" fill="rgb(30, 120, 156)"/>
<rect x="45.30" y="447.80" width="11.75" height="0.95" fill="rgb(13, 63, 81)"/>
<rect x="57.00" y="447.80" width="11.20" height="0.95" fill="rgb(3, 8, 5)"/>
<rect x="68.15" y="447.80" width="11.45" height="0.95" fill="rgb(5, 38, 49)"/>
<rect x="22.10" y="448.70" width="11.80" height="0.95" fill="rgb(25, 93, 121)"/>
<rect x="33.85" y="448.70" width="11.50" height="0.95" fill="rgb(25, 100, 130)"/>
<rect x="45.30" y="448.70" width="11.75" height="0.95" fill="rgb(9, 46, 59)"/>
<rect x="57.00" y="448.70" width="11.20" height="0.95" fill="rgb(0, 2, 1)"/>
<rect x="68.15" y="448.70" width="11.45" height="0.95" fill="rgb(4, 31, 41)"/>
<rect x="22.10" y="449.60" width="11.80" height="0.75" fill="rgb(24, 88, 114)"/>
<rect x="33.85" y="449.60" width="11.50" height="0.75" fill="rgb(26, 104, 135)"/>
<rect x="45.30" y="449.60" width="11.75" height="0.75" fill="rgb(13, 62, 80)"/>
<rect x="57.00" y="449.60" width="11.20" height="0.75" fill="rgb(4, 10, 6)"/>
<rect x="68.15" y="449.60" width="11.45" height="0.75" fill="rgb(4, 32, 42)"/>
<rect x="22.10" y="450.30" width="11.80" height="1.85" fill="rgb(26, 97, 125)"/>
<rect x="33.85" y="450.30" width="11.50" height="1.85" fill="rgb(24, 96, 125)"/>
<rect x="45.30" y="450.30" width="11.75" height="1.85" fill="rgb(15, 71, 91)"/>
<rect x="57.00" y="450.30" width="11.20" height="1.85" fill="rgb(1, 4, 2)"/>
<rect x="68.15" y="450.30" width="11.45" height="1.85" fill="rgb(2, 19, 25)"/>
<rect x="22.10" y="452.10" width="11.80" height="1.85" fill="rgb(36, 134, 173)"/>
<rect x="33.85" y="452.10" width="11.50" height="1.85" fill="rgb(14, 56, 73)"/>
<rect x="45.30" y="452.10" width="11.75" height="1.85" fill="rgb(13, 62, 80)"/>
<rect x="57.00" y="452.10" width="11.20" height="1.85" fill="rgb(3, 8, 5)"/>
<rect x="68.15" y="452.10" width="11.45" height="1.85" fill="rgb(1, 8, 11)"/>
<rect x="22.10" y="453.90" width="11.80" height="2.15" fill="rgb(34, 124, 161)"/>
<rect x="33.85" y="453.90" width="11.50" height="2.15" fill="rgb(27, 109, 142)"/>
<rect x="45.30" y="453.90" width="11.75" height="2.15" fill="rgb(15, 72, 92)"/>
<rect x="57.00" y="453.90" width="11.20" height="2.15" fill="rgb(4, 11, 7)"/>
<rect x="68.15" y="453.90" width="11.45" height="2.15" fill="rgb(2, 18, 24)"/>
<rect x="22.10" y="456.00" width="11.80" height="1.35" fill="rgb(31, 115, 148)"/>
<rect x="33.85" y="456.00" width="11.50" height="1.35" fill="rgb(27, 108, 141)"/>
<rect x="45.30" y="456.00" width="11.75" height="1.35" fill="rgb(8, 41, 53)"/>
<rect x="57.00" y="456.00" width="11.20" height="1.35" fill="rgb(3, 8, 5)"/>
<rect x="68.15" y="456.00" width="11.45" height="1.35" fill="rgb(2, 18, 23)"/>
<rect x="22.10" y="457.30" width="11.80" height="1.35" fill="rgb(26, 98, 126)"/>
<rect x="33.85" y="457.30" width="11.50" height="1.35" fill="rgb(31, 124, 162)"/>
<rect x="45.30" y="457.30" width="11.75" height="1.35" fill="rgb(19, 89, 115)"/>
<rect x="57.00" y="457.30" width="11.20" height="1.35" fill="rgb(40, 45, 12)"/>
<rect x="68.15" y="457.30" width="11.45" height="1.35" fill="rgb(7, 46, 60)"/>
<rect x="22.10" y="458.60" width="11.80" height="0.95" fill="rgb(27, 99, 129)"/>
<rect x="33.85" y="458.60" width="11.50" height="0.95" fill="rgb(23, 91, 119)"/>
<rect x="45.30" y="458.60" width="11.75" height="0.95" fill="rgb(8, 42, 54)"/>
<rect x="57.00" y="458.60" width="11.20" height="0.95" fill="rgb(0, 2, 1)"/>
<rect x="68.15" y="458.60" width="11.45" height="0.95" fill="rgb(2, 19, 25)"/>
<rect x="22.10" y="459.50" width="11.80" height="1.35" fill="rgb(28, 105, 135)"/>
<rect x="33.85" y="459.50" width="11.50" height="1.35" fill="rgb(34, 135, 176)"/>
<rect x="45.30" y="459.50" width="11.75" height="1.35" fill="rgb(18, 88, 113)"/>
<rect x="57.00" y="459.50" width="11.20" height="1.35" fill="rgb(40, 45, 12)"/>
<rect x="68.15" y="459.50" width="11.45" height="1.35" fill="rgb(3, 20, 26)"/>
<rect x="22.10" y="460.80" width="11.80" height="0.95" fill="rgb(23, 85, 110)"/>
<rect x="33.85" y="460.80" width="11.50" height="0.95" fill="rgb(21, 86, 112)"/>
<rect x="45.30" y="460.80" width="11.75" height="0.95" fill="rgb(10, 48, 62)"/>
<rect x="57.00" y="460.80" width="11.20" height="0.95" fill="rgb(1, 5, 3)"/>
<rect x="68.15" y="460.80" width="11.45" height="0.95" fill="rgb(1, 9, 12)"/>
<rect x="22.10" y="461.70" width="11.80" height="0.95" fill="rgb(29, 109, 140)"/>
<rect x="33.85" y="461.70" width="11.50" height="0.95" fill="rgb(26, 104, 135)"/>
<rect x="45.30" y="461.70" width="11.75" height="0.95" fill="rgb(17, 81, 105)"/>
<rect x="57.00" y="461.70" width="11.20" height="0.95" fill="rgb(1, 4, 2)"/>
<rect x="68.15" y="461.70" width="11.45" height="0.95" fill="rgb(1, 12, 15)"/>
<rect x="22.10" y="462.60" width="11.80" height="2.15" fill="rgb(23, 87, 112)"/>
<rect x="33.85" y="462.60" width="11.50" height="2.15" fill="rgb(18, 71, 93)"/>
<rect x="45.30" y="462.60" width="11.75" height="2.15" fill="rgb(10, 51, 66)"/>
<rect x="57.00" y="462.60" width="11.20" height="2.15" fill="rgb(3, 9, 5)"/>
<rect x="68.15" y="462.60" width="11.45" height="2.15" fill="rgb(0, 3, 4)"/>
<rect x="22.10" y="464.70" width="11.80" height="0.95" fill="rgb(32, 119, 154)"/>
<rect x="33.85" y="464.70" width="11.50" height="0.95" fill="rgb(30, 120, 156)"/>
<rect x="45.30" y="464.70" width="11.75" height="0.95" fill="rgb(15, 71, 92)"/>
<rect x="57.00" y="464.70" width="11.20" height="0.95" fill="rgb(6, 16, 10)"/>
<rect x="68.15" y="464.70" width="11.45" height="0.95" fill="rgb(4, 28, 37)"/>
<rect x="22.10" y="465.60" width="11.80" height="1.15" fill="rgb(23, 85, 110)"/>
<rect x="33.85" y="465.60" width="11.50" height="1.15" fill="rgb(19, 78, 101)"/>
<rect x="45.30" y="465.60" width="11.75" height="1.15" fill="rgb(11, 55, 72)"/>
<rect x="57.00" y="465.60" width="11.20" height="1.15" fill="rgb(0, 2, 1)"/>
<rect x="68.15" y="465.60" width="11.45" height="1.15" fill="rgb(0, 1, 1)"/>
<rect x="22.10" y="466.70" width="11.80" height="1.35" fill="rgb(29, 106, 137)"/>
<rect x="33.85" y="466.70" width="11.50" height="1.35" fill="rgb(21, 83, 109)"/>
<rect x="45.30" y="466.70" width="11.75" height="1.35" fill="rgb(12, 60, 77)"/>
<rect x="57.00" y="466.70" width="11.20" height="1.35" fill="rgb(2, 5, 3)"/>
<rect x="68.15" y="466.70" width="11.45" height="1.35" fill="rgb(0, 1, 1)"/>
<rect x="22.10" y="468.00" width="11.80" height="1.85" fill="rgb(34, 125, 161)"/>
<rect x="33.85" y="468.00" width="11.50" height="1.85" fill="rgb(32, 127, 165)"/>
<rect x="45.30" y="468.00" width="11.75" height="1.85" fill="rgb(15, 75, 96)"/>
<rect x="57.00" y="468.00" width="11.20" height="1.85" fill="rgb(3, 9, 5)"/>
<rect x="68.15" y="468.00" width="11.45" height="1.85" fill="rgb(3, 23, 30)"/>
<rect x="22.10" y="469.80" width="11.80" height="0.75" fill="rgb(36, 132, 171)"/>
<rect x="33.85" y="469.80" width="11.50" height="0.75" fill="rgb(35, 137, 179)"/>
<rect x="45.30" y="469.80" width="11.75" height="0.75" fill="rgb(17, 82, 105)"/>
<rect x="57.00" y="469.80" width="11.20" height="0.75" fill="rgb(2, 7, 4)"/>
<rect x="68.15" y="469.80" width="11.45" height="0.75" fill="rgb(4, 32, 42)"/>
<rect x="22.10" y="470.50" width="11.80" height="1.85" fill="rgb(36, 133, 171)"/>
<rect x="33.85" y="470.50" width="11.50" height="1.85" fill="rgb(29, 114, 149)"/>
<rect x="45.30" y="470.50" width="11.75" height="1.85" fill="rgb(11, 55, 71)"/>
<rect x="57.00" y="470.50" width="11.20" height="1.85" fill="rgb(2, 7, 4)"/>
<rect x="68.15" y="470.50" width="11.45" height="1.85" fill="rgb(0, 5, 7)"/>
<rect x="22.10" y="472.30" width="11.80" height="0.95" fill="rgb(26, 96, 124)"/>
<rect x="33.85" y="472.30" width="11.50" height="0.95" fill="rgb(30, 120, 156)"/>
<rect x="45.30" y="472.30" width="11.75" height="0.95" fill="rgb(13, 64, 83)"/>
<rect x="57.00" y="472.30" width="11.20" height="0.95" fill="rgb(7, 19, 12)"/>
<rect x="68.15" y="472.30" width="11.45" height="0.95" fill="rgb(5, 33, 43)"/>
<rect x="22.10" y="473.20" width="11.80" height="2.15" fill="rgb(33, 121, 156)"/>
<rect x="33.85" y="473.20" width="11.50" height="2.15" fill="rgb(21, 85, 111)"/>
<rect x="45.30" y="473.20" width="11.75" height="2.15" fill="rgb(12, 57, 73)"/>
<rect x="57.00" y="473.20" width="11.20" height="2.15" fill="rgb(1, 3, 2)"/>
<rect x="68.15" y="473.20" width="11.45" height="2.15" fill="rgb(1, 12, 15)"/>
<rect x="22.10" y="475.30" width="11.80" height="1.85" fill="rgb(31, 117, 151)"/>
<rect x="33.85" y="475.30" width="11.50" height="1.85" fill="rgb(10, 42, 55)"/>
<rect x="45.30" y="475.30" width="11.75" height="1.85" fill="rgb(7, 36, 47)"/>
<rect x="57.00" y="475.30" width="11.20" height="1.85" fill="rgb(4, 11, 7)"/>
<rect x="68.15" y="475.30" width="11.45" height="1.85" fill="rgb(3, 20, 27)"/>
<rect x="22.10" y="477.10" width="11.80" height="0.95" fill="rgb(28, 103, 133)"/>
<rect x="33.85" y="477.10" width="11.50" height="0.95" fill="rgb(30, 117, 153)"/>
<rect x="45.30" y="477.10" width="11.75" height="0.95" fill="rgb(19, 90, 116)"/>
<rect x="57.00" y="477.10" width="11.20" height="0.95" fill="rgb(1, 3, 2)"/>
<rect x="68.15" y="477.10" width="11.45" height="0.95" fill="rgb(3, 24, 31)"/>
<rect x="22.10" y="478.00" width="11.80" height="2.15" fill="rgb(30, 111, 143)"/>
<rect x="33.85" y="478.00" width="11.50" height="2.15" fill="rgb(23, 91, 119)"/>
<rect x="45.30" y="478.00" width="11.75" height="2.15" fill="rgb(19, 93, 120)"/>
<rect x="57.00" y="478.00" width="11.20" height="2.15" fill="rgb(2, 6, 4)"/>
<rect x="68.15" y="478.00" width="11.45" height="2.15" fill="rgb(4, 28, 36)"/>
<rect x="22.10" y="480.10" width="11.80" height="1.15" fill="rgb(32, 118, 152)"/>
<rect x="33.85" y="480.10" width="11.50" height="1.15" fill="rgb(18, 73, 96)"/>
<rect x="45.30" y="480.10" width="11.75" height="1.15" fill="rgb(11, 52, 68)"/>
<rect x="57.00" y="480.10" width="11.20" height="1.15" fill="rgb(3, 8, 5)"/>
<rect x="68.15" y="480.10" width="11.45" height="1.15" fill="rgb(2, 17, 22)"/>
<rect x="22.10" y="481.20" width="11.80" height="1.35" fill="rgb(22, 81, 105)"/>
<rect x="33.85" y="481.20" width="11.50" height="1.35" fill="rgb(25, 98, 128)"/>
<rect x="45.30" y="481.20" width="11.75" height="1.35" fill="rgb(14, 69, 89)"/>
<rect x="57.00" y="481.20" width="11.20" height="1.35" fill="rgb(2, 6, 4)"/>
<rect x="68.15" y="481.20" width="11.45" height="1.35" fill="rgb(2, 13, 17)"/>
<rect x="22.10" y="482.50" width="11.80" height="1.55" fill="rgb(30, 112, 145)"/>
<rect x="33.85" y="482.50" width="11.50" height="1.55" fill="rgb(23, 93, 121)"/>
<rect x="45.30" y="482.50" width="11.75" height="1.55" fill="rgb(13, 61, 79)"/>
<rect x="57.00" y="482.50" width="11.20" height="1.55" fill="rgb(2, 7, 4)"/>
<rect x="68.15" y="482.50" width="11.45" height="1.55" fill="rgb(3, 26, 33)"/>
<rect x="22.10" y="484.00" width="11.80" height="1.85" fill="rgb(21, 78, 101)"/>
<rect x="33.85" y="484.00" width="11.50" height="1.85" fill="rgb(19, 77, 101)"/>
<rect x="45.30" y="484.00" width="11.75" height="1.85" fill="rgb(11, 55, 71)"/>
<rect x="57.00" y="484.00" width="11.20" height="1.85" fill="rgb(0, 0, 0)"/>
<rect x="68.15" y="484.00" width="11.45" height="1.85" fill="rgb(1, 10, 14)"/>
<rect x="22.10" y="485.80" width="11.80" height="0.95" fill="rgb(28, 105, 135)"/>
<rect x="33.85" y="485.80" width="11.50" height="0.95" fill="rgb(18, 74, 96)"/>
<rect x="45.30" y="485.80" width="11.75" height="0.95" fill="rgb(8, 41, 53)"/>
<rect x="57.00" y="485.80" width="11.20" height="0.95" fill="rgb(2, 7, 4)"/>
<rect x="68.15" y="485.80" width="11.45" height="0.95" fill="rgb(1, 12, 16)"/>
<rect x="22.10" y="486.70" width="11.80" height="0.15" fill="rgb(32, 118, 152)"/>
<rect x="33.85" y="486.70" width="11.50" height="0.15" fill="rgb(26, 104, 136)"/>
<rect x="45.30" y="486.70" width="11.75" height="0.15" fill="rgb(14, 69, 90)"/>
<rect x="57.00" y="486.70" width="11.20" height="0.15" fill="rgb(4, 11, 7)"/>
<rect x="68.15" y="486.70" width="11.45" height="0.15" fill="rgb(6, 41, 54)"/>
</g>
<text transform="translate(31.4,65.4) rotate(-90)" font-size="8.3" fill="#111">Wt Cry5B</text>
<text transform="translate(43.6,65.4) rotate(-90)" font-size="8.3" fill="#111"><tspan font-style="italic">sek-1</tspan> Cry5B</text>
<text transform="translate(53.7,65.4) rotate(-90)" font-size="8.3" fill="#111"><tspan font-style="italic">kgb-1</tspan> Cry5B</text>
<text transform="translate(65.6,65.4) rotate(-90)" font-size="8.3" fill="#111"><tspan font-style="italic">sek-1</tspan> basal</text>
<text transform="translate(76.7,65.4) rotate(-90)" font-size="8.3" fill="#111"><tspan font-style="italic">kgb-1</tspan> basal</text>
<line x1="83.4" y1="67.6" x2="115.4" y2="67.6" stroke="#222" stroke-width="0.9"/>
<line x1="82.9" y1="99.8" x2="115.3" y2="139.5" stroke="#222" stroke-width="0.9"/>
<line x1="83" y1="253.8" x2="115.7" y2="248.9" stroke="#222" stroke-width="0.9"/>
<line x1="83.8" y1="446.4" x2="116.4" y2="379.5" stroke="#222" stroke-width="0.9"/>
<line x1="83.8" y1="485.8" x2="116.7" y2="485.8" stroke="#222" stroke-width="0.9"/>
<text transform="translate(84.9,84.1) scale(0.92,1.12)" font-size="7.8" font-weight="bold" fill="#111">I</text>
<text x="84.7" y="92.7" font-size="6.6" fill="#111">(84/95)</text>
<text transform="translate(84.9,177.6) scale(0.92,1.12)" font-size="7.8" font-weight="bold" fill="#111">II</text>
<text x="84.7" y="186.7" font-size="6.6" fill="#111">(229/416)</text>
<text transform="translate(84.9,346.8) scale(0.92,1.12)" font-size="7.8" font-weight="bold" fill="#111">III</text>
<text x="84.7" y="354.6" font-size="6.6" fill="#111">(393/536)</text>
<text transform="translate(84.9,468.8) scale(0.92,1.12)" font-size="7.8" font-weight="bold" fill="#111">IV</text>
<text x="84.7" y="476.3" font-size="6.6" fill="#111">(76/110)</text>
<text x="117.6" y="72.4" font-size="6.6" fill="#111" xml:space="preserve">Biological process unclassified</text>
<text x="117.6" y="95.3" font-size="6.6" fill="#111" xml:space="preserve">Molecular function unclassified,</text>
<text x="117.6" y="107.0" font-size="6.6" fill="#111" xml:space="preserve">Non-receptor serine/threonine protein kinase,</text>
<text x="117.6" y="118.3" font-size="6.6" fill="#111" xml:space="preserve">Non-receptor tyrosine protein kinase,</text>
<text x="117.6" y="129.9" font-size="6.6" fill="#111" xml:space="preserve">mRNA polyadenylation factor, Cell adhesion molecule</text>
<text x="117.6" y="153.0" font-size="6.6" fill="#111" xml:space="preserve">Detoxification, Cell structure and motility,</text>
<text x="117.6" y="164.7" font-size="6.6" fill="#111" xml:space="preserve">Lipid, fatty acid and steroid metabolism, Apoptosis,</text>
<text x="117.6" y="175.8" font-size="6.6" fill="#111" xml:space="preserve">Immunity and defense, Oxidative phosphorylation,</text>
<text x="117.6" y="187.5" font-size="6.6" fill="#111" xml:space="preserve">DNA metabolism, Antioxidation and free radical removal</text>
<text x="117.6" y="210.8" font-size="6.6" fill="#111" xml:space="preserve">Kinase, Peroxidase, Protein kinase, Other transferase,</text>
<text x="117.6" y="222.0" font-size="6.6" fill="#111" xml:space="preserve">Phospholipase, Select regulatory molecule,</text>
<text x="117.6" y="233.3" font-size="6.6" fill="#111" xml:space="preserve">Non-receptor serine/threonine protein kinase</text>
<text x="117.6" y="268.2" font-size="6.6" fill="#111" xml:space="preserve">Amino acid metabolism, Other metabolism, Carbohydrate metabolism,</text>
<text x="117.6" y="279.4" font-size="6.6" fill="#111" xml:space="preserve">Lipid, fatty acid and steroid metabolism, Protein metabolism and modification,</text>
<text x="117.6" y="290.7" font-size="6.6" fill="#111" xml:space="preserve">Protein biosynthesis, Immunity and defense, Transport, Amino acid catabolism,</text>
<text x="117.6" y="302.0" font-size="6.6" fill="#111" xml:space="preserve">Extracellular transport and import, Pyrimidine metabolism, Sulfur metabolism</text>
<text x="117.6" y="324.9" font-size="6.6" fill="#111" xml:space="preserve">Oxidoreductase, Transporter, Ribosomal protein, Nucleic acid binding,</text>
<text x="117.6" y="336.5" font-size="6.6" fill="#111" xml:space="preserve">Transfer/carrier protein, Hydrolase, Transferase, Select calcium binding protein,</text>
<text x="117.6" y="348.2" font-size="6.6" fill="#111" xml:space="preserve">Synthase and synthetase, ATP-binding cassette (ABC) transporter,</text>
<text x="117.6" y="359.8" font-size="6.6" fill="#111" xml:space="preserve">Chaperone, Other G-protein modulator, Glycosidase, Protease,</text>
<text x="117.6" y="371.0" font-size="6.6" fill="#111" xml:space="preserve">Acyltransferase, Dehydrogenase, Tubulin,  Lyase</text>
<text x="117.6" y="394.3" font-size="6.6" fill="#111" xml:space="preserve">Lipid, fatty acid and steroid metabolism, Carbohydrate metabolism,</text>
<text x="117.6" y="406.0" font-size="6.6" fill="#111" xml:space="preserve">Purine metabolism, Fatty acid metabolism, Vision, Amino acid metabolism,</text>
<text x="117.6" y="417.6" font-size="6.6" fill="#111" xml:space="preserve">Coenzyme and prosthetic group metabolism, Vitamin biosynthesis,</text>
<text x="117.6" y="428.9" font-size="6.6" fill="#111" xml:space="preserve">Fatty acid beta-oxidation, Developmental processes</text>
<text x="117.6" y="451.8" font-size="6.6" fill="#111" xml:space="preserve">Oxidoreductase, Glycosyltransferase, Transferase, Storage protein,</text>
<text x="117.6" y="463.1" font-size="6.6" fill="#111" xml:space="preserve">Transporter, DNA helicase, Miscellaneous function,</text>
<text x="117.6" y="474.7" font-size="6.6" fill="#111" xml:space="preserve">Other transferase, Other oxidoreductase, Ligase, Hydrolase,</text>
<text x="117.6" y="486.0" font-size="6.6" fill="#111" xml:space="preserve">Non-motor actin binding protein</text>
<text x="320.2" y="449.8" font-size="5.9" fill="#111">log<tspan font-size="4" dy="1.4">2</tspan><tspan dy="-1.4">(fold change)</tspan></text>
<rect x="341.4" y="456.0" width="3.9" height="26.9" fill="url(#cbar)"/>
<text x="348" y="457.6" font-size="6.1" fill="#111">&gt; 5</text>
<text x="348" y="485.7" font-size="6.1" fill="#111">&lt; -5</text>
<line x1="368.5" y1="62.3" x2="368.5" y2="207.0" stroke="#000" stroke-width="1"/>
<line x1="365.5" y1="206.5" x2="534.5" y2="206.5" stroke="#000" stroke-width="1"/>
<line x1="365.5" y1="206.50" x2="368.5" y2="206.50" stroke="#000" stroke-width="1"/>
<text transform="translate(360,209.40) scale(1,1.05)" font-size="9.4" text-anchor="end" fill="#111">0</text>
<line x1="365.5" y1="170.45" x2="368.5" y2="170.45" stroke="#000" stroke-width="1"/>
<text transform="translate(360,173.35) scale(1,1.05)" font-size="9.4" text-anchor="end" fill="#111">200</text>
<line x1="365.5" y1="134.40" x2="368.5" y2="134.40" stroke="#000" stroke-width="1"/>
<text transform="translate(360,137.30) scale(1,1.05)" font-size="9.4" text-anchor="end" fill="#111">400</text>
<line x1="365.5" y1="98.35" x2="368.5" y2="98.35" stroke="#000" stroke-width="1"/>
<text transform="translate(360,101.25) scale(1,1.05)" font-size="9.4" text-anchor="end" fill="#111">600</text>
<line x1="365.5" y1="62.30" x2="368.5" y2="62.30" stroke="#000" stroke-width="1"/>
<text transform="translate(360,65.20) scale(1,1.05)" font-size="9.4" text-anchor="end" fill="#111">800</text>
<line x1="368.5" y1="206.5" x2="368.5" y2="209.7" stroke="#000" stroke-width="1"/>
<line x1="451.8" y1="206.5" x2="451.8" y2="209.7" stroke="#000" stroke-width="1"/>
<line x1="534" y1="206.5" x2="534" y2="209.7" stroke="#000" stroke-width="1"/>
<text transform="translate(340.4,134.7) rotate(-90)" font-size="9.75" font-weight="bold" text-anchor="middle" fill="#000">Number of transcripts</text>
<rect x="393.1" y="156.93" width="34" height="49.57" fill="url(#gBlu)"/>
<rect x="393.1" y="149.54" width="34" height="7.39" fill="url(#gRed)"/>
<rect x="393.1" y="148.28" width="34" height="1.26" fill="url(#gGrn)"/>
<rect x="393.1" y="103.40" width="34" height="44.88" fill="url(#gPur)"/>
<rect x="476.0" y="111.51" width="34" height="94.99" fill="url(#gBlu)"/>
<rect x="476.0" y="110.43" width="34" height="1.08" fill="url(#gRed)"/>
<rect x="476.0" y="108.98" width="34" height="1.44" fill="url(#gGrn)"/>
<rect x="476.0" y="79.06" width="34" height="29.92" fill="url(#gPur)"/>
<text x="389.9" y="127.0" font-size="8.6" text-anchor="end" fill="#222">249</text>
<text x="389.9" y="147.7" font-size="8.6" text-anchor="end" fill="#222">7</text>
<text x="389.9" y="157.8" font-size="8.6" text-anchor="end" fill="#222">41</text>
<text x="389.9" y="183.4" font-size="8.6" text-anchor="end" fill="#222">275</text>
<text x="472.9" y="97.3" font-size="8.6" text-anchor="end" fill="#222">166</text>
<text x="472.9" y="108.9" font-size="8.6" text-anchor="end" fill="#222">8</text>
<text x="472.9" y="116.7" font-size="8.6" text-anchor="end" fill="#222">6</text>
<text x="472.9" y="164.2" font-size="8.6" text-anchor="end" fill="#222">527</text>
<text x="409.9" y="222.1" font-size="9.7" text-anchor="middle" fill="#111">Induced</text>
<text x="493.5" y="222.1" font-size="9.7" text-anchor="middle" fill="#111">Repressed</text>
<rect x="520.2" y="87.1" width="4.6" height="4.2" fill="#7a55a6"/>
<text x="527.6" y="92.3" font-size="9.1" fill="#111">KGB-1 only dependent</text>
<rect x="520.2" y="108.9" width="4.6" height="4.2" fill="#9bbb59"/>
<text x="527.6" y="114.1" font-size="9.1" fill="#111">SEK-1 only dependent</text>
<rect x="520.2" y="130.1" width="4.6" height="4.2" fill="#c0504d"/>
<text x="527.6" y="135.3" font-size="9.1" fill="#111">KGB-1/SEK-1 dependent</text>
<rect x="520.2" y="151.3" width="4.6" height="4.2" fill="#4f81bd"/>
<text x="527.6" y="156.5" font-size="9.1" fill="#111">KGB-1/SEK-1 independent</text>
<line x1="416.4" y1="299.00" x2="416.4" y2="433.60" stroke="#222" stroke-width="1"/>
<line x1="412.2" y1="433.10" x2="416.4" y2="433.10" stroke="#222" stroke-width="0.9"/>
<line x1="414.2" y1="423.05" x2="416.4" y2="423.05" stroke="#333" stroke-width="0.7"/>
<line x1="414.2" y1="417.16" x2="416.4" y2="417.16" stroke="#333" stroke-width="0.7"/>
<line x1="414.2" y1="412.99" x2="416.4" y2="412.99" stroke="#333" stroke-width="0.7"/>
<line x1="414.2" y1="409.75" x2="416.4" y2="409.75" stroke="#333" stroke-width="0.7"/>
<line x1="414.2" y1="407.11" x2="416.4" y2="407.11" stroke="#333" stroke-width="0.7"/>
<line x1="414.2" y1="404.87" x2="416.4" y2="404.87" stroke="#333" stroke-width="0.7"/>
<line x1="414.2" y1="402.94" x2="416.4" y2="402.94" stroke="#333" stroke-width="0.7"/>
<line x1="414.2" y1="401.23" x2="416.4" y2="401.23" stroke="#333" stroke-width="0.7"/>
<line x1="412.2" y1="399.70" x2="416.4" y2="399.70" stroke="#222" stroke-width="0.9"/>
<line x1="414.2" y1="389.65" x2="416.4" y2="389.65" stroke="#333" stroke-width="0.7"/>
<line x1="414.2" y1="383.76" x2="416.4" y2="383.76" stroke="#333" stroke-width="0.7"/>
<line x1="414.2" y1="379.59" x2="416.4" y2="379.59" stroke="#333" stroke-width="0.7"/>
<line x1="414.2" y1="376.35" x2="416.4" y2="376.35" stroke="#333" stroke-width="0.7"/>
<line x1="414.2" y1="373.71" x2="416.4" y2="373.71" stroke="#333" stroke-width="0.7"/>
<line x1="414.2" y1="371.47" x2="416.4" y2="371.47" stroke="#333" stroke-width="0.7"/>
<line x1="414.2" y1="369.54" x2="416.4" y2="369.54" stroke="#333" stroke-width="0.7"/>
<line x1="414.2" y1="367.83" x2="416.4" y2="367.83" stroke="#333" stroke-width="0.7"/>
<line x1="412.2" y1="366.30" x2="416.4" y2="366.30" stroke="#222" stroke-width="0.9"/>
<line x1="414.2" y1="356.25" x2="416.4" y2="356.25" stroke="#333" stroke-width="0.7"/>
<line x1="414.2" y1="350.36" x2="416.4" y2="350.36" stroke="#333" stroke-width="0.7"/>
<line x1="414.2" y1="346.19" x2="416.4" y2="346.19" stroke="#333" stroke-width="0.7"/>
<line x1="414.2" y1="342.95" x2="416.4" y2="342.95" stroke="#333" stroke-width="0.7"/>
<line x1="414.2" y1="340.31" x2="416.4" y2="340.31" stroke="#333" stroke-width="0.7"/>
<line x1="414.2" y1="338.07" x2="416.4" y2="338.07" stroke="#333" stroke-width="0.7"/>
<line x1="414.2" y1="336.14" x2="416.4" y2="336.14" stroke="#333" stroke-width="0.7"/>
<line x1="414.2" y1="334.43" x2="416.4" y2="334.43" stroke="#333" stroke-width="0.7"/>
<line x1="412.2" y1="332.90" x2="416.4" y2="332.90" stroke="#222" stroke-width="0.9"/>
<line x1="414.2" y1="322.85" x2="416.4" y2="322.85" stroke="#333" stroke-width="0.7"/>
<line x1="414.2" y1="316.96" x2="416.4" y2="316.96" stroke="#333" stroke-width="0.7"/>
<line x1="414.2" y1="312.79" x2="416.4" y2="312.79" stroke="#333" stroke-width="0.7"/>
<line x1="414.2" y1="309.55" x2="416.4" y2="309.55" stroke="#333" stroke-width="0.7"/>
<line x1="414.2" y1="306.91" x2="416.4" y2="306.91" stroke="#333" stroke-width="0.7"/>
<line x1="414.2" y1="304.67" x2="416.4" y2="304.67" stroke="#333" stroke-width="0.7"/>
<line x1="414.2" y1="302.74" x2="416.4" y2="302.74" stroke="#333" stroke-width="0.7"/>
<line x1="414.2" y1="301.03" x2="416.4" y2="301.03" stroke="#333" stroke-width="0.7"/>
<line x1="412.2" y1="299.50" x2="416.4" y2="299.50" stroke="#222" stroke-width="0.9"/>
<text transform="translate(411.2,302.60) scale(1,1.13)" font-size="9.0" text-anchor="end" fill="#333">100</text>
<text transform="translate(411.2,336.40) scale(1,1.13)" font-size="9.0" text-anchor="end" fill="#333">10</text>
<text transform="translate(411.2,369.80) scale(1,1.13)" font-size="9.0" text-anchor="end" fill="#333">1</text>
<text transform="translate(411.2,403.60) scale(1,1.13)" font-size="9.0" text-anchor="end" fill="#333">0.1</text>
<text transform="translate(411.2,437.50) scale(1,1.13)" font-size="9.0" text-anchor="end" fill="#333">0.01</text>
<text transform="translate(390.2,363.2) rotate(-90)" font-size="10.7" font-weight="bold" text-anchor="middle" fill="#000">Fold change (Cry5B/control)</text>
<rect x="420.50" y="341.10" width="6.05" height="25.20" fill="#5a5a5a" stroke="#222" stroke-width="0.9"/>
<line x1="423.53" y1="341.10" x2="423.53" y2="338.30" stroke="#333" stroke-width="0.7"/>
<line x1="421.93" y1="338.30" x2="425.13" y2="338.30" stroke="#333" stroke-width="0.7"/>
<rect x="427.35" y="362.30" width="6.05" height="4.00" fill="#ffffff" stroke="#222" stroke-width="0.9"/>
<line x1="430.38" y1="362.30" x2="430.38" y2="360.20" stroke="#333" stroke-width="0.7"/>
<line x1="428.78" y1="360.20" x2="431.98" y2="360.20" stroke="#333" stroke-width="0.7"/>
<rect x="434.20" y="343.20" width="6.05" height="23.10" fill="url(#hatch)" stroke="#222" stroke-width="0.9"/>
<line x1="437.23" y1="343.20" x2="437.23" y2="341.40" stroke="#333" stroke-width="0.7"/>
<line x1="435.62" y1="341.40" x2="438.83" y2="341.40" stroke="#333" stroke-width="0.7"/>
<text transform="translate(433.60,424.3) rotate(-90)" font-size="10.2" font-style="italic" text-anchor="end" fill="#222">F20C5.4</text>
<rect x="446.80" y="329.90" width="6.05" height="36.40" fill="#5a5a5a" stroke="#222" stroke-width="0.9"/>
<line x1="449.82" y1="329.90" x2="449.82" y2="327.10" stroke="#333" stroke-width="0.7"/>
<line x1="448.22" y1="327.10" x2="451.43" y2="327.10" stroke="#333" stroke-width="0.7"/>
<rect x="453.65" y="343.20" width="6.05" height="23.10" fill="#ffffff" stroke="#222" stroke-width="0.9"/>
<line x1="456.68" y1="343.20" x2="456.68" y2="341.40" stroke="#333" stroke-width="0.7"/>
<line x1="455.07" y1="341.40" x2="458.28" y2="341.40" stroke="#333" stroke-width="0.7"/>
<rect x="460.50" y="355.10" width="6.05" height="11.20" fill="url(#hatch)" stroke="#222" stroke-width="0.9"/>
<line x1="463.52" y1="355.10" x2="463.52" y2="352.40" stroke="#333" stroke-width="0.7"/>
<line x1="461.92" y1="352.40" x2="465.12" y2="352.40" stroke="#333" stroke-width="0.7"/>
<text transform="translate(460.55,424.3) rotate(-90)" font-size="10.2" font-style="italic" text-anchor="end" fill="#222">lact-3</text>
<rect x="473.60" y="332.00" width="6.05" height="34.30" fill="#5a5a5a" stroke="#222" stroke-width="0.9"/>
<line x1="476.62" y1="332.00" x2="476.62" y2="330.80" stroke="#333" stroke-width="0.7"/>
<line x1="475.02" y1="330.80" x2="478.23" y2="330.80" stroke="#333" stroke-width="0.7"/>
<rect x="480.45" y="363.30" width="6.05" height="3.00" fill="#ffffff" stroke="#222" stroke-width="0.9"/>
<line x1="483.48" y1="363.30" x2="483.48" y2="361.20" stroke="#333" stroke-width="0.7"/>
<line x1="481.88" y1="361.20" x2="485.08" y2="361.20" stroke="#333" stroke-width="0.7"/>
<rect x="487.30" y="363.00" width="6.05" height="3.30" fill="url(#hatch)" stroke="#222" stroke-width="0.9"/>
<line x1="490.32" y1="363.00" x2="490.32" y2="361.00" stroke="#333" stroke-width="0.7"/>
<line x1="488.72" y1="361.00" x2="491.93" y2="361.00" stroke="#333" stroke-width="0.7"/>
<text transform="translate(487.50,424.3) rotate(-90)" font-size="10.2" font-style="italic" text-anchor="end" fill="#222">ttm-1</text>
<rect x="500.70" y="316.30" width="6.05" height="50.00" fill="#5a5a5a" stroke="#222" stroke-width="0.9"/>
<line x1="503.73" y1="316.30" x2="503.73" y2="312.50" stroke="#333" stroke-width="0.7"/>
<line x1="502.12" y1="312.50" x2="505.33" y2="312.50" stroke="#333" stroke-width="0.7"/>
<rect x="507.55" y="314.20" width="6.05" height="52.10" fill="#ffffff" stroke="#222" stroke-width="0.9"/>
<line x1="510.58" y1="314.20" x2="510.58" y2="312.00" stroke="#333" stroke-width="0.7"/>
<line x1="508.98" y1="312.00" x2="512.18" y2="312.00" stroke="#333" stroke-width="0.7"/>
<rect x="514.40" y="303.90" width="6.05" height="62.40" fill="url(#hatch)" stroke="#222" stroke-width="0.9"/>
<line x1="517.42" y1="303.90" x2="517.42" y2="301.10" stroke="#333" stroke-width="0.7"/>
<line x1="515.82" y1="301.10" x2="519.02" y2="301.10" stroke="#333" stroke-width="0.7"/>
<text transform="translate(514.45,424.3) rotate(-90)" font-size="10.2" font-style="italic" text-anchor="end" fill="#222">oac-14</text>
<rect x="527.60" y="366.30" width="6.05" height="47.20" fill="#5a5a5a" stroke="#222" stroke-width="0.9"/>
<line x1="530.62" y1="413.50" x2="530.62" y2="419.30" stroke="#333" stroke-width="0.7"/>
<line x1="529.02" y1="419.30" x2="532.23" y2="419.30" stroke="#333" stroke-width="0.7"/>
<rect x="534.45" y="366.30" width="6.05" height="2.50" fill="#ffffff" stroke="#222" stroke-width="0.9"/>
<line x1="537.48" y1="368.80" x2="537.48" y2="372.80" stroke="#333" stroke-width="0.7"/>
<line x1="535.88" y1="372.80" x2="539.08" y2="372.80" stroke="#333" stroke-width="0.7"/>
<rect x="541.30" y="366.30" width="6.05" height="31.80" fill="url(#hatch)" stroke="#222" stroke-width="0.9"/>
<line x1="544.33" y1="398.10" x2="544.33" y2="403.40" stroke="#333" stroke-width="0.7"/>
<line x1="542.73" y1="403.40" x2="545.93" y2="403.40" stroke="#333" stroke-width="0.7"/>
<text transform="translate(541.40,424.3) rotate(-90)" font-size="10.2" font-style="italic" text-anchor="end" fill="#222">amt-4</text>
<rect x="554.70" y="366.30" width="6.05" height="24.30" fill="#5a5a5a" stroke="#222" stroke-width="0.9"/>
<line x1="557.72" y1="390.60" x2="557.72" y2="392.00" stroke="#333" stroke-width="0.7"/>
<line x1="556.12" y1="392.00" x2="559.32" y2="392.00" stroke="#333" stroke-width="0.7"/>
<rect x="561.55" y="366.30" width="6.05" height="19.10" fill="#ffffff" stroke="#222" stroke-width="0.9"/>
<line x1="564.57" y1="385.40" x2="564.57" y2="387.90" stroke="#333" stroke-width="0.7"/>
<line x1="562.97" y1="387.90" x2="566.17" y2="387.90" stroke="#333" stroke-width="0.7"/>
<rect x="568.40" y="366.30" width="6.05" height="1.30" fill="url(#hatch)" stroke="#222" stroke-width="0.9"/>
<line x1="571.42" y1="367.60" x2="571.42" y2="369.20" stroke="#333" stroke-width="0.7"/>
<line x1="569.82" y1="369.20" x2="573.02" y2="369.20" stroke="#333" stroke-width="0.7"/>
<text transform="translate(568.35,424.3) rotate(-90)" font-size="10.2" font-style="italic" text-anchor="end" fill="#222">F52G2.3</text>
<rect x="581.80" y="366.30" width="6.05" height="36.50" fill="#5a5a5a" stroke="#222" stroke-width="0.9"/>
<line x1="584.82" y1="402.80" x2="584.82" y2="404.20" stroke="#333" stroke-width="0.7"/>
<line x1="583.22" y1="404.20" x2="586.42" y2="404.20" stroke="#333" stroke-width="0.7"/>
<rect x="588.65" y="366.30" width="6.05" height="9.80" fill="#ffffff" stroke="#222" stroke-width="0.9"/>
<line x1="591.67" y1="376.10" x2="591.67" y2="377.00" stroke="#333" stroke-width="0.7"/>
<line x1="590.07" y1="377.00" x2="593.27" y2="377.00" stroke="#333" stroke-width="0.7"/>
<rect x="595.50" y="366.30" width="6.05" height="17.90" fill="url(#hatch)" stroke="#222" stroke-width="0.9"/>
<line x1="598.52" y1="384.20" x2="598.52" y2="385.00" stroke="#333" stroke-width="0.7"/>
<line x1="596.92" y1="385.00" x2="600.12" y2="385.00" stroke="#333" stroke-width="0.7"/>
<text transform="translate(595.30,424.3) rotate(-90)" font-size="10.2" font-style="italic" text-anchor="end" fill="#222">clec-57</text>
<rect x="608.90" y="366.30" width="6.05" height="33.00" fill="#5a5a5a" stroke="#222" stroke-width="0.9"/>
<line x1="611.92" y1="399.30" x2="611.92" y2="404.00" stroke="#333" stroke-width="0.7"/>
<line x1="610.32" y1="404.00" x2="613.52" y2="404.00" stroke="#333" stroke-width="0.7"/>
<rect x="615.75" y="366.30" width="6.05" height="26.90" fill="#ffffff" stroke="#222" stroke-width="0.9"/>
<line x1="618.77" y1="393.20" x2="618.77" y2="400.30" stroke="#333" stroke-width="0.7"/>
<line x1="617.17" y1="400.30" x2="620.38" y2="400.30" stroke="#333" stroke-width="0.7"/>
<rect x="622.60" y="366.30" width="6.05" height="25.70" fill="url(#hatch)" stroke="#222" stroke-width="0.9"/>
<line x1="625.62" y1="392.00" x2="625.62" y2="396.40" stroke="#333" stroke-width="0.7"/>
<line x1="624.02" y1="396.40" x2="627.23" y2="396.40" stroke="#333" stroke-width="0.7"/>
<text transform="translate(622.25,424.3) rotate(-90)" font-size="10.2" font-style="italic" text-anchor="end" fill="#222">T05C3.6</text>
<line x1="416.4" y1="366.3" x2="632.4" y2="366.3" stroke="#222" stroke-width="1"/>
<text x="430.0" y="359.9" font-size="7.2" text-anchor="middle" fill="#222">**</text>
<text x="463.9" y="350.3" font-size="7.2" text-anchor="middle" fill="#222">*</text>
<text x="486.3" y="354.5" font-size="7.2" text-anchor="middle" fill="#222">***</text>
<text x="490.8" y="362.3" font-size="7.2" text-anchor="middle" fill="#222">***</text>
<text x="537.5" y="381.6" font-size="7.2" text-anchor="middle" fill="#222">*</text>
<text x="573.0" y="378.9" font-size="7.2" text-anchor="middle" fill="#222">***</text>
<text x="592.1" y="390.5" font-size="7.2" text-anchor="middle" fill="#222">***</text>
<text x="598.5" y="393.8" font-size="7.2" text-anchor="middle" fill="#222">***</text>
<rect x="555.4" y="301.7" width="9.2" height="7.6" fill="#5a5a5a" stroke="#333" stroke-width="0.9"/>
<text x="566.2" y="308.9" font-size="9.2" fill="#333">WT</text>
<rect x="555.4" y="312.8" width="9.2" height="7.6" fill="#ffffff" stroke="#333" stroke-width="0.9"/>
<text x="566.2" y="320.0" font-size="9.2" font-style="italic" fill="#333">kgb-1(um3)</text>
<rect x="555.4" y="323.9" width="9.2" height="7.6" fill="url(#hatch)" stroke="#333" stroke-width="0.9"/>
<text x="566.2" y="331.1" font-size="9.2" font-style="italic" fill="#333">sek-1(km4)</text>
</svg></body></html>
